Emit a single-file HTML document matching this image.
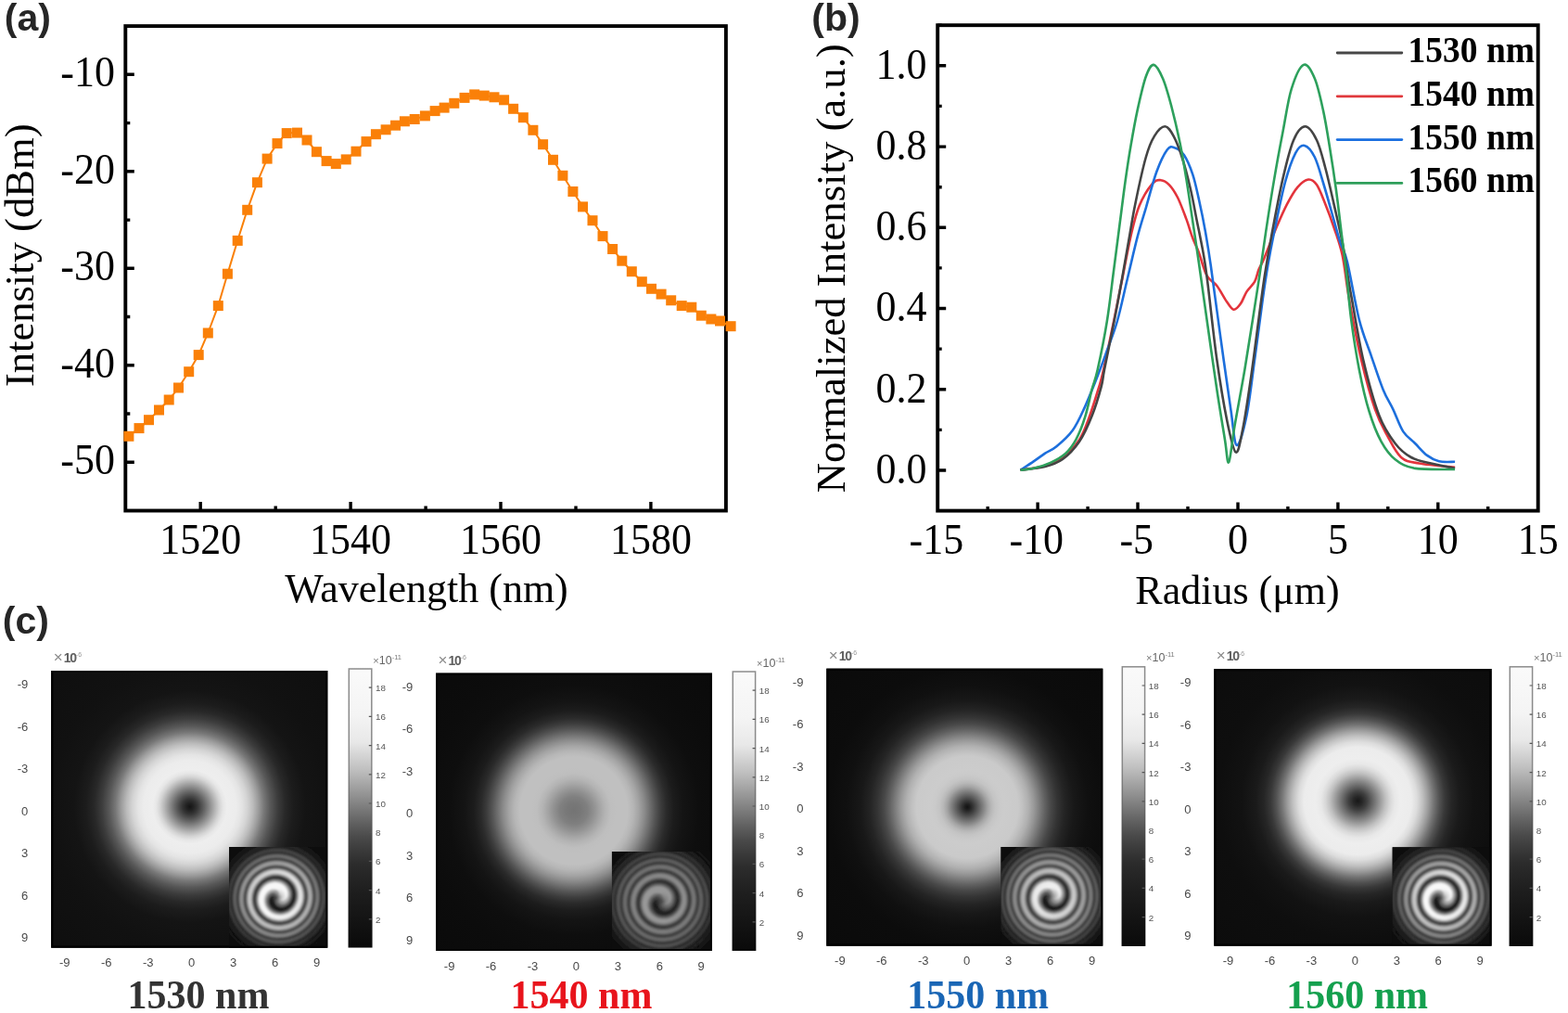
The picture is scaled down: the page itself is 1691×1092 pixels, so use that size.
<!DOCTYPE html>
<html><head><meta charset="utf-8"><style>
html,body{margin:0;padding:0;background:#fff;overflow:hidden;}
svg{display:block;}
</style></head><body>
<svg width="1691" height="1092" viewBox="0 0 1691 1092">
<rect width="1691" height="1092" fill="#fff"/>
<g id="pa">
<rect x="135.3" y="28.1" width="647.6" height="522.4" fill="none" stroke="#000" stroke-width="3.9"/>
<path d="M216.2,550.5v-9.5M297.2,550.5v-5M378.1,550.5v-9.5M459.1,550.5v-5M540.0,550.5v-9.5M621.0,550.5v-5M701.9,550.5v-9.5M135.3,498.3h9.5M135.3,446.0h5M135.3,393.8h9.5M135.3,341.5h5M135.3,289.3h9.5M135.3,237.1h5M135.3,184.8h9.5M135.3,132.6h5M135.3,80.3h9.5" stroke="#000" stroke-width="3.4" fill="none"/>
<path d="M138.9,470.3 L150,461.6 L160.5,452.7 L171.5,442 L182.2,431 L192.5,418 L203.7,400.7 L214.2,382.6 L224.3,359 L235.3,329.6 L245.4,295.2 L256.2,259.4 L266.7,226.3 L277.4,196.7 L288.1,171.1 L299,154.6 L309.2,143.6 L320.5,143.1 L331,151 L341.4,163.7 L352.1,173.6 L362.3,176.6 L373.2,171.9 L384,163.2 L395,152.6 L405.4,144.7 L416.1,139.8 L426.5,135.2 L436.4,130.8 L447.2,128.5 L458.4,124.9 L469.1,119.6 L479.1,116.1 L489.8,111.3 L501,105.4 L511.7,101.9 L522.3,103.1 L533,104.8 L543.6,107.8 L553.6,117.3 L564.3,126.7 L574.9,140.3 L585.6,155.7 L596.5,172.3 L606.9,189.3 L617.9,206.5 L628.5,222.9 L639,237.7 L650,254.6 L660.6,268.5 L670.8,281.2 L681.3,292.7 L692.3,303.7 L702.5,311.3 L713.1,317.1 L723.7,323.8 L735.2,329.6 L745.8,331.2 L756.3,340.2 L766.9,344 L776.5,346 L788.1,351.7" stroke="#F98007" stroke-width="2" fill="none"/>
<g fill="#FA8008">
<rect x="133.4" y="464.8" width="11" height="11"/>
<rect x="144.5" y="456.1" width="11" height="11"/>
<rect x="155.0" y="447.2" width="11" height="11"/>
<rect x="166.0" y="436.5" width="11" height="11"/>
<rect x="176.7" y="425.5" width="11" height="11"/>
<rect x="187.0" y="412.5" width="11" height="11"/>
<rect x="198.2" y="395.2" width="11" height="11"/>
<rect x="208.7" y="377.1" width="11" height="11"/>
<rect x="218.8" y="353.5" width="11" height="11"/>
<rect x="229.8" y="324.1" width="11" height="11"/>
<rect x="239.9" y="289.7" width="11" height="11"/>
<rect x="250.7" y="253.9" width="11" height="11"/>
<rect x="261.2" y="220.8" width="11" height="11"/>
<rect x="271.9" y="191.2" width="11" height="11"/>
<rect x="282.6" y="165.6" width="11" height="11"/>
<rect x="293.5" y="149.1" width="11" height="11"/>
<rect x="303.7" y="138.1" width="11" height="11"/>
<rect x="315.0" y="137.6" width="11" height="11"/>
<rect x="325.5" y="145.5" width="11" height="11"/>
<rect x="335.9" y="158.2" width="11" height="11"/>
<rect x="346.6" y="168.1" width="11" height="11"/>
<rect x="356.8" y="171.1" width="11" height="11"/>
<rect x="367.7" y="166.4" width="11" height="11"/>
<rect x="378.5" y="157.7" width="11" height="11"/>
<rect x="389.5" y="147.1" width="11" height="11"/>
<rect x="399.9" y="139.2" width="11" height="11"/>
<rect x="410.6" y="134.3" width="11" height="11"/>
<rect x="421.0" y="129.7" width="11" height="11"/>
<rect x="430.9" y="125.3" width="11" height="11"/>
<rect x="441.7" y="123.0" width="11" height="11"/>
<rect x="452.9" y="119.4" width="11" height="11"/>
<rect x="463.6" y="114.1" width="11" height="11"/>
<rect x="473.6" y="110.6" width="11" height="11"/>
<rect x="484.3" y="105.8" width="11" height="11"/>
<rect x="495.5" y="99.9" width="11" height="11"/>
<rect x="506.2" y="96.4" width="11" height="11"/>
<rect x="516.8" y="97.6" width="11" height="11"/>
<rect x="527.5" y="99.3" width="11" height="11"/>
<rect x="538.1" y="102.3" width="11" height="11"/>
<rect x="548.1" y="111.8" width="11" height="11"/>
<rect x="558.8" y="121.2" width="11" height="11"/>
<rect x="569.4" y="134.8" width="11" height="11"/>
<rect x="580.1" y="150.2" width="11" height="11"/>
<rect x="591.0" y="166.8" width="11" height="11"/>
<rect x="601.4" y="183.8" width="11" height="11"/>
<rect x="612.4" y="201.0" width="11" height="11"/>
<rect x="623.0" y="217.4" width="11" height="11"/>
<rect x="633.5" y="232.2" width="11" height="11"/>
<rect x="644.5" y="249.1" width="11" height="11"/>
<rect x="655.1" y="263.0" width="11" height="11"/>
<rect x="665.3" y="275.7" width="11" height="11"/>
<rect x="675.8" y="287.2" width="11" height="11"/>
<rect x="686.8" y="298.2" width="11" height="11"/>
<rect x="697.0" y="305.8" width="11" height="11"/>
<rect x="707.6" y="311.6" width="11" height="11"/>
<rect x="718.2" y="318.3" width="11" height="11"/>
<rect x="729.7" y="324.1" width="11" height="11"/>
<rect x="740.3" y="325.7" width="11" height="11"/>
<rect x="750.8" y="334.7" width="11" height="11"/>
<rect x="761.4" y="338.5" width="11" height="11"/>
<rect x="771.0" y="340.5" width="11" height="11"/>
<rect x="782.6" y="346.2" width="11" height="11"/>
</g>
<g font-family="'Liberation Serif','Times New Roman',serif" font-size="44" fill="#000">
<text transform="translate(124,511.4) scale(1,1.075)" text-anchor="end">-50</text>
<text transform="translate(124,406.9) scale(1,1.075)" text-anchor="end">-40</text>
<text transform="translate(124,302.4) scale(1,1.075)" text-anchor="end">-30</text>
<text transform="translate(124,197.9) scale(1,1.075)" text-anchor="end">-20</text>
<text transform="translate(124,93.4) scale(1,1.075)" text-anchor="end">-10</text>
<text transform="translate(216.2,596.5) scale(1,1.075)" text-anchor="middle">1520</text>
<text transform="translate(378.1,596.5) scale(1,1.075)" text-anchor="middle">1540</text>
<text transform="translate(540.0,596.5) scale(1,1.075)" text-anchor="middle">1560</text>
<text transform="translate(701.9,596.5) scale(1,1.075)" text-anchor="middle">1580</text>
<text x="460" y="649" text-anchor="middle">Wavelength (nm)</text>
<text transform="translate(36.4,275.3) rotate(-90)" text-anchor="middle" font-size="44.6">Intensity (dBm)</text>
</g>
<text x="4.8" y="33.4" font-family="'Liberation Sans',Arial,sans-serif" font-weight="bold" font-size="41" fill="#262626">(a)</text>
</g>
<g id="pb">
<rect x="1011.2" y="27.2" width="647.5" height="523.4" fill="none" stroke="#000" stroke-width="3.9"/>
<path d="M1065.2,550.6v-4.5M1119.1,550.6v-9M1173.1,550.6v-4.5M1227.0,550.6v-9M1281.0,550.6v-4.5M1335.0,550.6v-9M1388.9,550.6v-4.5M1442.9,550.6v-9M1496.8,550.6v-4.5M1550.8,550.6v-9M1604.7,550.6v-4.5M1011.2,507.0h9M1011.2,463.4h4.5M1011.2,419.8h9M1011.2,376.1h4.5M1011.2,332.5h9M1011.2,288.9h4.5M1011.2,245.3h9M1011.2,201.7h4.5M1011.2,158.1h9M1011.2,114.4h4.5M1011.2,70.8h9M1011.2,27.2h4.5" stroke="#000" stroke-width="3.4" fill="none"/>
<path d="M1100.5,506.7C1104.9,506.0 1119.6,504.5 1127.1,502.3C1134.6,500.1 1139.4,498.4 1145.6,493.7C1151.8,489.0 1159.1,481.5 1164.1,473.9C1169.0,466.3 1171.8,457.5 1175.3,448.0C1178.8,438.5 1182.7,425.3 1185.2,417.1C1187.7,408.9 1187.4,410.4 1190.1,398.6C1192.8,386.8 1197.7,362.8 1201.1,346.5C1204.5,330.2 1207.2,316.0 1210.3,300.7C1213.3,285.4 1216.4,268.0 1219.4,254.9C1222.5,241.8 1224.7,231.5 1228.6,222.0C1232.5,212.5 1238.8,202.7 1242.7,198.1C1246.6,193.5 1248.8,194.0 1251.8,194.2C1254.8,194.4 1258.0,196.2 1261.0,199.3C1264.0,202.4 1267.0,206.9 1270.1,213.0C1273.1,219.1 1276.6,228.7 1279.3,235.9C1282.0,243.2 1283.9,250.4 1286.2,256.5C1288.5,262.6 1290.5,265.7 1293.0,272.5C1295.5,279.3 1298.3,291.3 1301.5,297.2C1304.7,303.1 1308.7,303.3 1312.3,308.0C1315.9,312.7 1320.0,320.9 1323.0,325.2C1326.0,329.5 1328.0,333.4 1330.5,333.8C1333.0,334.2 1335.7,330.5 1338.0,327.3C1340.3,324.1 1342.0,318.3 1344.5,314.4C1347.0,310.5 1350.9,307.6 1353.1,303.7C1355.2,299.8 1355.8,294.9 1357.4,290.8C1359.0,286.8 1359.7,287.0 1362.9,279.4C1366.1,271.8 1372.4,255.0 1376.6,245.1C1380.8,235.2 1384.3,227.2 1388.1,219.9C1391.9,212.7 1395.7,206.0 1399.5,201.6C1403.3,197.2 1407.6,193.9 1411.0,193.5C1414.4,193.1 1417.0,194.9 1420.1,199.3C1423.1,203.7 1426.2,212.3 1429.3,219.9C1432.4,227.5 1435.5,235.9 1438.5,245.1C1441.5,254.2 1444.8,261.8 1447.6,274.8C1450.4,287.8 1451.7,304.2 1455.1,323.0C1458.5,341.8 1463.3,367.9 1468.0,387.6C1472.7,407.3 1478.3,427.8 1483.0,441.4C1487.7,455.0 1491.3,460.8 1496.0,469.4C1500.7,478.0 1505.3,488.0 1511.0,493.0C1516.7,498.0 1520.7,497.7 1530.4,499.5C1540.1,501.3 1562.6,503.1 1569.1,503.8" stroke="#E3343C" stroke-width="2.6" fill="none" stroke-linejoin="round"/>
<path d="M1100.5,506.7C1102.9,505.1 1110.3,500.4 1114.7,497.4C1119.1,494.4 1123.0,491.4 1127.1,488.7C1131.2,486.0 1134.5,485.4 1139.4,481.3C1144.3,477.2 1151.8,470.8 1156.7,464.0C1161.7,457.2 1164.6,450.5 1169.1,440.6C1173.6,430.7 1179.8,415.1 1183.9,404.7C1188.0,394.3 1190.3,387.7 1193.8,378.0C1197.3,368.3 1201.1,359.4 1204.8,346.5C1208.5,333.6 1212.1,316.0 1215.8,300.7C1219.5,285.4 1223.4,267.7 1226.8,254.9C1230.2,242.1 1232.5,235.4 1235.9,223.8C1239.3,212.2 1243.4,195.9 1247.2,185.5C1251.0,175.1 1255.5,165.9 1258.7,161.5C1262.0,157.1 1263.7,158.2 1266.7,159.2C1269.8,160.1 1273.8,162.4 1277.0,167.2C1280.2,172.0 1283.5,179.8 1286.2,187.8C1288.9,195.8 1290.7,205.0 1293.0,215.3C1295.3,225.6 1297.8,237.7 1299.9,249.6C1302.0,261.5 1303.0,267.1 1305.8,286.5C1308.6,305.9 1313.0,340.2 1316.6,366.0C1320.2,391.8 1324.4,422.3 1327.3,441.3C1330.2,460.3 1330.9,478.9 1333.8,480.0C1336.7,481.1 1341.3,463.1 1344.5,447.7C1347.7,432.3 1350.2,408.3 1353.1,387.5C1356.0,366.7 1359.3,340.1 1361.7,323.0C1364.1,305.9 1365.4,297.2 1367.5,285.0C1369.6,272.8 1371.2,264.3 1374.3,249.6C1377.3,234.9 1382.0,211.1 1385.8,197.0C1389.6,182.9 1393.7,171.6 1397.2,164.9C1400.7,158.2 1403.5,156.1 1406.9,156.9C1410.4,157.7 1414.6,162.8 1417.9,169.5C1421.2,176.2 1424.0,187.1 1427.0,197.0C1430.0,206.9 1433.2,218.3 1436.2,229.0C1439.2,239.7 1442.5,252.3 1445.3,261.1C1448.1,269.9 1449.5,268.1 1452.9,282.0C1456.3,295.9 1461.5,327.7 1465.8,344.6C1470.1,361.5 1474.4,370.8 1478.7,383.3C1483.0,395.9 1487.6,410.2 1491.6,419.9C1495.5,429.6 1498.8,433.9 1502.4,441.4C1506.0,448.9 1509.2,459.0 1513.2,465.1C1517.2,471.2 1521.8,473.7 1526.1,478.0C1530.4,482.3 1534.7,487.7 1539.0,490.9C1543.3,494.1 1546.9,496.1 1551.9,497.3C1556.9,498.5 1566.2,497.7 1569.1,497.8" stroke="#1D6FDC" stroke-width="2.6" fill="none" stroke-linejoin="round"/>
<path d="M1100.5,506.7C1104.9,506.1 1119.4,504.9 1127.0,503.0C1134.6,501.1 1139.8,499.5 1146.0,495.0C1152.2,490.5 1158.7,483.8 1164.0,476.0C1169.3,468.2 1173.8,457.8 1177.7,448.0C1181.6,438.2 1185.4,425.3 1187.6,417.1C1189.8,408.9 1188.7,410.4 1191.0,398.6C1193.3,386.8 1198.3,362.8 1201.5,346.5C1204.7,330.2 1207.3,315.4 1210.0,300.7C1212.7,285.9 1215.1,271.5 1217.5,258.0C1219.9,244.5 1221.2,234.7 1224.3,219.9C1227.3,205.2 1232.3,181.7 1235.8,169.5C1239.2,157.3 1241.6,152.1 1245.0,146.6C1248.4,141.1 1253.0,136.3 1256.4,136.3C1259.8,136.3 1262.5,141.1 1265.6,146.6C1268.6,152.1 1271.7,160.0 1274.7,169.5C1277.8,179.0 1281.2,192.4 1283.9,203.8C1286.6,215.2 1288.5,226.8 1290.8,238.2C1293.1,249.6 1295.7,261.6 1297.6,272.5C1299.5,283.4 1299.8,284.3 1302.2,303.5C1304.7,322.7 1308.8,362.8 1312.3,387.5C1315.8,412.2 1319.6,435.3 1323.0,452.0C1326.4,468.7 1329.8,485.7 1332.7,487.5C1335.6,489.3 1337.5,475.9 1340.2,462.8C1342.9,449.7 1345.9,428.7 1348.8,409.0C1351.7,389.3 1354.9,363.2 1357.4,344.5C1359.9,325.8 1361.5,312.8 1363.9,297.0C1366.4,281.2 1368.8,267.0 1372.1,249.6C1375.4,232.2 1379.7,208.8 1383.5,192.4C1387.3,176.0 1391.0,160.5 1395.0,151.2C1399.0,141.8 1403.4,136.3 1407.6,136.3C1411.8,136.3 1416.5,143.8 1420.1,151.2C1423.7,158.6 1426.2,169.6 1429.3,181.0C1432.4,192.4 1435.5,206.6 1438.5,219.9C1441.5,233.2 1444.9,247.2 1447.6,261.1C1450.3,275.0 1452.8,293.2 1454.5,303.5C1456.2,313.8 1455.4,309.0 1458.0,323.0C1460.6,337.0 1465.2,366.8 1470.1,387.6C1475.0,408.4 1481.5,432.7 1487.3,447.8C1493.0,462.9 1498.8,470.5 1504.6,478.0C1510.3,485.5 1515.3,489.4 1521.8,493.0C1528.2,496.6 1535.4,497.5 1543.3,499.5C1551.2,501.5 1564.8,504.0 1569.1,504.9" stroke="#444444" stroke-width="2.6" fill="none" stroke-linejoin="round"/>
<path d="M1100.5,506.7C1102.9,506.4 1109.2,506.1 1114.7,504.8C1120.2,503.5 1127.5,501.3 1133.3,498.6C1139.1,495.9 1144.8,492.8 1149.3,488.7C1153.8,484.6 1156.9,480.5 1160.4,473.9C1163.9,467.3 1167.5,458.2 1170.3,449.2C1173.1,440.2 1175.3,428.4 1177.5,420.0C1179.7,411.6 1181.0,410.9 1183.7,398.6C1186.4,386.4 1190.9,364.4 1193.8,346.5C1196.7,328.6 1198.8,308.9 1201.1,291.5C1203.4,274.1 1205.4,257.9 1207.5,242.0C1209.6,226.1 1211.5,210.2 1213.5,196.0C1215.5,181.8 1217.3,169.8 1219.5,157.0C1221.7,144.2 1223.9,131.5 1226.6,119.1C1229.3,106.7 1232.8,90.7 1235.8,82.5C1238.8,74.3 1241.2,69.5 1244.3,69.9C1247.3,70.3 1250.9,77.4 1254.1,84.8C1257.3,92.2 1260.2,103.0 1263.3,114.5C1266.3,126.0 1269.7,140.5 1272.4,153.5C1275.1,166.5 1277.0,178.3 1279.3,192.4C1281.6,206.5 1283.9,222.9 1286.2,238.2C1288.5,253.5 1290.5,266.3 1293.0,284.0C1295.5,301.7 1298.3,321.9 1301.5,344.5C1304.7,367.1 1309.1,398.3 1312.3,419.8C1315.5,441.3 1318.8,460.4 1320.9,473.5C1323.1,486.6 1323.4,500.8 1325.2,498.3C1327.0,495.8 1328.7,475.2 1331.6,458.5C1334.5,441.8 1339.2,417.3 1342.4,398.3C1345.6,379.3 1348.3,361.6 1351.0,344.5C1353.7,327.4 1356.1,311.8 1358.5,296.0C1360.9,280.2 1362.6,266.9 1365.2,249.6C1367.8,232.3 1371.2,210.3 1374.3,192.4C1377.3,174.5 1380.4,158.0 1383.5,142.0C1386.6,126.0 1389.0,108.2 1392.7,96.2C1396.4,84.2 1401.7,71.8 1405.9,69.9C1410.1,68.0 1414.4,76.6 1417.9,84.8C1421.4,93.0 1424.3,106.9 1427.0,119.1C1429.7,131.3 1431.6,143.9 1433.9,158.0C1436.2,172.1 1438.7,188.5 1440.8,203.8C1442.9,219.1 1444.7,235.2 1446.5,249.6C1448.3,264.0 1449.7,274.2 1451.5,290.0C1453.3,305.8 1454.8,326.5 1457.2,344.6C1459.6,362.7 1462.6,381.9 1465.8,398.4C1469.0,414.9 1472.6,430.6 1476.6,443.5C1480.5,456.4 1484.8,467.2 1489.5,475.8C1494.2,484.4 1498.5,490.4 1504.6,495.2C1510.7,500.0 1515.3,503.1 1526.1,504.9C1536.8,506.7 1561.9,505.8 1569.1,506.0" stroke="#2DA05C" stroke-width="2.6" fill="none" stroke-linejoin="round"/>
<path d="M1442.2,57.0H1511.8" stroke="#474747" stroke-width="2.8" stroke-linecap="round"/>
<text transform="translate(1518.6,66.9) scale(1,1.04)" font-family="'Liberation Serif','Times New Roman',serif" font-weight="bold" font-size="37.5">1530 nm</text>
<path d="M1442.2,103.8H1511.8" stroke="#E0383C" stroke-width="2.8" stroke-linecap="round"/>
<text transform="translate(1518.6,113.7) scale(1,1.04)" font-family="'Liberation Serif','Times New Roman',serif" font-weight="bold" font-size="37.5">1540 nm</text>
<path d="M1442.2,150.6H1511.8" stroke="#1A6FE0" stroke-width="2.8" stroke-linecap="round"/>
<text transform="translate(1518.6,160.5) scale(1,1.04)" font-family="'Liberation Serif','Times New Roman',serif" font-weight="bold" font-size="37.5">1550 nm</text>
<path d="M1442.2,197.4H1511.8" stroke="#2E9E5A" stroke-width="2.8" stroke-linecap="round"/>
<text transform="translate(1518.6,207.3) scale(1,1.04)" font-family="'Liberation Serif','Times New Roman',serif" font-weight="bold" font-size="37.5">1560 nm</text>
<g font-family="'Liberation Serif','Times New Roman',serif" font-size="44" fill="#000">
<text transform="translate(999.5,520.8) scale(1,1.075)" text-anchor="end">0.0</text>
<text transform="translate(999.5,433.6) scale(1,1.075)" text-anchor="end">0.2</text>
<text transform="translate(999.5,346.3) scale(1,1.075)" text-anchor="end">0.4</text>
<text transform="translate(999.5,259.1) scale(1,1.075)" text-anchor="end">0.6</text>
<text transform="translate(999.5,171.9) scale(1,1.075)" text-anchor="end">0.8</text>
<text transform="translate(999.5,84.6) scale(1,1.075)" text-anchor="end">1.0</text>
<text transform="translate(1009.9,597) scale(1,1.075)" text-anchor="middle">-15</text>
<text transform="translate(1117.8,597) scale(1,1.075)" text-anchor="middle">-10</text>
<text transform="translate(1225.7,597) scale(1,1.075)" text-anchor="middle">-5</text>
<text transform="translate(1335.0,597) scale(1,1.075)" text-anchor="middle">0</text>
<text transform="translate(1442.9,597) scale(1,1.075)" text-anchor="middle">5</text>
<text transform="translate(1550.8,597) scale(1,1.075)" text-anchor="middle">10</text>
<text transform="translate(1658.7,597) scale(1,1.075)" text-anchor="middle">15</text>
<text x="1334.5" y="650.8" text-anchor="middle">Radius (μm)</text>
<text transform="translate(911.2,289.3) rotate(-90)" text-anchor="middle" font-size="44.7">Normalized Intensity (a.u.)</text>
</g>
<text x="875.3" y="33.2" font-family="'Liberation Sans',Arial,sans-serif" font-weight="bold" font-size="41" fill="#262626">(b)</text>
</g>
<defs><linearGradient id="cbg" x1="0" y1="0" x2="0" y2="1"><stop offset="0" stop-color="#fafafa"/><stop offset="0.166" stop-color="#f4f4f4"/><stop offset="0.263" stop-color="#e8e8e8"/><stop offset="0.302" stop-color="#d8d8d8"/><stop offset="0.361" stop-color="#c0c0c0"/><stop offset="0.41" stop-color="#a8a8a8"/><stop offset="0.459" stop-color="#909090"/><stop offset="0.507" stop-color="#787878"/><stop offset="0.556" stop-color="#606060"/><stop offset="0.605" stop-color="#4a4a4a"/><stop offset="0.654" stop-color="#3a3a3a"/><stop offset="0.702" stop-color="#2c2c2c"/><stop offset="0.8" stop-color="#1e1e1e"/><stop offset="0.898" stop-color="#141414"/><stop offset="1" stop-color="#0a0a0a"/></linearGradient><linearGradient id="cbs" x1="0" y1="0" x2="0" y2="1"><stop offset="0" stop-color="#8c8c8c"/><stop offset="0.35" stop-color="#888"/><stop offset="0.5" stop-color="#6a6a6a"/><stop offset="0.62" stop-color="#444"/><stop offset="0.75" stop-color="#262626"/><stop offset="1" stop-color="#080808"/></linearGradient><filter id="sb" x="-5%" y="-5%" width="110%" height="110%"><feGaussianBlur stdDeviation="0.9"/></filter><radialGradient id="dn0" gradientUnits="userSpaceOnUse" cx="204.7" cy="869.6" r="220.0"><stop offset="0.0000" stop-color="#141414"/><stop offset="0.0182" stop-color="#222222"/><stop offset="0.0364" stop-color="#343434"/><stop offset="0.0545" stop-color="#4c4c4c"/><stop offset="0.0727" stop-color="#666666"/><stop offset="0.0909" stop-color="#828282"/><stop offset="0.1091" stop-color="#9e9e9e"/><stop offset="0.1273" stop-color="#bababa"/><stop offset="0.1455" stop-color="#d4d4d4"/><stop offset="0.1636" stop-color="#e6e6e6"/><stop offset="0.1818" stop-color="#eeeeee"/><stop offset="0.2273" stop-color="#ececec"/><stop offset="0.2545" stop-color="#e4e4e4"/><stop offset="0.2818" stop-color="#d4d4d4"/><stop offset="0.3091" stop-color="#bcbcbc"/><stop offset="0.3364" stop-color="#9c9c9c"/><stop offset="0.3636" stop-color="#787878"/><stop offset="0.3955" stop-color="#585858"/><stop offset="0.4318" stop-color="#3c3c3c"/><stop offset="0.4682" stop-color="#282828"/><stop offset="0.5091" stop-color="#1c1c1c"/><stop offset="0.5682" stop-color="#141414"/><stop offset="0.6818" stop-color="#111111"/><stop offset="1.0000" stop-color="#0e0e0e"/></radialGradient><clipPath id="ic0"><rect x="247.1" y="912.9" width="105.9" height="108.6"/></clipPath><radialGradient id="iD0" gradientUnits="userSpaceOnUse" cx="299.5" cy="967.5" r="66.0"><stop offset="0.0000" stop-color="#585858"/><stop offset="0.0455" stop-color="#404040"/><stop offset="0.1061" stop-color="#1c1c1c"/><stop offset="0.2121" stop-color="#1a1a1a"/><stop offset="0.3333" stop-color="#2e2e2e"/><stop offset="0.4545" stop-color="#404040"/><stop offset="0.5758" stop-color="#424242"/><stop offset="0.6970" stop-color="#323232"/><stop offset="0.7879" stop-color="#222222"/><stop offset="0.8788" stop-color="#141414"/><stop offset="1.0000" stop-color="#0a0a0a"/></radialGradient><radialGradient id="iL0_0" gradientUnits="userSpaceOnUse" cx="299.5" cy="967.5" r="80.0"><stop offset="0.0000" stop-color="#606060"/><stop offset="0.0375" stop-color="#636363"/><stop offset="0.0625" stop-color="#646464"/><stop offset="0.0875" stop-color="#5d5d5d"/><stop offset="0.1250" stop-color="#656565"/><stop offset="0.1750" stop-color="#646464"/><stop offset="0.2500" stop-color="#6e6e6e"/><stop offset="0.2750" stop-color="#6f6f6f"/><stop offset="0.3250" stop-color="#6f6f6f"/><stop offset="0.3750" stop-color="#6e6e6e"/><stop offset="0.4000" stop-color="#6b6b6b"/><stop offset="0.4750" stop-color="#606060"/><stop offset="0.5500" stop-color="#4b4b4b"/><stop offset="0.5750" stop-color="#444444"/><stop offset="0.6250" stop-color="#343434"/><stop offset="0.6500" stop-color="#2c2c2c"/><stop offset="0.6875" stop-color="#222222"/><stop offset="0.7250" stop-color="#191919"/><stop offset="0.7500" stop-color="#151515"/><stop offset="0.8250" stop-color="#0c0c0c"/><stop offset="1.0000" stop-color="#0a0a0a"/></radialGradient><radialGradient id="iL0_1" gradientUnits="userSpaceOnUse" cx="299.5" cy="967.5" r="80.0"><stop offset="0.0000" stop-color="#686868"/><stop offset="0.0375" stop-color="#868686"/><stop offset="0.0625" stop-color="#9a9a9a"/><stop offset="0.0875" stop-color="#9f9f9f"/><stop offset="0.1250" stop-color="#aeaeae"/><stop offset="0.1750" stop-color="#aeaeae"/><stop offset="0.2500" stop-color="#b3b3b3"/><stop offset="0.2750" stop-color="#afafaf"/><stop offset="0.3250" stop-color="#a8a8a8"/><stop offset="0.3750" stop-color="#9c9c9c"/><stop offset="0.4000" stop-color="#969696"/><stop offset="0.4750" stop-color="#7e7e7e"/><stop offset="0.5500" stop-color="#5f5f5f"/><stop offset="0.5750" stop-color="#555555"/><stop offset="0.6250" stop-color="#404040"/><stop offset="0.6500" stop-color="#373737"/><stop offset="0.6875" stop-color="#292929"/><stop offset="0.7250" stop-color="#1f1f1f"/><stop offset="0.7500" stop-color="#181818"/><stop offset="0.8250" stop-color="#0e0e0e"/><stop offset="1.0000" stop-color="#0a0a0a"/></radialGradient><radialGradient id="iL0_2" gradientUnits="userSpaceOnUse" cx="299.5" cy="967.5" r="80.0"><stop offset="0.0000" stop-color="#707070"/><stop offset="0.0375" stop-color="#aaaaaa"/><stop offset="0.0625" stop-color="#d0d0d0"/><stop offset="0.0875" stop-color="#e0e0e0"/><stop offset="0.1250" stop-color="#f8f8f8"/><stop offset="0.1750" stop-color="#f8f8f8"/><stop offset="0.2500" stop-color="#f8f8f8"/><stop offset="0.2750" stop-color="#f0f0f0"/><stop offset="0.3250" stop-color="#e0e0e0"/><stop offset="0.3750" stop-color="#cbcbcb"/><stop offset="0.4000" stop-color="#c0c0c0"/><stop offset="0.4750" stop-color="#9c9c9c"/><stop offset="0.5500" stop-color="#747474"/><stop offset="0.5750" stop-color="#676767"/><stop offset="0.6250" stop-color="#4c4c4c"/><stop offset="0.6500" stop-color="#414141"/><stop offset="0.6875" stop-color="#303030"/><stop offset="0.7250" stop-color="#242424"/><stop offset="0.7500" stop-color="#1c1c1c"/><stop offset="0.8250" stop-color="#101010"/><stop offset="1.0000" stop-color="#0a0a0a"/></radialGradient><radialGradient id="dn1" gradientUnits="userSpaceOnUse" cx="618.8" cy="873.8" r="220.0"><stop offset="0.0000" stop-color="#747474"/><stop offset="0.0364" stop-color="#787878"/><stop offset="0.0682" stop-color="#808080"/><stop offset="0.1000" stop-color="#929292"/><stop offset="0.1273" stop-color="#a4a4a4"/><stop offset="0.1545" stop-color="#b4b4b4"/><stop offset="0.1818" stop-color="#bebebe"/><stop offset="0.2091" stop-color="#c0c0c0"/><stop offset="0.2636" stop-color="#c0c0c0"/><stop offset="0.2909" stop-color="#b6b6b6"/><stop offset="0.3182" stop-color="#a4a4a4"/><stop offset="0.3455" stop-color="#8c8c8c"/><stop offset="0.3727" stop-color="#707070"/><stop offset="0.4000" stop-color="#545454"/><stop offset="0.4273" stop-color="#3c3c3c"/><stop offset="0.4545" stop-color="#2a2a2a"/><stop offset="0.4909" stop-color="#1c1c1c"/><stop offset="0.5364" stop-color="#141414"/><stop offset="0.6136" stop-color="#0e0e0e"/><stop offset="0.7273" stop-color="#0c0c0c"/><stop offset="1.0000" stop-color="#0a0a0a"/></radialGradient><clipPath id="ic1"><rect x="659.9" y="917.9" width="107.5" height="106.6"/></clipPath><radialGradient id="iD1" gradientUnits="userSpaceOnUse" cx="713.2" cy="971.7" r="66.0"><stop offset="0.0000" stop-color="#484848"/><stop offset="0.0455" stop-color="#383838"/><stop offset="0.1061" stop-color="#1e1e1e"/><stop offset="0.2121" stop-color="#222222"/><stop offset="0.3333" stop-color="#303030"/><stop offset="0.4545" stop-color="#383838"/><stop offset="0.5758" stop-color="#3a3a3a"/><stop offset="0.6970" stop-color="#323232"/><stop offset="0.7879" stop-color="#242424"/><stop offset="0.8788" stop-color="#161616"/><stop offset="1.0000" stop-color="#0c0c0c"/></radialGradient><radialGradient id="iL1_0" gradientUnits="userSpaceOnUse" cx="713.2" cy="971.7" r="80.0"><stop offset="0.0000" stop-color="#454545"/><stop offset="0.0375" stop-color="#474747"/><stop offset="0.0625" stop-color="#474747"/><stop offset="0.0875" stop-color="#424242"/><stop offset="0.1250" stop-color="#484848"/><stop offset="0.1750" stop-color="#494949"/><stop offset="0.2500" stop-color="#505050"/><stop offset="0.2750" stop-color="#515151"/><stop offset="0.3250" stop-color="#515151"/><stop offset="0.3750" stop-color="#515151"/><stop offset="0.4000" stop-color="#505050"/><stop offset="0.4750" stop-color="#4d4d4d"/><stop offset="0.5500" stop-color="#434343"/><stop offset="0.5750" stop-color="#404040"/><stop offset="0.6250" stop-color="#353535"/><stop offset="0.6500" stop-color="#2f2f2f"/><stop offset="0.6875" stop-color="#262626"/><stop offset="0.7250" stop-color="#1d1d1d"/><stop offset="0.7500" stop-color="#191919"/><stop offset="0.8250" stop-color="#0f0f0f"/><stop offset="1.0000" stop-color="#0b0b0b"/></radialGradient><radialGradient id="iL1_1" gradientUnits="userSpaceOnUse" cx="713.2" cy="971.7" r="80.0"><stop offset="0.0000" stop-color="#434343"/><stop offset="0.0375" stop-color="#575757"/><stop offset="0.0625" stop-color="#646464"/><stop offset="0.0875" stop-color="#666666"/><stop offset="0.1250" stop-color="#707070"/><stop offset="0.1750" stop-color="#717171"/><stop offset="0.2500" stop-color="#747474"/><stop offset="0.2750" stop-color="#737373"/><stop offset="0.3250" stop-color="#6f6f6f"/><stop offset="0.3750" stop-color="#6b6b6b"/><stop offset="0.4000" stop-color="#686868"/><stop offset="0.4750" stop-color="#5f5f5f"/><stop offset="0.5500" stop-color="#535353"/><stop offset="0.5750" stop-color="#4e4e4e"/><stop offset="0.6250" stop-color="#424242"/><stop offset="0.6500" stop-color="#3a3a3a"/><stop offset="0.6875" stop-color="#2f2f2f"/><stop offset="0.7250" stop-color="#252525"/><stop offset="0.7500" stop-color="#1e1e1e"/><stop offset="0.8250" stop-color="#111111"/><stop offset="1.0000" stop-color="#0b0b0b"/></radialGradient><radialGradient id="iL1_2" gradientUnits="userSpaceOnUse" cx="713.2" cy="971.7" r="80.0"><stop offset="0.0000" stop-color="#404040"/><stop offset="0.0375" stop-color="#666666"/><stop offset="0.0625" stop-color="#808080"/><stop offset="0.0875" stop-color="#8a8a8a"/><stop offset="0.1250" stop-color="#989898"/><stop offset="0.1750" stop-color="#989898"/><stop offset="0.2500" stop-color="#989898"/><stop offset="0.2750" stop-color="#949494"/><stop offset="0.3250" stop-color="#8c8c8c"/><stop offset="0.3750" stop-color="#848484"/><stop offset="0.4000" stop-color="#808080"/><stop offset="0.4750" stop-color="#727272"/><stop offset="0.5500" stop-color="#626262"/><stop offset="0.5750" stop-color="#5b5b5b"/><stop offset="0.6250" stop-color="#4e4e4e"/><stop offset="0.6500" stop-color="#454545"/><stop offset="0.6875" stop-color="#383838"/><stop offset="0.7250" stop-color="#2c2c2c"/><stop offset="0.7500" stop-color="#242424"/><stop offset="0.8250" stop-color="#141414"/><stop offset="1.0000" stop-color="#0a0a0a"/></radialGradient><radialGradient id="dn2" gradientUnits="userSpaceOnUse" cx="1043.2" cy="870.0" r="220.0"><stop offset="0.0000" stop-color="#121212"/><stop offset="0.0136" stop-color="#202020"/><stop offset="0.0273" stop-color="#343434"/><stop offset="0.0455" stop-color="#505050"/><stop offset="0.0636" stop-color="#6c6c6c"/><stop offset="0.0818" stop-color="#888888"/><stop offset="0.1000" stop-color="#a4a4a4"/><stop offset="0.1182" stop-color="#b8b8b8"/><stop offset="0.1364" stop-color="#c4c4c4"/><stop offset="0.1591" stop-color="#cacaca"/><stop offset="0.1818" stop-color="#cccccc"/><stop offset="0.2500" stop-color="#cacaca"/><stop offset="0.2727" stop-color="#c0c0c0"/><stop offset="0.3000" stop-color="#b0b0b0"/><stop offset="0.3273" stop-color="#989898"/><stop offset="0.3545" stop-color="#7c7c7c"/><stop offset="0.3818" stop-color="#606060"/><stop offset="0.4091" stop-color="#484848"/><stop offset="0.4409" stop-color="#343434"/><stop offset="0.4773" stop-color="#242424"/><stop offset="0.5227" stop-color="#181818"/><stop offset="0.5909" stop-color="#101010"/><stop offset="0.6818" stop-color="#0c0c0c"/><stop offset="1.0000" stop-color="#0a0a0a"/></radialGradient><clipPath id="ic2"><rect x="1079.4" y="912.9" width="109.4" height="106.3"/></clipPath><radialGradient id="iD2" gradientUnits="userSpaceOnUse" cx="1133.5" cy="966.5" r="68.0"><stop offset="0.0000" stop-color="#585858"/><stop offset="0.0441" stop-color="#404040"/><stop offset="0.1029" stop-color="#1e1e1e"/><stop offset="0.2059" stop-color="#1e1e1e"/><stop offset="0.3235" stop-color="#343434"/><stop offset="0.4412" stop-color="#444444"/><stop offset="0.5588" stop-color="#464646"/><stop offset="0.6765" stop-color="#383838"/><stop offset="0.7941" stop-color="#242424"/><stop offset="0.8824" stop-color="#161616"/><stop offset="1.0000" stop-color="#0a0a0a"/></radialGradient><radialGradient id="iL2_0" gradientUnits="userSpaceOnUse" cx="1133.5" cy="966.5" r="80.0"><stop offset="0.0000" stop-color="#606060"/><stop offset="0.0375" stop-color="#5e5e5e"/><stop offset="0.0625" stop-color="#5d5d5d"/><stop offset="0.0875" stop-color="#595959"/><stop offset="0.1250" stop-color="#646464"/><stop offset="0.1750" stop-color="#636363"/><stop offset="0.2250" stop-color="#696969"/><stop offset="0.2750" stop-color="#6a6a6a"/><stop offset="0.3000" stop-color="#696969"/><stop offset="0.3750" stop-color="#696969"/><stop offset="0.4500" stop-color="#626262"/><stop offset="0.4750" stop-color="#606060"/><stop offset="0.5250" stop-color="#565656"/><stop offset="0.5750" stop-color="#4b4b4b"/><stop offset="0.6000" stop-color="#444444"/><stop offset="0.6750" stop-color="#303030"/><stop offset="0.7500" stop-color="#1d1d1d"/><stop offset="0.8250" stop-color="#101010"/><stop offset="0.8500" stop-color="#0d0d0d"/><stop offset="1.0000" stop-color="#0a0a0a"/></radialGradient><radialGradient id="iL2_1" gradientUnits="userSpaceOnUse" cx="1133.5" cy="966.5" r="80.0"><stop offset="0.0000" stop-color="#686868"/><stop offset="0.0375" stop-color="#7d7d7d"/><stop offset="0.0625" stop-color="#8a8a8a"/><stop offset="0.0875" stop-color="#949494"/><stop offset="0.1250" stop-color="#aaaaaa"/><stop offset="0.1750" stop-color="#a7a7a7"/><stop offset="0.2250" stop-color="#a8a8a8"/><stop offset="0.2750" stop-color="#a0a0a0"/><stop offset="0.3000" stop-color="#9b9b9b"/><stop offset="0.3750" stop-color="#8f8f8f"/><stop offset="0.4500" stop-color="#7f7f7f"/><stop offset="0.4750" stop-color="#7a7a7a"/><stop offset="0.5250" stop-color="#6d6d6d"/><stop offset="0.5750" stop-color="#5d5d5d"/><stop offset="0.6000" stop-color="#555555"/><stop offset="0.6750" stop-color="#3c3c3c"/><stop offset="0.7500" stop-color="#252525"/><stop offset="0.8250" stop-color="#131313"/><stop offset="0.8500" stop-color="#111111"/><stop offset="1.0000" stop-color="#0a0a0a"/></radialGradient><radialGradient id="iL2_2" gradientUnits="userSpaceOnUse" cx="1133.5" cy="966.5" r="80.0"><stop offset="0.0000" stop-color="#707070"/><stop offset="0.0375" stop-color="#9b9b9b"/><stop offset="0.0625" stop-color="#b8b8b8"/><stop offset="0.0875" stop-color="#cecece"/><stop offset="0.1250" stop-color="#f0f0f0"/><stop offset="0.1750" stop-color="#ececec"/><stop offset="0.2250" stop-color="#e8e8e8"/><stop offset="0.2750" stop-color="#d5d5d5"/><stop offset="0.3000" stop-color="#cccccc"/><stop offset="0.3750" stop-color="#b4b4b4"/><stop offset="0.4500" stop-color="#9c9c9c"/><stop offset="0.4750" stop-color="#949494"/><stop offset="0.5250" stop-color="#848484"/><stop offset="0.5750" stop-color="#707070"/><stop offset="0.6000" stop-color="#666666"/><stop offset="0.6750" stop-color="#484848"/><stop offset="0.7500" stop-color="#2c2c2c"/><stop offset="0.8250" stop-color="#161616"/><stop offset="0.8500" stop-color="#141414"/><stop offset="1.0000" stop-color="#0a0a0a"/></radialGradient><radialGradient id="dn3" gradientUnits="userSpaceOnUse" cx="1464.3" cy="863.4" r="220.0"><stop offset="0.0000" stop-color="#181818"/><stop offset="0.0227" stop-color="#282828"/><stop offset="0.0455" stop-color="#404040"/><stop offset="0.0682" stop-color="#606060"/><stop offset="0.0909" stop-color="#808080"/><stop offset="0.1136" stop-color="#a0a0a0"/><stop offset="0.1364" stop-color="#c0c0c0"/><stop offset="0.1591" stop-color="#d8d8d8"/><stop offset="0.1818" stop-color="#e8e8e8"/><stop offset="0.2091" stop-color="#eeeeee"/><stop offset="0.2636" stop-color="#ececec"/><stop offset="0.2909" stop-color="#dcdcdc"/><stop offset="0.3182" stop-color="#c0c0c0"/><stop offset="0.3455" stop-color="#9c9c9c"/><stop offset="0.3727" stop-color="#747474"/><stop offset="0.4000" stop-color="#525252"/><stop offset="0.4273" stop-color="#383838"/><stop offset="0.4591" stop-color="#262626"/><stop offset="0.5000" stop-color="#1a1a1a"/><stop offset="0.5682" stop-color="#121212"/><stop offset="0.6818" stop-color="#0e0e0e"/><stop offset="1.0000" stop-color="#0c0c0c"/></radialGradient><clipPath id="ic3"><rect x="1501.6" y="913.2" width="106.5" height="106.0"/></clipPath><radialGradient id="iD3" gradientUnits="userSpaceOnUse" cx="1555.4" cy="968.0" r="66.0"><stop offset="0.0000" stop-color="#585858"/><stop offset="0.0455" stop-color="#404040"/><stop offset="0.1061" stop-color="#1c1c1c"/><stop offset="0.2121" stop-color="#1a1a1a"/><stop offset="0.3333" stop-color="#2e2e2e"/><stop offset="0.4545" stop-color="#404040"/><stop offset="0.5758" stop-color="#424242"/><stop offset="0.6970" stop-color="#323232"/><stop offset="0.7879" stop-color="#222222"/><stop offset="0.8788" stop-color="#141414"/><stop offset="1.0000" stop-color="#0a0a0a"/></radialGradient><radialGradient id="iL3_0" gradientUnits="userSpaceOnUse" cx="1555.4" cy="968.0" r="80.0"><stop offset="0.0000" stop-color="#606060"/><stop offset="0.0375" stop-color="#636363"/><stop offset="0.0625" stop-color="#646464"/><stop offset="0.0875" stop-color="#5d5d5d"/><stop offset="0.1250" stop-color="#656565"/><stop offset="0.1750" stop-color="#646464"/><stop offset="0.2500" stop-color="#6e6e6e"/><stop offset="0.2750" stop-color="#6f6f6f"/><stop offset="0.3250" stop-color="#6f6f6f"/><stop offset="0.3750" stop-color="#6e6e6e"/><stop offset="0.4000" stop-color="#6b6b6b"/><stop offset="0.4750" stop-color="#606060"/><stop offset="0.5500" stop-color="#4b4b4b"/><stop offset="0.5750" stop-color="#444444"/><stop offset="0.6250" stop-color="#343434"/><stop offset="0.6500" stop-color="#2c2c2c"/><stop offset="0.6875" stop-color="#222222"/><stop offset="0.7250" stop-color="#191919"/><stop offset="0.7500" stop-color="#151515"/><stop offset="0.8250" stop-color="#0c0c0c"/><stop offset="1.0000" stop-color="#0a0a0a"/></radialGradient><radialGradient id="iL3_1" gradientUnits="userSpaceOnUse" cx="1555.4" cy="968.0" r="80.0"><stop offset="0.0000" stop-color="#686868"/><stop offset="0.0375" stop-color="#868686"/><stop offset="0.0625" stop-color="#9a9a9a"/><stop offset="0.0875" stop-color="#9f9f9f"/><stop offset="0.1250" stop-color="#aeaeae"/><stop offset="0.1750" stop-color="#aeaeae"/><stop offset="0.2500" stop-color="#b3b3b3"/><stop offset="0.2750" stop-color="#afafaf"/><stop offset="0.3250" stop-color="#a8a8a8"/><stop offset="0.3750" stop-color="#9c9c9c"/><stop offset="0.4000" stop-color="#969696"/><stop offset="0.4750" stop-color="#7e7e7e"/><stop offset="0.5500" stop-color="#5f5f5f"/><stop offset="0.5750" stop-color="#555555"/><stop offset="0.6250" stop-color="#404040"/><stop offset="0.6500" stop-color="#373737"/><stop offset="0.6875" stop-color="#292929"/><stop offset="0.7250" stop-color="#1f1f1f"/><stop offset="0.7500" stop-color="#181818"/><stop offset="0.8250" stop-color="#0e0e0e"/><stop offset="1.0000" stop-color="#0a0a0a"/></radialGradient><radialGradient id="iL3_2" gradientUnits="userSpaceOnUse" cx="1555.4" cy="968.0" r="80.0"><stop offset="0.0000" stop-color="#707070"/><stop offset="0.0375" stop-color="#aaaaaa"/><stop offset="0.0625" stop-color="#d0d0d0"/><stop offset="0.0875" stop-color="#e0e0e0"/><stop offset="0.1250" stop-color="#f8f8f8"/><stop offset="0.1750" stop-color="#f8f8f8"/><stop offset="0.2500" stop-color="#f8f8f8"/><stop offset="0.2750" stop-color="#f0f0f0"/><stop offset="0.3250" stop-color="#e0e0e0"/><stop offset="0.3750" stop-color="#cbcbcb"/><stop offset="0.4000" stop-color="#c0c0c0"/><stop offset="0.4750" stop-color="#9c9c9c"/><stop offset="0.5500" stop-color="#747474"/><stop offset="0.5750" stop-color="#676767"/><stop offset="0.6250" stop-color="#4c4c4c"/><stop offset="0.6500" stop-color="#414141"/><stop offset="0.6875" stop-color="#303030"/><stop offset="0.7250" stop-color="#242424"/><stop offset="0.7500" stop-color="#1c1c1c"/><stop offset="0.8250" stop-color="#101010"/><stop offset="1.0000" stop-color="#0a0a0a"/></radialGradient></defs>
<g id="pc">
<rect x="56.2" y="724.0" width="296.1" height="296.7" fill="url(#dn0)" stroke="#000" stroke-width="2"/>
<g clip-path="url(#ic0)">
<rect x="247.1" y="912.9" width="105.9" height="108.6" fill="#0a0a0a"/>
<g filter="url(#sb)">
<circle cx="299.5" cy="967.5" r="80" fill="url(#iD0)"/>
<path d="M299.5,967.5 297.4,969.7 296.9,970.8 296.7,971.8 296.7,972.8 296.9,973.7 297.3,974.5 297.8,975.2 298.4,975.9 299.2,976.4 300.0,976.9 300.9,977.3 301.9,977.6 302.9,977.7 304.0,977.7 305.1,977.6 306.2,977.4 307.3,977.1 308.3,976.6 309.4,976.0 310.4,975.2 311.3,974.4 312.2,973.4 313.0,972.4 313.6,971.2 314.2,970.0 314.7,968.7 315.0,967.3 315.2,965.9 315.3,964.4 315.2,963.0 315.0,961.5 314.6,960.0 314.1,958.5 313.4,957.1 312.6,955.7 311.7,954.4 310.6,953.2 309.4,952.0 308.1,951.0 306.7,950.0 305.1,949.2 303.5,948.6 301.8,948.1 300.1,947.7 298.3,947.5 296.5,947.5 294.6,947.6 292.8,947.9 291.0,948.4 289.2,949.1 287.5,949.9 285.8,950.9 284.2,952.1 282.7,953.4 281.4,954.8 280.1,956.4 279.0,958.1 278.1,959.9 277.3,961.8 276.7,963.8 276.2,965.9 276.0,968.0 275.9,970.1 276.1,972.2 276.4,974.4 277.0,976.5 277.7,978.6 278.6,980.6 279.8,982.5 281.0,984.3 282.5,986.1 284.1,987.6 285.9,989.1 287.8,990.4 289.9,991.5 292.0,992.4 294.3,993.2 296.6,993.7 298.9,994.0 301.3,994.1 303.7,994.0 306.2,993.7 308.5,993.2 310.9,992.4 313.1,991.4 315.3,990.2 317.4,988.8 319.4,987.2 321.2,985.5 322.8,983.5 324.3,981.5 325.6,979.2 326.7,976.9 327.6,974.4 328.3,971.9 328.7,969.3 328.9,966.7 328.8,964.0 328.6,961.4 328.0,958.7 327.3,956.2 326.3,953.6 325.0,951.2 323.6,948.9 321.9,946.7 320.1,944.7 318.0,942.8 315.8,941.1 313.4,939.6 310.9,938.3 308.3,937.3 305.6,936.5 302.8,935.9 299.9,935.6 297.0,935.6 294.2,935.8 291.3,936.3 288.5,937.0 285.7,938.0 283.0,939.2 280.5,940.7 278.1,942.4 275.8,944.4 273.7,946.5 271.8,948.8 270.2,951.3 268.7,954.0 267.5,956.8 266.5,959.7 265.8,962.6 265.4,965.7 265.2,968.7 265.3,971.8 265.8,974.9 266.4,978.0 267.4,980.9 268.6,983.8 270.1,986.6 271.8,989.3 273.8,991.7 276.0,994.0 278.4,996.1 281.0,998.0 283.8,999.7 286.7,1001.1 289.7,1002.2 292.9,1003.1 296.1,1003.7 299.3,1003.9 302.6,1003.9 305.9,1003.6 309.2,1003.0 312.4,1002.1 315.5,1000.9 318.5,999.5 321.3,997.7 324.0,995.7 326.6,993.5 328.9,991.0 331.0,988.4 332.8,985.5 334.4,982.5 335.7,979.3 336.8,976.0 337.5,972.7 337.9,969.2 338.0,965.8 337.8,962.3 337.3,958.9 336.5,955.5 335.4,952.1 334.0,948.9 332.2,945.8 330.2,942.9 328.0,940.2 325.5,937.6 322.8,935.3 319.8,933.3 316.7,931.5 313.5,930.0 310.1,928.8 306.6,927.9 303.0,927.3 299.3,927.0 295.7,927.1 292.1,927.5 288.5,928.2 284.9,929.3 281.5,930.6 278.2,932.3 275.1,934.3 272.1,936.5 269.4,939.0 266.8,941.8 264.6,944.8 262.6,947.9 260.9,951.3 259.5,954.8 258.4,958.4 257.6,962.2 257.2,965.9 257.1,969.8 257.4,973.6 258.0,977.4 259.0,981.1 260.3,984.7 261.9,988.2 263.8,991.6 266.0,994.7 268.5,997.7 271.3,1000.5 274.3,1002.9 277.6,1005.1 281.0,1007.1 284.6,1008.7 288.3,1009.9 292.2,1010.9 296.1,1011.4 300.0,1011.7 304.0,1011.5 308.0,1011.1 311.9,1010.2 315.7,1009.0 319.4,1007.5 323.0,1005.6 326.4,1003.4 329.6,1000.9 332.5,998.2 335.2,995.1 337.7,991.9 339.8,988.4 341.6,984.7 343.1,980.9 344.2,976.9 344.9,972.9 345.3,968.8 345.4,964.7 345.0,960.5 344.3,956.5 343.2,952.4 341.8,948.5 340.0,944.8 337.9,941.2 335.4,937.8 332.7,934.6 329.6,931.7 326.3,929.0 322.8,926.7 319.1,924.7 315.2,923.0 311.2,921.7 307.0,920.7 302.8,920.1 298.5,919.9 294.2,920.1 290.0,920.7 285.8,921.7 281.7,923.0 277.7,924.7 273.9,926.7 270.3,929.1 266.9,931.8 263.8,934.9 260.9,938.1 258.3,941.7 256.1,945.5 254.2,949.4 252.7,953.5 251.5,957.8 250.7,962.1 250.4,966.5 250.4,970.9 250.8,975.4 251.6,979.7 252.8,984.0 254.4,988.2 256.4,992.2 258.7,996.0 261.4,999.6 264.3,1003.0 267.6,1006.1 271.2,1008.9 274.9,1011.3 279.0,1013.4 283.1,1015.2 287.5,1016.5 291.9,1017.5 296.4,1018.1 301.0,1018.2 305.5,1018.0 310.1,1017.3 314.5,1016.2 318.9,1014.8 323.1,1012.9 327.1,1010.7 331.0,1008.1 334.5,1005.2 337.8,1001.9 340.9,998.4 343.5,994.6 345.9,990.6 347.8,986.3 349.4,981.9 350.6,977.4 351.4,972.8 351.7,968.1 351.6,963.4 351.1,958.7 350.2,954.1 348.9,949.6 347.2,945.2 345.0,940.9 342.5,936.9 339.7,933.1 336.5,929.6 333.0,926.3 329.2,923.4 325.1,920.8 320.9,918.7 316.4,916.9 311.8,915.5 307.1,914.5 302.3,913.9 297.5,913.8 292.7,914.1 287.9,914.9 283.2,916.1 278.6,917.7 274.1,919.7 269.9,922.1 265.9,924.9 262.1,928.0 258.7,931.5 255.5,935.2 252.7,939.3 250.3,943.5 248.3,948.0 246.7,952.7 245.5,957.5 244.7,962.4 244.4,967.3 244.5,972.3 245.1,977.2 246.1,982.1 247.5,986.9 249.4,991.5 251.7,995.9 254.4,1000.2 257.5,1004.1 260.9,1007.8 264.6,1011.2 268.6,1014.2 272.9,1016.9 277.4,1019.1 282.1,1021.0 287.0,1022.4 292.0,1023.4 297.0,1023.9 302.1,1024.0 307.2,1023.6 312.2,1022.8 317.2,1021.5 322.0,1019.8 326.6,1017.6 331.0,1015.0 335.2,1012.0 339.1,1008.7 342.7,1005.0 346.0,1001.0 348.9,996.8 351.4,992.2 353.5,987.5 355.1,982.6 356.3,977.5 357.1,972.4 357.4,967.2 357.2,962.0 356.5,956.8 355.4,951.7 353.9,946.7 351.8,941.9 349.4,937.2 346.5,932.8 343.3,928.7 339.7,924.9 335.7,921.4 331.5,918.2 326.9,915.5 322.2,913.2 317.2,911.3 312.1,909.8 306.9,908.9 301.6,908.4 296.3,908.3 291.0,908.8 285.7,909.7 280.5,911.1 275.5,913.0 270.7,915.3 266.1,918.0 261.7,921.2 257.6,924.7 253.9,928.6 250.5,932.8 247.6,937.3 245.0,942.1 242.9,947.1 241.2,952.2 240.0,957.5 239.2,962.9 239.0,968.3 239.2,973.8 240.0,979.2 241.2,984.5 242.9,989.7 245.0,994.7 247.6,999.5 250.7,1004.1 254.1,1008.4 257.9,1012.4 262.1,1016.0 266.6,1019.2 271.3,1022.0 276.3,1024.4 281.5,1026.3 286.8,1027.8 292.3,1028.8 297.8,1029.2 303.4,1029.2 308.9,1028.7 314.4,1027.7 319.8,1026.1 325.0,1024.1 330.0,1021.7 334.8,1018.8 339.3,1015.5 343.5,1011.7 347.4,1007.6 350.8,1003.2 353.9,998.5 356.5,993.5 358.7,988.3 360.4,982.9 361.6,977.4 362.3,971.8 362.5,966.1 362.2,960.4 361.4,954.8 360.1,949.3 358.3,943.9 356.0,938.7 353.2,933.7 350.0,928.9 346.4,924.5 342.4,920.4 338.0,916.7 333.3,913.4 328.4,910.5 323.1,908.1 317.7,906.1 312.2,904.7 306.5,903.7 300.7,903.3 294.9,903.4 289.2,904.0 283.5,905.1 277.9,906.7 272.5,908.8 267.3,911.4 262.4,914.5 257.7,918.0 253.4,921.9 249.4,926.2 245.8,930.8 242.7,935.8 240.0,941.0 237.8,946.4 236.1,952.0 234.9,957.8 234.2,963.6 234.1,969.5 234.4,975.4 235.3,981.2 236.8,986.9 238.7,992.5 241.1,997.9 244.1,1003.1 247.4,1008.0 251.2,1012.5 255.4,1016.7 260.0,1020.5 264.9,1023.9 270.1,1026.9 275.5,1029.3 281.1,1031.3 286.9,1032.8 292.8,1033.7 298.8,1034.1 304.8,1034.0 310.8,1033.3 316.7,1032.1 322.4,1030.3 328.0,1028.1 333.4,1025.3 338.5,1022.1 343.3,1018.4 347.7,1014.3 351.8,1009.9 355.4,1005.0 358.6,999.9 361.4,994.5 363.6,988.8 365.3,983.0 366.5,977.0 367.2,971.0 367.3,964.9 366.8,958.8 365.8,952.8 364.3,946.8 362.2,941.1 359.7,935.5 356.6,930.2 353.1,925.2 349.1,920.5 344.7,916.2 339.9,912.3 334.8,908.8 329.5,905.8 323.8,903.3 318.0,901.3 311.9,899.8 305.8,898.9 299.6,898.6 293.4,898.8 287.3,899.5 281.2,900.9 275.3,902.7 269.5,905.1 264.0,908.0 258.7,911.4 253.8,915.2 249.3,919.5 246.7,922.2 249.4,924.5 251.8,921.9 256.1,917.9 260.8,914.2 265.8,911.0 271.0,908.3 276.5,906.0 282.1,904.3 287.9,903.0 293.7,902.3 299.6,902.2 305.5,902.5 311.3,903.4 317.0,904.7 322.5,906.6 327.9,909.0 333.0,911.9 337.8,915.2 342.3,918.9 346.5,923.0 350.2,927.4 353.6,932.2 356.5,937.2 358.9,942.5 360.8,947.9 362.3,953.5 363.2,959.2 363.6,965.0 363.5,970.8 362.9,976.5 361.8,982.2 360.1,987.7 358.0,993.0 355.4,998.1 352.4,1003.0 348.9,1007.6 345.1,1011.8 340.9,1015.7 336.3,1019.1 331.5,1022.2 326.4,1024.8 321.1,1026.9 315.7,1028.5 310.1,1029.7 304.5,1030.3 298.8,1030.4 293.2,1030.0 287.6,1029.1 282.1,1027.8 276.8,1025.9 271.7,1023.5 266.8,1020.8 262.2,1017.6 257.9,1013.9 254.0,1010.0 250.4,1005.7 247.2,1001.1 244.5,996.2 242.2,991.1 240.4,985.8 239.0,980.4 238.2,974.9 237.8,969.4 238.0,963.8 238.6,958.3 239.8,952.9 241.4,947.6 243.5,942.5 246.0,937.6 249.0,933.0 252.3,928.6 256.1,924.6 260.2,920.9 264.5,917.6 269.2,914.7 274.1,912.3 279.2,910.3 284.4,908.8 289.8,907.7 295.2,907.2 300.6,907.1 306.0,907.5 311.4,908.4 316.6,909.8 321.7,911.7 326.6,914.0 331.3,916.7 335.7,919.8 339.8,923.3 343.5,927.1 346.9,931.3 349.9,935.8 352.5,940.4 354.6,945.3 356.3,950.4 357.6,955.6 358.3,960.9 358.6,966.2 358.4,971.5 357.7,976.8 356.6,982.0 355.0,987.0 352.9,991.9 350.5,996.5 347.6,1001.0 344.3,1005.1 340.7,1008.9 336.8,1012.4 332.5,1015.5 328.1,1018.2 323.4,1020.5 318.5,1022.4 313.4,1023.8 308.3,1024.7 303.1,1025.2 297.9,1025.2 292.8,1024.8 287.7,1023.9 282.7,1022.5 277.8,1020.7 273.2,1018.5 268.7,1015.8 264.6,1012.8 260.7,1009.4 257.1,1005.7 253.9,1001.7 251.1,997.4 248.7,992.9 246.7,988.2 245.1,983.4 244.0,978.4 243.3,973.3 243.1,968.3 243.3,963.2 244.0,958.2 245.2,953.3 246.7,948.5 248.7,943.8 251.1,939.4 253.9,935.2 257.1,931.3 260.5,927.7 264.3,924.4 268.4,921.5 272.7,918.9 277.2,916.8 281.9,915.1 286.7,913.8 291.6,912.9 296.5,912.5 301.5,912.6 306.4,913.0 311.2,913.9 316.0,915.3 320.6,917.1 325.0,919.2 329.2,921.8 333.1,924.7 336.8,928.0 340.1,931.5 343.1,935.4 345.7,939.5 348.0,943.8 349.9,948.2 351.3,952.9 352.3,957.6 352.9,962.4 353.1,967.2 352.8,972.0 352.1,976.8 351.0,981.5 349.4,986.0 347.5,990.4 345.2,994.6 342.5,998.5 339.5,1002.2 336.1,1005.6 332.5,1008.6 328.6,1011.4 324.5,1013.7 320.2,1015.7 315.8,1017.3 311.2,1018.5 306.6,1019.3 301.9,1019.6 297.2,1019.5 292.6,1019.0 288.0,1018.1 283.5,1016.8 279.2,1015.1 275.0,1013.0 271.1,1010.5 267.4,1007.7 264.0,1004.6 260.8,1001.2 258.0,997.5 255.6,993.6 253.5,989.6 251.8,985.3 250.4,980.9 249.5,976.4 249.0,971.9 248.9,967.3 249.2,962.8 249.9,958.3 251.0,953.9 252.5,949.7 254.4,945.5 256.6,941.6 259.2,937.9 262.1,934.5 265.3,931.3 268.7,928.5 272.4,925.9 276.3,923.7 280.4,921.9 284.6,920.5 288.9,919.4 293.2,918.7 297.7,918.5 302.1,918.6 306.4,919.1 310.7,920.0 314.9,921.3 319.0,923.0 322.9,925.0 326.5,927.3 330.0,930.0 333.2,932.9 336.1,936.2 338.7,939.6 340.9,943.3 342.9,947.2 344.4,951.2 345.6,955.3 346.4,959.5 346.9,963.8 346.9,968.0 346.6,972.3 345.9,976.5 344.8,980.6 343.3,984.6 341.5,988.4 339.4,992.0 337.0,995.5 334.2,998.7 331.2,1001.6 328.0,1004.2 324.5,1006.6 320.8,1008.6 317.0,1010.2 313.1,1011.5 309.0,1012.5 305.0,1013.1 300.8,1013.3 296.7,1013.1 292.7,1012.6 288.7,1011.7 284.8,1010.4 281.0,1008.8 277.4,1006.9 274.0,1004.7 270.8,1002.2 267.9,999.4 265.2,996.4 262.9,993.1 260.8,989.7 259.0,986.1 257.6,982.3 256.6,978.5 255.9,974.5 255.5,970.6 255.5,966.6 255.9,962.7 256.6,958.8 257.6,955.0 259.0,951.3 260.7,947.8 262.7,944.5 265.0,941.3 267.6,938.4 270.4,935.7 273.5,933.3 276.7,931.2 280.1,929.4 283.6,927.9 287.3,926.7 291.0,925.9 294.8,925.4 298.6,925.3 302.4,925.5 306.2,926.0 309.8,926.9 313.4,928.1 316.9,929.6 320.1,931.4 323.2,933.5 326.1,935.8 328.8,938.4 331.2,941.2 333.4,944.3 335.2,947.4 336.8,950.8 338.0,954.2 338.9,957.8 339.6,961.4 339.8,965.0 339.8,968.6 339.4,972.2 338.7,975.8 337.7,979.3 336.4,982.6 334.8,985.8 332.9,988.8 330.8,991.7 328.4,994.3 325.8,996.7 323.0,998.9 320.0,1000.8 316.9,1002.4 313.6,1003.7 310.3,1004.7 306.9,1005.4 303.4,1005.8 300.0,1005.9 296.5,1005.6 293.1,1005.1 289.8,1004.3 286.6,1003.1 283.5,1001.7 280.5,1000.0 277.8,998.1 275.2,995.9 272.8,993.6 270.7,991.0 268.8,988.2 267.1,985.3 265.8,982.3 264.7,979.2 263.9,976.0 263.4,972.7 263.2,969.4 263.3,966.2 263.7,962.9 264.4,959.8 265.3,956.7 266.5,953.7 268.0,950.8 269.8,948.2 271.7,945.6 273.9,943.3 276.3,941.2 278.8,939.3 281.5,937.7 284.3,936.3 287.2,935.2 290.2,934.3 293.2,933.8 296.3,933.5 299.4,933.4 302.4,933.7 305.4,934.2 308.4,935.0 311.2,936.1 313.9,937.4 316.5,938.9 318.9,940.6 321.2,942.6 323.2,944.7 325.1,947.1 326.7,949.5 328.1,952.1 329.2,954.8 330.1,957.5 330.7,960.4 331.1,963.2 331.2,966.1 331.1,968.9 330.7,971.7 330.1,974.5 329.2,977.2 328.0,979.7 326.7,982.2 325.1,984.5 323.4,986.6 321.5,988.6 319.4,990.4 317.2,992.0 314.8,993.3 312.4,994.5 309.9,995.4 307.3,996.1 304.6,996.5 302.0,996.7 299.4,996.6 296.8,996.4 294.2,995.8 291.7,995.1 289.3,994.1 287.1,993.0 284.9,991.6 282.9,990.1 281.0,988.4 279.3,986.5 277.8,984.5 276.5,982.4 275.4,980.2 274.5,978.0 273.8,975.6 273.4,973.2 273.1,970.8 273.1,968.5 273.3,966.1 273.7,963.8 274.3,961.5 275.1,959.3 276.1,957.2 277.3,955.3 278.6,953.4 280.1,951.7 281.7,950.1 283.5,948.8 285.3,947.5 287.3,946.5 289.3,945.7 291.4,945.0 293.5,944.5 295.6,944.3 297.7,944.2 299.8,944.3 301.9,944.6 303.9,945.1 305.8,945.8 307.7,946.7 309.4,947.6 311.0,948.8 312.6,950.1 313.9,951.5 315.2,953.0 316.2,954.6 317.2,956.2 317.9,958.0 318.5,959.7 318.9,961.5 319.1,963.4 319.2,965.2 319.1,967.0 318.9,968.7 318.5,970.4 317.9,972.0 317.2,973.6 316.3,975.1 315.4,976.4 314.3,977.7 313.1,978.8 311.9,979.8 310.6,980.7 309.2,981.4 307.8,982.0 306.3,982.4 304.9,982.7 303.4,982.9 302.0,982.9 300.6,982.8 299.2,982.5 297.9,982.1 296.6,981.6 295.5,981.0 294.4,980.3 293.4,979.5 292.5,978.6 291.8,977.6 291.1,976.6 290.6,975.6 290.2,974.6 290.0,973.5 289.8,972.4 289.8,971.4 289.9,970.4 290.1,969.4 290.5,968.5 290.9,967.7 291.5,966.9 292.1,966.3 292.9,965.8 293.7,965.4 294.6,965.3 295.6,965.3 296.8,965.6 298.4,966.5Z" fill="url(#iL0_0)"/>
<path d="M299.5,967.5 299.3,970.5 299.6,971.7 300.1,972.6 300.7,973.3 301.5,973.9 302.3,974.3 303.1,974.5 304.1,974.6 305.0,974.6 305.9,974.4 306.9,974.1 307.8,973.7 308.7,973.1 309.5,972.5 310.3,971.7 311.0,970.8 311.6,969.8 312.1,968.8 312.5,967.6 312.8,966.5 313.0,965.2 313.0,963.9 313.0,962.6 312.7,961.3 312.4,960.0 311.9,958.7 311.3,957.4 310.5,956.2 309.6,955.0 308.6,953.9 307.5,952.9 306.3,952.0 304.9,951.2 303.5,950.6 302.0,950.0 300.4,949.6 298.8,949.4 297.2,949.2 295.5,949.3 293.8,949.5 292.1,949.9 290.4,950.4 288.8,951.1 287.2,952.0 285.7,953.0 284.3,954.1 283.0,955.4 281.8,956.8 280.7,958.4 279.8,960.0 279.0,961.8 278.3,963.6 277.9,965.5 277.6,967.4 277.4,969.4 277.5,971.4 277.8,973.4 278.2,975.4 278.8,977.4 279.6,979.3 280.6,981.2 281.8,982.9 283.1,984.6 284.6,986.2 286.2,987.6 288.0,988.9 289.9,990.0 291.9,990.9 294.0,991.7 296.2,992.3 298.4,992.6 300.7,992.8 303.0,992.8 305.3,992.5 307.5,992.1 309.8,991.4 312.0,990.5 314.1,989.5 316.1,988.2 318.0,986.7 319.8,985.1 321.4,983.3 322.9,981.4 324.2,979.3 325.3,977.1 326.2,974.7 326.9,972.3 327.4,969.9 327.7,967.3 327.7,964.8 327.5,962.2 327.1,959.7 326.4,957.2 325.5,954.8 324.4,952.4 323.0,950.1 321.5,948.0 319.8,946.0 317.8,944.1 315.7,942.5 313.5,941.0 311.1,939.7 308.6,938.6 306.0,937.8 303.3,937.2 300.6,936.8 297.8,936.7 295.0,936.8 292.3,937.2 289.5,937.8 286.8,938.7 284.2,939.8 281.7,941.2 279.3,942.8 277.1,944.6 275.0,946.6 273.1,948.8 271.5,951.2 270.0,953.7 268.7,956.4 267.7,959.2 267.0,962.0 266.5,965.0 266.3,968.0 266.3,971.0 266.6,974.0 267.2,976.9 268.1,979.8 269.2,982.7 270.6,985.4 272.2,988.0 274.0,990.5 276.1,992.8 278.4,994.9 280.9,996.8 283.5,998.4 286.3,999.9 289.2,1001.0 292.3,1001.9 295.4,1002.6 298.5,1002.9 301.7,1003.0 304.9,1002.8 308.1,1002.3 311.3,1001.5 314.3,1000.4 317.3,999.0 320.1,997.4 322.8,995.5 325.3,993.4 327.6,991.1 329.7,988.5 331.6,985.8 333.2,982.9 334.6,979.8 335.6,976.6 336.4,973.4 336.9,970.0 337.1,966.7 337.0,963.3 336.6,959.9 335.9,956.6 334.9,953.3 333.5,950.1 331.9,947.1 330.1,944.2 327.9,941.4 325.5,938.9 322.9,936.6 320.1,934.5 317.1,932.7 314.0,931.1 310.7,929.9 307.3,928.9 303.8,928.2 300.2,927.9 296.7,927.9 293.1,928.2 289.6,928.8 286.1,929.8 282.7,931.0 279.4,932.6 276.3,934.4 273.4,936.6 270.6,939.0 268.1,941.6 265.8,944.5 263.8,947.5 262.0,950.8 260.6,954.2 259.4,957.7 258.6,961.3 258.1,965.0 257.9,968.8 258.1,972.5 258.6,976.2 259.5,979.9 260.7,983.5 262.2,987.0 264.0,990.3 266.1,993.5 268.5,996.4 271.1,999.2 274.0,1001.7 277.2,1003.9 280.5,1005.9 284.0,1007.5 287.6,1008.9 291.3,1009.9 295.2,1010.5 299.1,1010.9 303.0,1010.8 306.9,1010.4 310.7,1009.7 314.5,1008.6 318.2,1007.2 321.7,1005.4 325.1,1003.4 328.3,1001.0 331.3,998.4 334.0,995.4 336.4,992.3 338.6,988.9 340.5,985.3 342.0,981.6 343.2,977.8 344.0,973.8 344.5,969.8 344.6,965.7 344.4,961.7 343.8,957.6 342.8,953.7 341.5,949.8 339.8,946.0 337.8,942.5 335.5,939.1 332.8,935.9 329.9,932.9 326.8,930.3 323.3,927.9 319.7,925.8 315.9,924.1 312.0,922.7 307.9,921.6 303.8,921.0 299.6,920.7 295.4,920.8 291.2,921.2 287.0,922.1 282.9,923.3 279.0,924.9 275.2,926.8 271.6,929.1 268.2,931.7 265.0,934.6 262.1,937.7 259.5,941.2 257.3,944.8 255.3,948.7 253.7,952.7 252.5,956.9 251.6,961.1 251.1,965.4 251.1,969.8 251.4,974.2 252.1,978.5 253.2,982.7 254.6,986.9 256.5,990.9 258.7,994.7 261.2,998.3 264.1,1001.7 267.2,1004.8 270.7,1007.6 274.3,1010.1 278.2,1012.3 282.3,1014.1 286.5,1015.6 290.9,1016.6 295.3,1017.3 299.8,1017.5 304.3,1017.4 308.8,1016.8 313.2,1015.9 317.6,1014.5 321.8,1012.8 325.8,1010.7 329.6,1008.2 333.2,1005.4 336.6,1002.3 339.6,998.9 342.3,995.2 344.7,991.3 346.8,987.2 348.4,982.9 349.7,978.4 350.5,973.9 351.0,969.3 351.0,964.6 350.7,960.0 349.9,955.4 348.6,950.9 347.0,946.5 345.0,942.3 342.6,938.2 339.9,934.4 336.8,930.9 333.4,927.6 329.8,924.6 325.8,922.0 321.7,919.8 317.3,917.9 312.8,916.4 308.2,915.3 303.5,914.7 298.7,914.4 293.9,914.6 289.2,915.3 284.5,916.3 279.9,917.8 275.5,919.7 271.3,922.0 267.2,924.6 263.5,927.6 260.0,931.0 256.8,934.6 253.9,938.6 251.4,942.7 249.3,947.1 247.6,951.7 246.3,956.4 245.5,961.2 245.0,966.1 245.1,971.0 245.5,975.9 246.4,980.7 247.7,985.5 249.5,990.1 251.6,994.5 254.2,998.8 257.1,1002.8 260.4,1006.5 264.0,1009.9 267.9,1013.0 272.1,1015.7 276.5,1018.1 281.1,1020.0 285.9,1021.5 290.8,1022.6 295.8,1023.2 300.8,1023.4 305.8,1023.1 310.8,1022.4 315.7,1021.3 320.5,1019.7 325.2,1017.6 329.6,1015.2 333.8,1012.3 337.8,1009.1 341.4,1005.6 344.7,1001.7 347.7,997.5 350.3,993.1 352.4,988.5 354.2,983.7 355.5,978.7 356.4,973.6 356.8,968.5 356.7,963.3 356.2,958.2 355.2,953.1 353.7,948.2 351.8,943.3 349.5,938.7 346.8,934.3 343.7,930.1 340.2,926.2 336.4,922.7 332.2,919.5 327.8,916.7 323.2,914.3 318.3,912.3 313.3,910.7 308.1,909.6 302.9,909.0 297.6,908.9 292.4,909.2 287.1,910.0 282.0,911.3 277.0,913.0 272.1,915.2 267.5,917.8 263.1,920.8 259.0,924.2 255.2,928.0 251.8,932.1 248.8,936.5 246.1,941.1 243.9,946.0 242.1,951.1 240.8,956.3 239.9,961.6 239.6,967.0 239.7,972.4 240.3,977.7 241.4,983.0 243.0,988.2 245.0,993.2 247.4,998.1 250.3,1002.7 253.6,1007.0 257.3,1011.0 261.4,1014.7 265.7,1018.0 270.4,1020.9 275.2,1023.3 280.3,1025.4 285.6,1026.9 291.0,1028.0 296.5,1028.6 302.0,1028.7 307.5,1028.3 312.9,1027.4 318.3,1026.0 323.5,1024.2 328.5,1021.9 333.3,1019.1 337.9,1015.9 342.1,1012.3 346.0,1008.3 349.6,1004.0 352.7,999.4 355.4,994.5 357.7,989.4 359.5,984.1 360.8,978.7 361.6,973.1 362.0,967.5 361.8,961.9 361.1,956.3 359.9,950.8 358.2,945.4 356.1,940.2 353.5,935.2 350.4,930.4 346.9,926.0 343.0,921.8 338.8,918.0 334.2,914.6 329.4,911.7 324.3,909.1 318.9,907.1 313.4,905.5 307.8,904.4 302.1,903.9 296.4,903.8 290.7,904.3 285.0,905.3 279.5,906.8 274.1,908.8 268.8,911.2 263.9,914.1 259.2,917.5 254.8,921.3 250.8,925.4 247.1,929.9 243.9,934.8 241.1,939.9 238.8,945.2 237.0,950.7 235.7,956.4 234.9,962.2 234.6,968.0 234.8,973.9 235.6,979.7 236.9,985.4 238.7,990.9 241.0,996.4 243.7,1001.5 247.0,1006.4 250.6,1011.1 254.7,1015.3 259.1,1019.2 263.9,1022.7 269.0,1025.7 274.3,1028.3 279.9,1030.4 285.6,1032.0 291.4,1033.0 297.3,1033.5 303.3,1033.5 309.2,1033.0 315.1,1031.9 320.8,1030.3 326.4,1028.2 331.8,1025.6 336.9,1022.5 341.8,1019.0 346.3,1015.0 350.4,1010.7 354.1,1006.0 357.4,1000.9 360.3,995.6 362.6,990.1 364.4,984.3 365.8,978.4 366.5,972.4 366.8,966.4 366.5,960.4 365.6,954.3 364.2,948.4 362.3,942.7 359.9,937.1 357.0,931.8 353.6,926.7 349.7,922.0 345.5,917.6 340.9,913.6 335.9,910.0 330.6,906.9 325.1,904.3 319.3,902.2 313.4,900.7 307.3,899.6 301.2,899.1 295.0,899.2 288.9,899.8 288.3,899.9 288.7,902.4 289.3,902.3 295.2,901.7 301.1,901.7 307.0,902.1 312.8,903.1 318.6,904.7 324.1,906.7 329.4,909.2 334.5,912.2 339.3,915.6 343.8,919.5 347.8,923.7 351.5,928.2 354.8,933.1 357.6,938.3 359.9,943.6 361.8,949.2 363.1,954.9 363.9,960.6 364.2,966.4 364.0,972.3 363.2,978.0 361.9,983.7 360.2,989.2 357.9,994.5 355.2,999.6 352.0,1004.5 348.4,1009.0 344.4,1013.2 340.1,1017.0 335.4,1020.4 330.5,1023.3 325.3,1025.8 320.0,1027.8 314.5,1029.4 308.8,1030.4 303.1,1030.9 297.4,1030.9 291.7,1030.4 286.1,1029.4 280.6,1027.9 275.3,1025.9 270.2,1023.4 265.3,1020.5 260.8,1017.1 256.5,1013.4 252.6,1009.3 249.1,1004.9 246.0,1000.1 243.4,995.2 241.2,990.0 239.4,984.6 238.2,979.2 237.5,973.6 237.3,968.0 237.5,962.4 238.3,956.9 239.6,951.4 241.3,946.1 243.6,941.0 246.2,936.1 249.3,931.5 252.8,927.2 256.7,923.2 260.9,919.6 265.4,916.4 270.1,913.6 275.1,911.2 280.3,909.4 285.6,907.9 291.1,907.0 296.5,906.6 302.0,906.6 307.5,907.2 312.8,908.2 318.1,909.7 323.2,911.7 328.1,914.1 332.7,916.9 337.1,920.2 341.1,923.8 344.8,927.8 348.2,932.1 351.1,936.6 353.6,941.4 355.6,946.4 357.2,951.5 358.4,956.8 359.0,962.2 359.2,967.5 358.9,972.9 358.1,978.2 356.8,983.4 355.1,988.4 352.9,993.3 350.3,998.0 347.3,1002.4 343.9,1006.5 340.2,1010.3 336.1,1013.7 331.8,1016.7 327.2,1019.4 322.4,1021.6 317.4,1023.3 312.3,1024.6 307.1,1025.5 301.9,1025.9 296.6,1025.8 291.4,1025.2 286.3,1024.1 281.2,1022.7 276.4,1020.7 271.7,1018.4 267.3,1015.6 263.2,1012.4 259.3,1008.9 255.8,1005.1 252.7,1001.0 249.9,996.6 247.6,992.0 245.7,987.2 244.2,982.3 243.2,977.2 242.6,972.1 242.5,967.0 242.8,961.9 243.7,956.8 244.9,951.9 246.6,947.1 248.7,942.4 251.3,938.0 254.2,933.8 257.4,929.9 261.0,926.4 264.9,923.1 269.1,920.3 273.5,917.8 278.1,915.8 282.9,914.1 287.8,912.9 292.7,912.2 297.7,911.9 302.7,912.0 307.7,912.6 312.6,913.6 317.3,915.1 321.9,917.0 326.3,919.3 330.5,922.0 334.4,925.0 338.1,928.4 341.4,932.0 344.3,936.0 346.9,940.2 349.1,944.6 350.9,949.2 352.2,953.9 353.2,958.7 353.6,963.6 353.7,968.4 353.3,973.3 352.5,978.1 351.2,982.8 349.6,987.3 347.5,991.7 345.1,995.9 342.3,999.8 339.1,1003.5 335.7,1006.9 332.0,1009.9 328.0,1012.6 323.8,1014.9 319.4,1016.8 314.8,1018.3 310.2,1019.4 305.5,1020.0 300.7,1020.3 296.0,1020.1 291.3,1019.5 286.7,1018.4 282.2,1017.0 277.8,1015.2 273.7,1013.0 269.7,1010.4 266.1,1007.5 262.7,1004.2 259.6,1000.7 256.8,997.0 254.4,993.0 252.4,988.8 250.8,984.4 249.5,980.0 248.7,975.4 248.3,970.8 248.3,966.2 248.7,961.6 249.5,957.1 250.7,952.6 252.3,948.4 254.3,944.2 256.7,940.3 259.4,936.6 262.4,933.2 265.7,930.1 269.2,927.3 273.0,924.8 277.0,922.6 281.1,920.9 285.4,919.5 289.8,918.5 294.3,917.9 298.7,917.8 303.2,918.0 307.6,918.6 312.0,919.6 316.2,921.0 320.3,922.8 324.2,924.9 327.8,927.4 331.3,930.2 334.4,933.2 337.3,936.6 339.9,940.1 342.1,943.9 343.9,947.9 345.4,952.0 346.5,956.2 347.3,960.5 347.6,964.8 347.6,969.1 347.1,973.4 346.3,977.7 345.1,981.8 343.6,985.8 341.7,989.7 339.4,993.3 336.9,996.8 334.0,999.9 330.9,1002.8 327.5,1005.4 324.0,1007.7 320.2,1009.7 316.3,1011.3 312.3,1012.5 308.2,1013.4 304.0,1013.9 299.8,1014.0 295.6,1013.8 291.5,1013.1 287.5,1012.1 283.5,1010.8 279.8,1009.1 276.1,1007.1 272.7,1004.7 269.6,1002.1 266.7,999.2 264.0,996.0 261.7,992.7 259.7,989.1 258.0,985.4 256.6,981.6 255.6,977.7 255.0,973.7 254.7,969.6 254.8,965.6 255.2,961.6 256.0,957.7 257.2,953.8 258.7,950.1 260.5,946.6 262.6,943.2 265.0,940.1 267.7,937.1 270.6,934.5 273.8,932.1 277.1,930.0 280.6,928.3 284.3,926.8 288.0,925.7 291.8,925.0 295.7,924.5 299.6,924.5 303.4,924.8 307.2,925.4 311.0,926.4 314.6,927.6 318.1,929.3 321.4,931.2 324.5,933.4 327.4,935.8 330.0,938.5 332.4,941.5 334.5,944.6 336.4,947.9 337.9,951.3 339.1,954.9 340.0,958.5 340.5,962.2 340.7,965.9 340.6,969.6 340.1,973.3 339.3,976.9 338.2,980.4 336.8,983.8 335.1,987.0 333.1,990.0 330.9,992.9 328.4,995.5 325.7,997.9 322.7,1000.1 319.7,1001.9 316.4,1003.5 313.1,1004.8 309.7,1005.7 306.2,1006.4 302.6,1006.7 299.1,1006.7 295.6,1006.4 292.1,1005.8 288.7,1004.9 285.5,1003.7 282.3,1002.1 279.3,1000.4 276.5,998.3 273.9,996.0 271.6,993.6 269.4,990.9 267.6,988.0 265.9,985.0 264.6,981.9 263.6,978.6 262.8,975.3 262.4,972.0 262.3,968.6 262.4,965.3 262.9,962.0 263.7,958.8 264.7,955.6 266.0,952.6 267.6,949.7 269.4,947.0 271.5,944.4 273.8,942.1 276.2,940.0 278.9,938.1 281.7,936.5 284.6,935.1 287.6,934.0 290.7,933.2 293.8,932.7 297.0,932.4 300.1,932.5 303.3,932.8 306.4,933.4 309.4,934.3 312.3,935.4 315.0,936.8 317.7,938.4 320.1,940.3 322.4,942.4 324.5,944.6 326.3,947.0 327.9,949.6 329.3,952.3 330.4,955.1 331.3,957.9 331.9,960.9 332.2,963.8 332.3,966.8 332.1,969.7 331.6,972.6 330.9,975.4 329.9,978.2 328.7,980.8 327.3,983.3 325.6,985.7 323.8,987.9 321.8,989.9 319.6,991.7 317.2,993.3 314.8,994.6 312.2,995.8 309.6,996.6 306.9,997.3 304.2,997.7 301.4,997.8 298.7,997.7 296.0,997.4 293.3,996.8 290.8,996.0 288.3,995.0 286.0,993.7 283.7,992.3 281.7,990.6 279.8,988.8 278.0,986.9 276.5,984.8 275.2,982.5 274.1,980.2 273.2,977.8 272.5,975.4 272.1,972.9 271.8,970.4 271.9,967.9 272.1,965.4 272.6,963.0 273.2,960.6 274.1,958.3 275.2,956.2 276.4,954.1 277.9,952.2 279.5,950.4 281.2,948.8 283.1,947.4 285.0,946.1 287.1,945.1 289.2,944.2 291.4,943.5 293.7,943.1 295.9,942.8 298.1,942.8 300.4,942.9 302.5,943.3 304.7,943.9 306.7,944.6 308.7,945.5 310.5,946.6 312.3,947.8 313.9,949.2 315.3,950.7 316.6,952.3 317.8,954.0 318.7,955.8 319.5,957.7 320.1,959.6 320.6,961.5 320.8,963.5 320.9,965.5 320.8,967.4 320.5,969.3 320.0,971.1 319.4,972.9 318.6,974.6 317.7,976.2 316.7,977.7 315.5,979.0 314.2,980.3 312.9,981.4 311.4,982.4 309.9,983.2 308.3,983.8 306.7,984.3 305.1,984.7 303.5,984.9 301.9,984.9 300.3,984.8 298.8,984.6 297.3,984.2 295.8,983.6 294.5,983.0 293.2,982.2 292.0,981.3 291.0,980.4 290.0,979.3 289.2,978.2 288.5,977.1 288.0,975.9 287.5,974.6 287.2,973.4 287.1,972.1 287.0,970.9 287.1,969.7 287.3,968.6 287.7,967.5 288.1,966.4 288.6,965.5 289.2,964.6 289.9,963.9 290.7,963.2 291.5,962.7 292.4,962.3 293.3,962.0 294.2,961.9 295.1,961.9 295.9,962.1 296.8,962.4 297.6,962.9 298.3,963.7 298.9,965.0Z" fill="url(#iL0_1)"/>
<path d="M299.5,967.5 301.2,969.9 302.2,970.7 303.2,971.1 304.1,971.3 305.0,971.3 305.9,971.1 306.7,970.7 307.5,970.2 308.2,969.6 308.8,968.9 309.4,968.1 309.8,967.2 310.2,966.2 310.4,965.1 310.5,964.1 310.5,962.9 310.4,961.8 310.1,960.6 309.8,959.5 309.2,958.4 308.6,957.3 307.8,956.3 307.0,955.3 306.0,954.4 304.9,953.6 303.7,952.9 302.4,952.3 301.0,951.8 299.6,951.4 298.2,951.2 296.7,951.1 295.1,951.2 293.6,951.4 292.1,951.8 290.5,952.3 289.1,952.9 287.6,953.8 286.3,954.7 285.0,955.8 283.8,957.0 282.7,958.4 281.7,959.8 280.9,961.4 280.2,963.0 279.7,964.7 279.3,966.5 279.1,968.3 279.0,970.2 279.1,972.1 279.4,974.0 279.9,975.8 280.5,977.7 281.3,979.4 282.3,981.1 283.5,982.8 284.8,984.3 286.2,985.7 287.8,987.0 289.5,988.2 291.4,989.1 293.3,990.0 295.3,990.6 297.4,991.1 299.5,991.4 301.7,991.5 303.9,991.4 306.0,991.0 308.2,990.5 310.3,989.8 312.3,988.9 314.3,987.8 316.2,986.5 318.0,985.1 319.6,983.5 321.1,981.7 322.5,979.8 323.6,977.7 324.6,975.6 325.4,973.3 326.0,971.0 326.3,968.6 326.5,966.2 326.4,963.7 326.1,961.3 325.6,958.9 324.9,956.5 323.9,954.2 322.8,951.9 321.4,949.8 319.8,947.8 318.1,945.9 316.2,944.2 314.1,942.7 311.9,941.3 309.5,940.2 307.1,939.2 304.5,938.5 301.9,938.0 299.2,937.8 296.6,937.8 293.9,938.0 291.2,938.5 288.6,939.2 286.0,940.2 283.5,941.4 281.2,942.8 278.9,944.5 276.8,946.3 274.9,948.3 273.2,950.6 271.6,952.9 270.3,955.4 269.2,958.1 268.3,960.8 267.7,963.6 267.4,966.5 267.3,969.4 267.4,972.3 267.9,975.2 268.5,978.0 269.5,980.8 270.7,983.5 272.1,986.1 273.8,988.6 275.7,990.9 277.8,993.1 280.2,995.0 282.6,996.8 285.3,998.3 288.1,999.6 291.0,1000.6 293.9,1001.3 297.0,1001.8 300.1,1002.1 303.2,1002.0 306.3,1001.6 309.4,1001.0 312.4,1000.1 315.4,998.9 318.2,997.5 320.9,995.8 323.4,993.8 325.8,991.7 327.9,989.3 329.9,986.7 331.6,983.9 333.1,981.0 334.3,978.0 335.2,974.9 335.8,971.6 336.2,968.4 336.2,965.1 336.0,961.7 335.4,958.5 334.6,955.2 333.4,952.1 332.0,949.0 330.3,946.1 328.4,943.4 326.2,940.8 323.7,938.4 321.1,936.2 318.3,934.3 315.2,932.7 312.1,931.3 308.8,930.2 305.4,929.4 302.0,928.9 298.5,928.7 295.0,928.8 291.5,929.3 288.1,930.0 284.7,931.1 281.5,932.5 278.3,934.2 275.4,936.1 272.6,938.3 270.0,940.8 267.6,943.5 265.5,946.4 263.6,949.5 262.0,952.7 260.7,956.1 259.8,959.6 259.1,963.2 258.8,966.9 258.8,970.6 259.1,974.2 259.8,977.8 260.8,981.4 262.1,984.9 263.7,988.2 265.6,991.4 267.8,994.4 270.3,997.3 273.0,999.8 276.0,1002.2 279.1,1004.2 282.5,1006.0 286.0,1007.5 289.6,1008.6 293.3,1009.5 297.1,1010.0 301.0,1010.1 304.8,1009.9 308.6,1009.4 312.4,1008.5 316.0,1007.3 319.6,1005.7 323.0,1003.8 326.2,1001.6 329.3,999.2 332.1,996.4 334.6,993.5 336.9,990.3 338.9,986.8 340.5,983.3 341.9,979.5 342.9,975.7 343.6,971.8 343.9,967.8 343.8,963.8 343.4,959.8 342.6,955.9 341.5,952.0 340.0,948.3 338.2,944.6 336.1,941.2 333.7,937.9 330.9,934.9 327.9,932.2 324.7,929.7 321.2,927.5 317.6,925.6 313.8,924.0 309.8,922.8 305.8,922.0 301.7,921.5 297.5,921.4 293.4,921.7 289.3,922.3 285.2,923.3 281.3,924.7 277.5,926.4 273.8,928.5 270.3,930.9 267.1,933.6 264.1,936.6 261.4,939.8 259.0,943.3 256.9,947.0 255.1,950.9 253.7,954.9 252.7,959.1 252.0,963.3 251.7,967.6 251.8,971.9 252.3,976.2 253.2,980.4 254.5,984.5 256.1,988.5 258.1,992.4 260.4,996.1 263.1,999.5 266.1,1002.8 269.3,1005.7 272.8,1008.3 276.5,1010.6 280.5,1012.6 284.6,1014.2 288.8,1015.5 293.2,1016.3 297.6,1016.8 302.0,1016.8 306.4,1016.5 310.8,1015.8 315.2,1014.6 319.4,1013.1 323.4,1011.2 327.3,1009.0 331.0,1006.4 334.4,1003.5 337.6,1000.2 340.4,996.7 343.0,993.0 345.2,989.0 347.0,984.8 348.5,980.5 349.5,976.1 350.2,971.6 350.4,967.0 350.3,962.4 349.7,957.8 348.7,953.4 347.3,949.0 345.5,944.7 343.4,940.6 340.8,936.7 338.0,933.1 334.8,929.7 331.3,926.6 327.5,923.8 323.5,921.4 319.3,919.4 314.9,917.7 310.4,916.4 305.8,915.6 301.1,915.1 296.4,915.1 291.7,915.5 287.0,916.4 282.5,917.6 278.0,919.3 273.7,921.3 269.6,923.8 265.8,926.5 262.1,929.7 258.8,933.1 255.8,936.9 253.2,940.9 250.9,945.1 249.0,949.6 247.5,954.1 246.5,958.9 245.8,963.7 245.6,968.5 245.8,973.3 246.5,978.2 247.6,982.9 249.1,987.5 251.0,992.0 253.4,996.3 256.1,1000.4 259.2,1004.2 262.6,1007.8 266.3,1011.0 270.3,1013.9 274.5,1016.4 279.0,1018.5 283.6,1020.2 288.4,1021.5 293.3,1022.4 298.3,1022.8 303.2,1022.7 308.2,1022.3 313.1,1021.3 317.9,1020.0 322.6,1018.2 327.1,1016.0 331.4,1013.3 335.4,1010.4 339.2,1007.0 342.6,1003.3 345.8,999.4 348.5,995.1 350.9,990.6 352.8,985.9 354.3,981.1 355.4,976.1 356.0,971.1 356.2,966.0 355.9,960.9 355.2,955.8 354.0,950.8 352.3,946.0 350.2,941.3 347.7,936.8 344.8,932.5 341.6,928.5 338.0,924.9 334.0,921.5 329.8,918.5 325.3,915.9 320.6,913.8 315.7,912.0 310.7,910.7 305.5,909.9 300.3,909.5 295.1,909.6 289.9,910.1 284.7,911.1 279.7,912.6 274.8,914.5 270.1,916.9 265.7,919.7 261.4,922.9 257.5,926.4 254.0,930.3 250.7,934.5 247.9,939.0 245.5,943.7 243.5,948.6 241.9,953.7 240.9,959.0 240.3,964.3 240.1,969.6 240.5,974.9 241.3,980.2 242.6,985.4 244.4,990.5 246.6,995.4 249.3,1000.1 252.4,1004.5 255.8,1008.6 259.6,1012.4 263.8,1015.9 268.3,1019.0 273.0,1021.6 277.9,1023.9 283.1,1025.7 288.3,1027.0 293.7,1027.8 299.2,1028.2 304.6,1028.0 310.1,1027.4 315.4,1026.3 320.7,1024.7 325.7,1022.6 330.6,1020.1 335.3,1017.1 339.6,1013.8 343.7,1010.0 347.4,1005.9 350.7,1001.5 353.6,996.8 356.1,991.9 358.1,986.7 359.7,981.4 360.8,975.9 361.3,970.4 361.4,964.8 361.0,959.2 360.1,953.7 358.7,948.3 356.8,943.0 354.4,938.0 351.6,933.1 348.3,928.5 344.7,924.2 340.7,920.3 336.3,916.7 331.6,913.6 326.7,910.8 321.5,908.6 316.1,906.8 310.6,905.4 305.0,904.6 299.3,904.3 293.6,904.5 288.0,905.2 282.4,906.5 277.0,908.2 271.7,910.4 266.6,913.0 261.8,916.2 257.3,919.7 253.2,923.6 249.3,927.9 245.9,932.6 242.9,937.5 240.4,942.7 238.4,948.1 236.8,953.6 235.7,959.3 235.2,965.1 235.1,970.9 235.6,976.6 236.7,982.4 238.2,988.0 240.2,993.4 242.7,998.7 245.7,1003.7 249.1,1008.4 252.9,1012.8 257.2,1016.9 261.7,1020.6 266.6,1023.8 271.8,1026.6 277.2,1028.9 282.8,1030.7 288.5,1032.0 294.3,1032.8 300.2,1033.1 306.1,1032.8 312.0,1032.0 317.8,1030.7 323.4,1028.9 328.9,1026.6 334.1,1023.7 339.0,1020.4 343.7,1016.7 348.0,1012.6 351.9,1008.1 355.4,1003.3 358.4,998.1 361.0,992.7 363.1,987.1 364.7,981.4 365.7,975.4 366.2,969.5 366.2,963.5 365.6,957.5 364.5,951.6 362.9,945.8 360.7,940.1 358.1,934.7 355.0,929.5 351.4,924.6 347.4,920.1 342.9,916.0 338.2,912.2 333.1,908.9 332.5,908.6 331.7,909.9 332.3,910.2 337.3,913.5 341.9,917.1 346.2,921.2 350.2,925.6 353.7,930.4 356.7,935.5 359.3,940.8 361.4,946.3 363.0,951.9 364.1,957.7 364.6,963.6 364.6,969.4 364.1,975.3 363.1,981.0 361.6,986.7 359.5,992.1 357.0,997.4 354.0,1002.4 350.6,1007.1 346.8,1011.5 342.6,1015.6 338.1,1019.2 333.2,1022.4 328.1,1025.1 322.8,1027.4 317.3,1029.2 311.7,1030.5 306.0,1031.2 300.2,1031.5 294.5,1031.2 288.8,1030.5 283.2,1029.2 277.7,1027.4 272.5,1025.1 267.4,1022.4 262.7,1019.2 258.2,1015.7 254.1,1011.7 250.4,1007.4 247.0,1002.8 244.1,997.9 241.7,992.8 239.7,987.5 238.2,982.0 237.3,976.4 236.8,970.8 236.8,965.1 237.3,959.5 238.4,954.0 239.9,948.6 241.9,943.3 244.4,938.3 247.3,933.5 250.6,929.0 254.3,924.8 258.4,920.9 262.8,917.5 267.5,914.5 272.4,911.9 277.6,909.7 282.9,908.0 288.3,906.9 293.8,906.2 299.3,906.0 304.8,906.3 310.3,907.1 315.7,908.4 320.9,910.1 325.9,912.4 330.8,915.0 335.3,918.1 339.5,921.6 343.5,925.4 347.0,929.6 350.2,934.0 352.9,938.8 355.2,943.7 357.0,948.8 358.4,954.1 359.3,959.5 359.7,964.9 359.6,970.3 359.1,975.7 358.0,981.0 356.5,986.2 354.5,991.2 352.1,996.0 349.3,1000.6 346.0,1004.9 342.4,1008.8 338.5,1012.5 334.3,1015.7 329.7,1018.6 325.0,1021.0 320.1,1023.0 315.0,1024.6 309.8,1025.7 304.5,1026.3 299.2,1026.4 293.9,1026.1 288.7,1025.3 283.5,1024.0 278.5,1022.3 273.7,1020.1 269.2,1017.5 264.8,1014.5 260.8,1011.1 257.1,1007.4 253.7,1003.4 250.8,999.1 248.2,994.6 246.0,989.8 244.3,984.9 243.0,979.8 242.2,974.7 241.9,969.5 242.0,964.4 242.6,959.2 243.7,954.2 245.2,949.2 247.1,944.4 249.5,939.9 252.2,935.5 255.3,931.4 258.8,927.7 262.6,924.2 266.7,921.2 271.0,918.5 275.6,916.2 280.3,914.3 285.2,912.9 290.2,911.9 295.2,911.4 300.3,911.3 305.3,911.7 310.3,912.5 315.2,913.8 319.9,915.5 324.5,917.6 328.8,920.1 332.9,923.0 336.7,926.2 340.2,929.8 343.4,933.7 346.2,937.8 348.6,942.1 350.6,946.7 352.2,951.4 353.3,956.2 354.1,961.1 354.3,966.0 354.2,971.0 353.6,975.8 352.5,980.6 351.0,985.3 349.1,989.9 346.9,994.2 344.2,998.3 341.2,1002.1 337.9,1005.7 334.2,1008.9 330.3,1011.8 326.2,1014.3 321.8,1016.4 317.3,1018.2 312.6,1019.5 307.9,1020.4 303.1,1020.8 298.3,1020.9 293.5,1020.5 288.8,1019.6 284.2,1018.4 279.7,1016.7 275.4,1014.7 271.3,1012.2 267.5,1009.5 263.9,1006.3 260.6,1002.9 257.6,999.2 255.0,995.3 252.8,991.1 250.9,986.8 249.5,982.3 248.4,977.8 247.8,973.1 247.6,968.5 247.8,963.8 248.4,959.2 249.4,954.6 250.9,950.2 252.7,946.0 254.9,941.9 257.5,938.0 260.4,934.4 263.5,931.1 267.0,928.1 270.7,925.4 274.7,923.1 278.8,921.1 283.1,919.5 287.5,918.3 292.0,917.5 296.5,917.1 301.0,917.2 305.6,917.6 310.0,918.4 314.3,919.6 318.5,921.3 322.6,923.2 326.4,925.6 330.0,928.2 333.4,931.2 336.4,934.4 339.2,937.9 341.6,941.7 343.7,945.6 345.4,949.7 346.7,953.9 347.6,958.2 348.2,962.6 348.3,967.0 348.1,971.4 347.5,975.7 346.4,980.0 345.0,984.1 343.3,988.1 341.2,991.9 338.7,995.5 336.0,998.9 333.0,1001.9 329.7,1004.7 326.1,1007.2 322.4,1009.4 318.5,1011.2 314.5,1012.6 310.4,1013.7 306.1,1014.4 301.9,1014.7 297.7,1014.6 293.4,1014.2 289.3,1013.4 285.2,1012.2 281.3,1010.6 277.6,1008.7 274.0,1006.5 270.7,1004.0 267.6,1001.2 264.7,998.1 262.2,994.8 260.0,991.3 258.1,987.6 256.5,983.8 255.3,979.8 254.5,975.8 254.1,971.7 254.0,967.6 254.2,963.5 254.9,959.5 255.9,955.5 257.2,951.7 258.9,948.0 260.9,944.5 263.2,941.1 265.8,938.0 268.7,935.2 271.7,932.6 275.0,930.4 278.5,928.4 282.2,926.8 285.9,925.5 289.8,924.5 293.7,923.9 297.6,923.7 301.6,923.8 305.5,924.3 309.3,925.1 313.1,926.2 316.7,927.7 320.1,929.5 323.4,931.6 326.5,934.0 329.3,936.6 331.9,939.5 334.2,942.6 336.2,945.8 337.9,949.3 339.3,952.8 340.3,956.5 341.1,960.2 341.4,964.0 341.5,967.8 341.2,971.5 340.5,975.3 339.6,978.9 338.3,982.4 336.7,985.8 334.8,989.0 332.6,992.0 330.2,994.8 327.6,997.4 324.7,999.7 321.7,1001.8 318.4,1003.5 315.1,1005.0 311.6,1006.1 308.1,1006.9 304.5,1007.4 300.9,1007.6 297.3,1007.5 293.7,1007.0 290.2,1006.2 286.8,1005.1 283.5,1003.7 280.4,1002.0 277.4,1000.1 274.6,997.9 272.1,995.4 269.8,992.8 267.7,989.9 265.9,986.9 264.4,983.8 263.2,980.5 262.3,977.2 261.7,973.8 261.4,970.4 261.4,966.9 261.7,963.5 262.4,960.2 263.3,956.9 264.5,953.7 266.0,950.7 267.7,947.8 269.7,945.1 272.0,942.6 274.4,940.3 277.0,938.3 279.8,936.5 282.7,934.9 285.8,933.7 288.9,932.7 292.1,932.0 295.3,931.6 298.6,931.5 301.8,931.7 305.0,932.1 308.1,932.9 311.2,933.9 314.1,935.2 316.9,936.8 319.5,938.6 321.9,940.6 324.2,942.8 326.2,945.2 328.0,947.8 329.5,950.5 330.8,953.3 331.8,956.2 332.6,959.2 333.1,962.2 333.3,965.3 333.2,968.3 332.9,971.3 332.3,974.3 331.4,977.1 330.3,979.9 328.9,982.6 327.3,985.1 325.5,987.4 323.5,989.6 321.4,991.6 319.0,993.3 316.6,994.9 314.0,996.2 311.3,997.2 308.5,998.0 305.7,998.6 302.9,998.9 300.0,998.9 297.2,998.7 294.5,998.2 291.8,997.5 289.1,996.5 286.6,995.4 284.2,994.0 282.0,992.4 279.9,990.6 278.1,988.6 276.4,986.5 274.9,984.3 273.6,981.9 272.5,979.5 271.7,977.0 271.1,974.4 270.8,971.8 270.6,969.2 270.8,966.6 271.1,964.0 271.7,961.5 272.5,959.1 273.5,956.8 274.7,954.5 276.1,952.5 277.7,950.5 279.4,948.7 281.3,947.1 283.3,945.7 285.4,944.5 287.6,943.5 289.9,942.6 292.2,942.0 294.6,941.6 296.9,941.5 299.3,941.5 301.6,941.8 303.9,942.2 306.1,942.9 308.2,943.8 310.2,944.8 312.1,946.0 313.9,947.4 315.5,948.9 317.0,950.5 318.3,952.3 319.5,954.1 320.4,956.1 321.2,958.1 321.8,960.1 322.2,962.2 322.3,964.3 322.3,966.4 322.2,968.4 321.8,970.4 321.2,972.4 320.5,974.2 319.7,976.0 318.6,977.7 317.5,979.3 316.2,980.7 314.8,982.0 313.2,983.2 311.7,984.2 310.0,985.0 308.3,985.7 306.5,986.2 304.8,986.5 303.0,986.7 301.2,986.7 299.5,986.6 297.8,986.2 296.2,985.8 294.6,985.2 293.1,984.4 291.7,983.6 290.5,982.6 289.3,981.5 288.2,980.3 287.3,979.1 286.5,977.8 285.9,976.4 285.4,975.0 285.0,973.6 284.8,972.2 284.7,970.8 284.8,969.4 285.0,968.1 285.3,966.8 285.7,965.6 286.3,964.4 286.9,963.3 287.6,962.4 288.5,961.5 289.3,960.7 290.3,960.1 291.3,959.5 292.3,959.1 293.3,958.8 294.3,958.7 295.3,958.7 296.3,958.8 297.2,959.0 298.1,959.3 298.9,959.8 299.6,960.4 300.1,961.0 300.6,961.8 300.9,962.8 300.9,963.8 300.6,965.2Z" fill="url(#iL0_2)"/>
</g></g>
<rect x="56.2" y="724.0" width="296.1" height="296.7" fill="none" stroke="#000" stroke-width="2"/>
<rect x="376.3" y="721.0" width="24.5" height="299.8" fill="url(#cbg)" stroke="url(#cbs)" stroke-width="1.5"/>
<path d="M400.8,741.2h-3M400.8,772.4h-3M400.8,803.6h-3M400.8,834.8h-3M400.8,866.0h-3M400.8,897.2h-3M400.8,928.4h-3M400.8,959.6h-3M400.8,990.8h-3" stroke="#555" stroke-width="1.2"/>
<g font-family="'Liberation Sans',Arial,sans-serif" font-size="9.8" fill="#555"><text x="405.0" y="745.1">18</text><text x="405.0" y="776.3">16</text><text x="405.0" y="807.5">14</text><text x="405.0" y="838.7">12</text><text x="405.0" y="869.9">10</text><text x="405.0" y="901.1">8</text><text x="405.0" y="932.3">6</text><text x="405.0" y="963.5">4</text><text x="405.0" y="994.7">2</text></g>
<text x="402.3" y="715.5" font-family="'Liberation Sans',Arial,sans-serif" font-size="11" fill="#777">×<tspan font-size="12.5" fill="#666">10</tspan><tspan font-size="7.5" dy="-5" fill="#777">-11</tspan></text>
<g font-family="'Liberation Sans',Arial,sans-serif" font-size="13" fill="#4a4a4a"><text x="30.3" y="742.1" text-anchor="end">-9</text><text x="30.3" y="787.6" text-anchor="end">-6</text><text x="30.3" y="833.1" text-anchor="end">-3</text><text x="30.3" y="878.6" text-anchor="end">0</text><text x="30.3" y="924.1" text-anchor="end">3</text><text x="30.3" y="969.6" text-anchor="end">6</text><text x="30.3" y="1015.1" text-anchor="end">9</text><text x="69.8" y="1042.4" text-anchor="middle">-9</text><text x="114.8" y="1042.4" text-anchor="middle">-6</text><text x="159.7" y="1042.4" text-anchor="middle">-3</text><text x="206.7" y="1042.4" text-anchor="middle">0</text><text x="251.6" y="1042.4" text-anchor="middle">3</text><text x="296.5" y="1042.4" text-anchor="middle">6</text><text x="341.5" y="1042.4" text-anchor="middle">9</text></g>
<text x="57.7" y="713.9" font-family="'Liberation Sans',Arial,sans-serif" font-size="17" fill="#8a8a8a">×<tspan fill="#606060" font-size="14" font-weight="bold" letter-spacing="-1.2" dx="1">10</tspan><tspan font-size="7" dy="-5.5" fill="#999">-6</tspan></text>
<text transform="translate(214.0,1086.6) scale(1,1.055)" text-anchor="middle" font-family="'Liberation Serif','Times New Roman',serif" font-weight="bold" font-size="42" fill="#333333">1530 nm</text>
<rect x="471.1" y="726.6" width="295.8" height="297.4" fill="url(#dn1)" stroke="#000" stroke-width="2"/>
<g clip-path="url(#ic1)">
<rect x="659.9" y="917.9" width="107.5" height="106.6" fill="#0a0a0a"/>
<g filter="url(#sb)">
<circle cx="713.2" cy="971.7" r="80" fill="url(#iD1)"/>
<path d="M713.2,971.7 711.1,973.9 710.6,975.0 710.4,976.0 710.4,977.0 710.6,977.9 711.0,978.7 711.5,979.4 712.1,980.1 712.9,980.6 713.7,981.1 714.6,981.5 715.6,981.8 716.6,981.9 717.7,981.9 718.8,981.8 719.9,981.6 721.0,981.3 722.0,980.8 723.1,980.2 724.1,979.4 725.0,978.6 725.9,977.6 726.7,976.6 727.3,975.4 727.9,974.2 728.4,972.9 728.7,971.5 728.9,970.1 729.0,968.6 728.9,967.2 728.7,965.7 728.3,964.2 727.8,962.7 727.1,961.3 726.3,959.9 725.4,958.6 724.3,957.4 723.1,956.2 721.8,955.2 720.4,954.2 718.8,953.4 717.2,952.8 715.5,952.3 713.8,951.9 712.0,951.7 710.2,951.7 708.3,951.8 706.5,952.1 704.7,952.6 702.9,953.3 701.2,954.1 699.5,955.1 697.9,956.3 696.4,957.6 695.1,959.0 693.8,960.6 692.7,962.3 691.8,964.1 691.0,966.0 690.4,968.0 689.9,970.1 689.7,972.2 689.6,974.3 689.8,976.4 690.1,978.6 690.7,980.7 691.4,982.8 692.3,984.8 693.5,986.7 694.7,988.5 696.2,990.3 697.8,991.8 699.6,993.3 701.5,994.6 703.6,995.7 705.7,996.6 708.0,997.4 710.3,997.9 712.6,998.2 715.0,998.3 717.4,998.2 719.9,997.9 722.2,997.4 724.6,996.6 726.8,995.6 729.0,994.4 731.1,993.0 733.1,991.4 734.9,989.7 736.5,987.7 738.0,985.7 739.3,983.4 740.4,981.1 741.3,978.6 742.0,976.1 742.4,973.5 742.6,970.9 742.5,968.2 742.3,965.6 741.7,962.9 741.0,960.4 740.0,957.8 738.7,955.4 737.3,953.1 735.6,950.9 733.8,948.9 731.7,947.0 729.5,945.3 727.1,943.8 724.6,942.5 722.0,941.5 719.3,940.7 716.5,940.1 713.6,939.8 710.7,939.8 707.9,940.0 705.0,940.5 702.2,941.2 699.4,942.2 696.7,943.4 694.2,944.9 691.8,946.6 689.5,948.6 687.4,950.7 685.5,953.0 683.9,955.5 682.4,958.2 681.2,961.0 680.2,963.9 679.5,966.8 679.1,969.9 678.9,972.9 679.0,976.0 679.5,979.1 680.1,982.2 681.1,985.1 682.3,988.0 683.8,990.8 685.5,993.5 687.5,995.9 689.7,998.2 692.1,1000.3 694.7,1002.2 697.5,1003.9 700.4,1005.3 703.4,1006.4 706.6,1007.3 709.8,1007.9 713.0,1008.1 716.3,1008.1 719.6,1007.8 722.9,1007.2 726.1,1006.3 729.2,1005.1 732.2,1003.7 735.0,1001.9 737.7,999.9 740.3,997.7 742.6,995.2 744.7,992.6 746.5,989.7 748.1,986.7 749.4,983.5 750.5,980.2 751.2,976.9 751.6,973.4 751.7,970.0 751.5,966.5 751.0,963.1 750.2,959.7 749.1,956.3 747.7,953.1 745.9,950.0 743.9,947.1 741.7,944.4 739.2,941.8 736.5,939.5 733.5,937.5 730.4,935.7 727.2,934.2 723.8,933.0 720.3,932.1 716.7,931.5 713.0,931.2 709.4,931.3 705.8,931.7 702.2,932.4 698.6,933.5 695.2,934.8 691.9,936.5 688.8,938.5 685.8,940.7 683.1,943.2 680.5,946.0 678.3,949.0 676.3,952.1 674.6,955.5 673.2,959.0 672.1,962.6 671.3,966.4 670.9,970.1 670.8,974.0 671.1,977.8 671.7,981.6 672.7,985.3 674.0,988.9 675.6,992.4 677.5,995.8 679.7,998.9 682.2,1001.9 685.0,1004.7 688.0,1007.1 691.3,1009.3 694.7,1011.3 698.3,1012.9 702.0,1014.1 705.9,1015.1 709.8,1015.6 713.7,1015.9 717.7,1015.7 721.7,1015.3 725.6,1014.4 729.4,1013.2 733.1,1011.7 736.7,1009.8 740.1,1007.6 743.3,1005.1 746.2,1002.4 748.9,999.3 751.4,996.1 753.5,992.6 755.3,988.9 756.8,985.1 757.9,981.1 758.6,977.1 759.0,973.0 759.1,968.9 758.7,964.7 758.0,960.7 756.9,956.6 755.5,952.7 753.7,949.0 751.6,945.4 749.1,942.0 746.4,938.8 743.3,935.9 740.0,933.2 736.5,930.9 732.8,928.9 728.9,927.2 724.9,925.9 720.7,924.9 716.5,924.3 712.2,924.1 707.9,924.3 703.7,924.9 699.5,925.9 695.4,927.2 691.4,928.9 687.6,930.9 684.0,933.3 680.6,936.0 677.5,939.1 674.6,942.3 672.0,945.9 669.8,949.7 667.9,953.6 666.4,957.7 665.2,962.0 664.4,966.3 664.1,970.7 664.1,975.1 664.5,979.6 665.3,983.9 666.5,988.2 668.1,992.4 670.1,996.4 672.4,1000.2 675.1,1003.8 678.0,1007.2 681.3,1010.3 684.9,1013.1 688.6,1015.5 692.7,1017.6 696.8,1019.4 701.2,1020.7 705.6,1021.7 710.1,1022.3 714.7,1022.4 719.2,1022.2 723.8,1021.5 728.2,1020.4 732.6,1019.0 736.8,1017.1 740.8,1014.9 744.7,1012.3 748.2,1009.4 751.5,1006.1 754.6,1002.6 757.2,998.8 759.6,994.8 761.5,990.5 763.1,986.1 764.3,981.6 765.1,977.0 765.4,972.3 765.3,967.6 764.8,962.9 763.9,958.3 762.6,953.8 760.9,949.4 758.7,945.1 756.2,941.1 753.4,937.3 750.2,933.8 746.7,930.5 742.9,927.6 738.8,925.0 734.6,922.9 730.1,921.1 725.5,919.7 720.8,918.7 716.0,918.1 711.2,918.0 706.4,918.3 701.6,919.1 696.9,920.3 692.3,921.9 687.8,923.9 683.6,926.3 679.6,929.1 675.8,932.2 672.4,935.7 669.2,939.4 666.4,943.5 664.0,947.7 662.0,952.2 660.4,956.9 659.2,961.7 658.4,966.6 658.1,971.5 658.2,976.5 658.8,981.4 659.8,986.3 661.2,991.1 663.1,995.7 665.4,1000.1 668.1,1004.4 671.2,1008.3 674.6,1012.0 678.3,1015.4 682.3,1018.4 686.6,1021.1 691.1,1023.3 695.8,1025.2 700.7,1026.6 705.7,1027.6 710.7,1028.1 715.8,1028.2 720.9,1027.8 725.9,1027.0 730.9,1025.7 735.7,1024.0 740.3,1021.8 744.7,1019.2 748.9,1016.2 752.8,1012.9 756.4,1009.2 759.7,1005.2 762.6,1001.0 765.1,996.4 767.2,991.7 768.8,986.8 770.0,981.7 770.8,976.6 771.1,971.4 770.9,966.2 770.2,961.0 769.1,955.9 767.6,950.9 765.5,946.1 763.1,941.4 760.2,937.0 757.0,932.9 753.4,929.1 749.4,925.6 745.2,922.4 740.6,919.7 735.9,917.4 730.9,915.5 725.8,914.0 720.6,913.1 715.3,912.6 710.0,912.5 704.7,913.0 699.4,913.9 694.2,915.3 689.2,917.2 684.4,919.5 679.8,922.2 675.4,925.4 671.3,928.9 667.6,932.8 664.2,937.0 661.3,941.5 658.7,946.3 656.6,951.3 654.9,956.4 653.7,961.7 652.9,967.1 652.7,972.5 652.9,978.0 653.7,983.4 654.9,988.7 656.6,993.9 658.7,998.9 661.3,1003.7 664.4,1008.3 667.8,1012.6 671.6,1016.6 675.8,1020.2 680.3,1023.4 685.0,1026.2 690.0,1028.6 695.2,1030.5 700.5,1032.0 706.0,1033.0 711.5,1033.4 717.1,1033.4 722.6,1032.9 728.1,1031.9 733.5,1030.3 738.7,1028.3 743.7,1025.9 748.5,1023.0 753.0,1019.7 757.2,1015.9 761.1,1011.8 764.5,1007.4 767.6,1002.7 770.2,997.7 772.4,992.5 774.1,987.1 775.3,981.6 776.0,976.0 776.2,970.3 775.9,964.6 775.1,959.0 773.8,953.5 772.0,948.1 769.7,942.9 766.9,937.9 763.7,933.1 760.1,928.7 756.1,924.6 751.7,920.9 747.0,917.6 742.1,914.7 736.8,912.3 731.4,910.3 725.9,908.9 720.2,907.9 714.4,907.5 708.6,907.6 702.9,908.2 697.2,909.3 691.6,910.9 686.2,913.0 681.0,915.6 676.1,918.7 671.4,922.2 667.1,926.1 663.1,930.4 659.5,935.0 656.4,940.0 653.7,945.2 651.5,950.6 649.8,956.2 648.6,962.0 647.9,967.8 647.8,973.7 648.1,979.6 649.0,985.4 650.5,991.1 652.4,996.7 654.8,1002.1 657.8,1007.3 661.1,1012.2 664.9,1016.7 669.1,1020.9 673.7,1024.7 678.6,1028.1 683.8,1031.1 689.2,1033.5 694.8,1035.5 700.6,1037.0 706.5,1037.9 712.5,1038.3 718.5,1038.2 724.5,1037.5 730.4,1036.3 736.1,1034.5 741.7,1032.3 747.1,1029.5 752.2,1026.3 757.0,1022.6 761.4,1018.5 765.5,1014.1 769.1,1009.2 772.3,1004.1 775.1,998.7 777.3,993.0 779.0,987.2 780.2,981.2 780.9,975.2 781.0,969.1 780.5,963.0 779.5,957.0 778.0,951.0 775.9,945.3 773.4,939.7 770.3,934.4 766.8,929.4 762.8,924.7 758.4,920.4 753.6,916.5 748.5,913.0 743.2,910.0 737.5,907.5 731.7,905.5 725.6,904.0 719.5,903.1 713.3,902.8 707.1,903.0 701.0,903.7 694.9,905.1 689.0,906.9 683.2,909.3 677.7,912.2 672.4,915.6 667.5,919.4 663.0,923.7 660.4,926.4 663.1,928.7 665.5,926.1 669.8,922.1 674.5,918.4 679.5,915.2 684.7,912.5 690.2,910.2 695.8,908.5 701.6,907.2 707.4,906.5 713.3,906.4 719.2,906.7 725.0,907.6 730.7,908.9 736.2,910.8 741.6,913.2 746.7,916.1 751.5,919.4 756.0,923.1 760.2,927.2 763.9,931.6 767.3,936.4 770.2,941.4 772.6,946.7 774.5,952.1 776.0,957.7 776.9,963.4 777.3,969.2 777.2,975.0 776.6,980.7 775.5,986.4 773.8,991.9 771.7,997.2 769.1,1002.3 766.1,1007.2 762.6,1011.8 758.8,1016.0 754.6,1019.9 750.0,1023.3 745.2,1026.4 740.1,1029.0 734.8,1031.1 729.4,1032.7 723.8,1033.9 718.2,1034.5 712.5,1034.6 706.9,1034.2 701.3,1033.3 695.8,1032.0 690.5,1030.1 685.4,1027.7 680.5,1025.0 675.9,1021.8 671.6,1018.1 667.7,1014.2 664.1,1009.9 660.9,1005.3 658.2,1000.4 655.9,995.3 654.1,990.0 652.7,984.6 651.9,979.1 651.5,973.6 651.7,968.0 652.3,962.5 653.5,957.1 655.1,951.8 657.2,946.7 659.7,941.8 662.7,937.2 666.0,932.8 669.8,928.8 673.9,925.1 678.2,921.8 682.9,918.9 687.8,916.5 692.9,914.5 698.1,913.0 703.5,911.9 708.9,911.4 714.3,911.3 719.7,911.7 725.1,912.6 730.3,914.0 735.4,915.9 740.3,918.2 745.0,920.9 749.4,924.0 753.5,927.5 757.2,931.3 760.6,935.5 763.6,940.0 766.2,944.6 768.3,949.5 770.0,954.6 771.3,959.8 772.0,965.1 772.3,970.4 772.1,975.7 771.4,981.0 770.3,986.2 768.7,991.2 766.6,996.1 764.2,1000.7 761.3,1005.2 758.0,1009.3 754.4,1013.1 750.5,1016.6 746.2,1019.7 741.8,1022.4 737.1,1024.7 732.2,1026.6 727.1,1028.0 722.0,1028.9 716.8,1029.4 711.6,1029.4 706.5,1029.0 701.4,1028.1 696.4,1026.7 691.5,1024.9 686.9,1022.7 682.4,1020.0 678.3,1017.0 674.4,1013.6 670.8,1009.9 667.6,1005.9 664.8,1001.6 662.4,997.1 660.4,992.4 658.8,987.6 657.7,982.6 657.0,977.5 656.8,972.5 657.0,967.4 657.7,962.4 658.9,957.5 660.4,952.7 662.4,948.0 664.8,943.6 667.6,939.4 670.8,935.5 674.2,931.9 678.0,928.6 682.1,925.7 686.4,923.1 690.9,921.0 695.6,919.3 700.4,918.0 705.3,917.1 710.2,916.7 715.2,916.8 720.1,917.2 724.9,918.1 729.7,919.5 734.3,921.3 738.7,923.4 742.9,926.0 746.8,928.9 750.5,932.2 753.8,935.7 756.8,939.6 759.4,943.7 761.7,948.0 763.6,952.4 765.0,957.1 766.0,961.8 766.6,966.6 766.8,971.4 766.5,976.2 765.8,981.0 764.7,985.7 763.1,990.2 761.2,994.6 758.9,998.8 756.2,1002.7 753.2,1006.4 749.8,1009.8 746.2,1012.8 742.3,1015.6 738.2,1017.9 733.9,1019.9 729.5,1021.5 724.9,1022.7 720.3,1023.5 715.6,1023.8 710.9,1023.7 706.3,1023.2 701.7,1022.3 697.2,1021.0 692.9,1019.3 688.7,1017.2 684.8,1014.7 681.1,1011.9 677.7,1008.8 674.5,1005.4 671.7,1001.7 669.3,997.8 667.2,993.8 665.5,989.5 664.1,985.1 663.2,980.6 662.7,976.1 662.6,971.5 662.9,967.0 663.6,962.5 664.7,958.1 666.2,953.9 668.1,949.7 670.3,945.8 672.9,942.1 675.8,938.7 679.0,935.5 682.4,932.7 686.1,930.1 690.0,927.9 694.1,926.1 698.3,924.7 702.6,923.6 706.9,922.9 711.4,922.7 715.8,922.8 720.1,923.3 724.4,924.2 728.6,925.5 732.7,927.2 736.6,929.2 740.2,931.5 743.7,934.2 746.9,937.1 749.8,940.4 752.4,943.8 754.6,947.5 756.6,951.4 758.1,955.4 759.3,959.5 760.1,963.7 760.6,968.0 760.6,972.2 760.3,976.5 759.6,980.7 758.5,984.8 757.0,988.8 755.2,992.6 753.1,996.2 750.7,999.7 747.9,1002.9 744.9,1005.8 741.7,1008.4 738.2,1010.8 734.5,1012.8 730.7,1014.4 726.8,1015.7 722.7,1016.7 718.7,1017.3 714.5,1017.5 710.4,1017.3 706.4,1016.8 702.4,1015.9 698.5,1014.6 694.7,1013.0 691.1,1011.1 687.7,1008.9 684.5,1006.4 681.6,1003.6 678.9,1000.6 676.6,997.3 674.5,993.9 672.7,990.3 671.3,986.5 670.3,982.7 669.6,978.7 669.2,974.8 669.2,970.8 669.6,966.9 670.3,963.0 671.3,959.2 672.7,955.5 674.4,952.0 676.4,948.7 678.7,945.5 681.3,942.6 684.1,939.9 687.2,937.5 690.4,935.4 693.8,933.6 697.3,932.1 701.0,930.9 704.7,930.1 708.5,929.6 712.3,929.5 716.1,929.7 719.9,930.2 723.5,931.1 727.1,932.3 730.6,933.8 733.8,935.6 736.9,937.7 739.8,940.0 742.5,942.6 744.9,945.4 747.1,948.5 748.9,951.6 750.5,955.0 751.7,958.4 752.6,962.0 753.3,965.6 753.5,969.2 753.5,972.8 753.1,976.4 752.4,980.0 751.4,983.5 750.1,986.8 748.5,990.0 746.6,993.0 744.5,995.9 742.1,998.5 739.5,1000.9 736.7,1003.1 733.7,1005.0 730.6,1006.6 727.3,1007.9 724.0,1008.9 720.6,1009.6 717.1,1010.0 713.7,1010.1 710.2,1009.8 706.8,1009.3 703.5,1008.5 700.3,1007.3 697.2,1005.9 694.2,1004.2 691.5,1002.3 688.9,1000.1 686.5,997.8 684.4,995.2 682.5,992.4 680.8,989.5 679.5,986.5 678.4,983.4 677.6,980.2 677.1,976.9 676.9,973.6 677.0,970.4 677.4,967.1 678.1,964.0 679.0,960.9 680.2,957.9 681.7,955.0 683.5,952.4 685.4,949.8 687.6,947.5 690.0,945.4 692.5,943.5 695.2,941.9 698.0,940.5 700.9,939.4 703.9,938.5 706.9,938.0 710.0,937.7 713.1,937.6 716.1,937.9 719.1,938.4 722.1,939.2 724.9,940.3 727.6,941.6 730.2,943.1 732.6,944.8 734.9,946.8 736.9,948.9 738.8,951.3 740.4,953.7 741.8,956.3 742.9,959.0 743.8,961.7 744.4,964.6 744.8,967.4 744.9,970.3 744.8,973.1 744.4,975.9 743.8,978.7 742.9,981.4 741.7,983.9 740.4,986.4 738.8,988.7 737.1,990.8 735.2,992.8 733.1,994.6 730.9,996.2 728.5,997.5 726.1,998.7 723.6,999.6 721.0,1000.3 718.3,1000.7 715.7,1000.9 713.1,1000.8 710.5,1000.6 707.9,1000.0 705.4,999.3 703.0,998.3 700.8,997.2 698.6,995.8 696.6,994.3 694.7,992.6 693.0,990.7 691.5,988.7 690.2,986.6 689.1,984.4 688.2,982.2 687.5,979.8 687.1,977.4 686.8,975.0 686.8,972.7 687.0,970.3 687.4,968.0 688.0,965.7 688.8,963.5 689.8,961.4 691.0,959.5 692.3,957.6 693.8,955.9 695.4,954.3 697.2,953.0 699.0,951.7 701.0,950.7 703.0,949.9 705.1,949.2 707.2,948.7 709.3,948.5 711.4,948.4 713.5,948.5 715.6,948.8 717.6,949.3 719.5,950.0 721.4,950.9 723.1,951.8 724.7,953.0 726.3,954.3 727.6,955.7 728.9,957.2 729.9,958.8 730.9,960.4 731.6,962.2 732.2,963.9 732.6,965.7 732.8,967.6 732.9,969.4 732.8,971.2 732.6,972.9 732.2,974.6 731.6,976.2 730.9,977.8 730.0,979.3 729.1,980.6 728.0,981.9 726.8,983.0 725.6,984.0 724.3,984.9 722.9,985.6 721.5,986.2 720.0,986.6 718.6,986.9 717.1,987.1 715.7,987.1 714.3,987.0 712.9,986.7 711.6,986.3 710.3,985.8 709.2,985.2 708.1,984.5 707.1,983.7 706.2,982.8 705.5,981.8 704.8,980.8 704.3,979.8 703.9,978.8 703.7,977.7 703.5,976.6 703.5,975.6 703.6,974.6 703.8,973.6 704.2,972.7 704.6,971.9 705.2,971.1 705.8,970.5 706.6,970.0 707.4,969.6 708.3,969.5 709.3,969.5 710.5,969.8 712.1,970.7Z" fill="url(#iL1_0)"/>
<path d="M713.2,971.7 713.0,974.7 713.3,975.9 713.8,976.8 714.4,977.5 715.2,978.1 716.0,978.5 716.8,978.7 717.8,978.8 718.7,978.8 719.6,978.6 720.6,978.3 721.5,977.9 722.4,977.3 723.2,976.7 724.0,975.9 724.7,975.0 725.3,974.0 725.8,973.0 726.2,971.8 726.5,970.7 726.7,969.4 726.7,968.1 726.7,966.8 726.4,965.5 726.1,964.2 725.6,962.9 725.0,961.6 724.2,960.4 723.3,959.2 722.3,958.1 721.2,957.1 720.0,956.2 718.6,955.4 717.2,954.8 715.7,954.2 714.1,953.8 712.5,953.6 710.9,953.4 709.2,953.5 707.5,953.7 705.8,954.1 704.1,954.6 702.5,955.3 700.9,956.2 699.4,957.2 698.0,958.3 696.7,959.6 695.5,961.0 694.4,962.6 693.5,964.2 692.7,966.0 692.0,967.8 691.6,969.7 691.3,971.6 691.1,973.6 691.2,975.6 691.5,977.6 691.9,979.6 692.5,981.6 693.3,983.5 694.3,985.4 695.5,987.1 696.8,988.8 698.3,990.4 699.9,991.8 701.7,993.1 703.6,994.2 705.6,995.1 707.7,995.9 709.9,996.5 712.1,996.8 714.4,997.0 716.7,997.0 719.0,996.7 721.2,996.3 723.5,995.6 725.7,994.7 727.8,993.7 729.8,992.4 731.7,990.9 733.5,989.3 735.1,987.5 736.6,985.6 737.9,983.5 739.0,981.3 739.9,978.9 740.6,976.5 741.1,974.1 741.4,971.5 741.4,969.0 741.2,966.4 740.8,963.9 740.1,961.4 739.2,959.0 738.1,956.6 736.7,954.3 735.2,952.2 733.5,950.2 731.5,948.3 729.4,946.7 727.2,945.2 724.8,943.9 722.3,942.8 719.7,942.0 717.0,941.4 714.3,941.0 711.5,940.9 708.7,941.0 706.0,941.4 703.2,942.0 700.5,942.9 697.9,944.0 695.4,945.4 693.0,947.0 690.8,948.8 688.7,950.8 686.8,953.0 685.2,955.4 683.7,957.9 682.4,960.6 681.4,963.4 680.7,966.2 680.2,969.2 680.0,972.2 680.0,975.2 680.3,978.2 680.9,981.1 681.8,984.0 682.9,986.9 684.3,989.6 685.9,992.2 687.7,994.7 689.8,997.0 692.1,999.1 694.6,1001.0 697.2,1002.6 700.0,1004.1 702.9,1005.2 706.0,1006.1 709.1,1006.8 712.2,1007.1 715.4,1007.2 718.6,1007.0 721.8,1006.5 725.0,1005.7 728.0,1004.6 731.0,1003.2 733.8,1001.6 736.5,999.7 739.0,997.6 741.3,995.3 743.4,992.7 745.3,990.0 746.9,987.1 748.3,984.0 749.3,980.8 750.1,977.6 750.6,974.2 750.8,970.9 750.7,967.5 750.3,964.1 749.6,960.8 748.6,957.5 747.2,954.3 745.6,951.3 743.8,948.4 741.6,945.6 739.2,943.1 736.6,940.8 733.8,938.7 730.8,936.9 727.7,935.3 724.4,934.1 721.0,933.1 717.5,932.4 713.9,932.1 710.4,932.1 706.8,932.4 703.3,933.0 699.8,934.0 696.4,935.2 693.1,936.8 690.0,938.6 687.1,940.8 684.3,943.2 681.8,945.8 679.5,948.7 677.5,951.7 675.7,955.0 674.3,958.4 673.1,961.9 672.3,965.5 671.8,969.2 671.6,973.0 671.8,976.7 672.3,980.4 673.2,984.1 674.4,987.7 675.9,991.2 677.7,994.5 679.8,997.7 682.2,1000.6 684.8,1003.4 687.7,1005.9 690.9,1008.1 694.2,1010.1 697.7,1011.7 701.3,1013.1 705.0,1014.1 708.9,1014.7 712.8,1015.1 716.7,1015.0 720.6,1014.6 724.4,1013.9 728.2,1012.8 731.9,1011.4 735.4,1009.6 738.8,1007.6 742.0,1005.2 745.0,1002.6 747.7,999.6 750.1,996.5 752.3,993.1 754.2,989.5 755.7,985.8 756.9,982.0 757.7,978.0 758.2,974.0 758.3,969.9 758.1,965.9 757.5,961.8 756.5,957.9 755.2,954.0 753.5,950.2 751.5,946.7 749.2,943.3 746.5,940.1 743.6,937.1 740.5,934.5 737.0,932.1 733.4,930.0 729.6,928.3 725.7,926.9 721.6,925.8 717.5,925.2 713.3,924.9 709.1,925.0 704.9,925.4 700.7,926.3 696.6,927.5 692.7,929.1 688.9,931.0 685.3,933.3 681.9,935.9 678.7,938.8 675.8,941.9 673.2,945.4 671.0,949.0 669.0,952.9 667.4,956.9 666.2,961.1 665.3,965.3 664.8,969.6 664.8,974.0 665.1,978.4 665.8,982.7 666.9,986.9 668.3,991.1 670.2,995.1 672.4,998.9 674.9,1002.5 677.8,1005.9 680.9,1009.0 684.4,1011.8 688.0,1014.3 691.9,1016.5 696.0,1018.3 700.2,1019.8 704.6,1020.8 709.0,1021.5 713.5,1021.7 718.0,1021.6 722.5,1021.0 726.9,1020.1 731.3,1018.7 735.5,1017.0 739.5,1014.9 743.3,1012.4 746.9,1009.6 750.3,1006.5 753.3,1003.1 756.0,999.4 758.4,995.5 760.5,991.4 762.1,987.1 763.4,982.6 764.2,978.1 764.7,973.5 764.7,968.8 764.4,964.2 763.6,959.6 762.3,955.1 760.7,950.7 758.7,946.5 756.3,942.4 753.6,938.6 750.5,935.1 747.1,931.8 743.5,928.8 739.5,926.2 735.4,924.0 731.0,922.1 726.5,920.6 721.9,919.5 717.2,918.9 712.4,918.6 707.6,918.8 702.9,919.5 698.2,920.5 693.6,922.0 689.2,923.9 685.0,926.2 680.9,928.8 677.2,931.8 673.7,935.2 670.5,938.8 667.6,942.8 665.1,946.9 663.0,951.3 661.3,955.9 660.0,960.6 659.2,965.4 658.7,970.3 658.8,975.2 659.2,980.1 660.1,984.9 661.4,989.7 663.2,994.3 665.3,998.7 667.9,1003.0 670.8,1007.0 674.1,1010.7 677.7,1014.1 681.6,1017.2 685.8,1019.9 690.2,1022.3 694.8,1024.2 699.6,1025.7 704.5,1026.8 709.5,1027.4 714.5,1027.6 719.5,1027.3 724.5,1026.6 729.4,1025.5 734.2,1023.9 738.9,1021.8 743.3,1019.4 747.5,1016.5 751.5,1013.3 755.1,1009.8 758.4,1005.9 761.4,1001.7 764.0,997.3 766.1,992.7 767.9,987.9 769.2,982.9 770.1,977.8 770.5,972.7 770.4,967.5 769.9,962.4 768.9,957.3 767.4,952.4 765.5,947.5 763.2,942.9 760.5,938.5 757.4,934.3 753.9,930.4 750.1,926.9 745.9,923.7 741.5,920.9 736.9,918.5 732.0,916.5 727.0,914.9 721.8,913.8 716.6,913.2 711.3,913.1 706.1,913.4 700.8,914.2 695.7,915.5 690.7,917.2 685.8,919.4 681.2,922.0 676.8,925.0 672.7,928.4 668.9,932.2 665.5,936.3 662.5,940.7 659.8,945.3 657.6,950.2 655.8,955.3 654.5,960.5 653.6,965.8 653.3,971.2 653.4,976.6 654.0,981.9 655.1,987.2 656.7,992.4 658.7,997.4 661.1,1002.3 664.0,1006.9 667.3,1011.2 671.0,1015.2 675.1,1018.9 679.4,1022.2 684.1,1025.1 688.9,1027.5 694.0,1029.6 699.3,1031.1 704.7,1032.2 710.2,1032.8 715.7,1032.9 721.2,1032.5 726.6,1031.6 732.0,1030.2 737.2,1028.4 742.2,1026.1 747.0,1023.3 751.6,1020.1 755.8,1016.5 759.7,1012.5 763.3,1008.2 766.4,1003.6 769.1,998.7 771.4,993.6 773.2,988.3 774.5,982.9 775.3,977.3 775.7,971.7 775.5,966.1 774.8,960.5 773.6,955.0 771.9,949.6 769.8,944.4 767.2,939.4 764.1,934.6 760.6,930.2 756.7,926.0 752.5,922.2 747.9,918.8 743.1,915.9 738.0,913.3 732.6,911.3 727.1,909.7 721.5,908.6 715.8,908.1 710.1,908.0 704.4,908.5 698.7,909.5 693.2,911.0 687.8,913.0 682.5,915.4 677.6,918.3 672.9,921.7 668.5,925.5 664.5,929.6 660.8,934.1 657.6,939.0 654.8,944.1 652.5,949.4 650.7,954.9 649.4,960.6 648.6,966.4 648.3,972.2 648.5,978.1 649.3,983.9 650.6,989.6 652.4,995.1 654.7,1000.6 657.4,1005.7 660.7,1010.6 664.3,1015.3 668.4,1019.5 672.8,1023.4 677.6,1026.9 682.7,1029.9 688.0,1032.5 693.6,1034.6 699.3,1036.2 705.1,1037.2 711.0,1037.7 717.0,1037.7 722.9,1037.2 728.8,1036.1 734.5,1034.5 740.1,1032.4 745.5,1029.8 750.6,1026.7 755.5,1023.2 760.0,1019.2 764.1,1014.9 767.8,1010.2 771.1,1005.1 774.0,999.8 776.3,994.3 778.1,988.5 779.5,982.6 780.2,976.6 780.5,970.6 780.2,964.6 779.3,958.5 777.9,952.6 776.0,946.9 773.6,941.3 770.7,936.0 767.3,930.9 763.4,926.2 759.2,921.8 754.6,917.8 749.6,914.2 744.3,911.1 738.8,908.5 733.0,906.4 727.1,904.9 721.0,903.8 714.9,903.3 708.7,903.4 702.6,904.0 702.0,904.1 702.4,906.6 703.0,906.5 708.9,905.9 714.8,905.9 720.7,906.3 726.5,907.3 732.3,908.9 737.8,910.9 743.1,913.4 748.2,916.4 753.0,919.8 757.5,923.7 761.5,927.9 765.2,932.4 768.5,937.3 771.3,942.5 773.6,947.8 775.5,953.4 776.8,959.1 777.6,964.8 777.9,970.6 777.7,976.5 776.9,982.2 775.6,987.9 773.9,993.4 771.6,998.7 768.9,1003.8 765.7,1008.7 762.1,1013.2 758.1,1017.4 753.8,1021.2 749.1,1024.6 744.2,1027.5 739.0,1030.0 733.7,1032.0 728.2,1033.6 722.5,1034.6 716.8,1035.1 711.1,1035.1 705.4,1034.6 699.8,1033.6 694.3,1032.1 689.0,1030.1 683.9,1027.6 679.0,1024.7 674.5,1021.3 670.2,1017.6 666.3,1013.5 662.8,1009.1 659.7,1004.3 657.1,999.4 654.9,994.2 653.1,988.8 651.9,983.4 651.2,977.8 651.0,972.2 651.2,966.6 652.0,961.1 653.3,955.6 655.0,950.3 657.3,945.2 659.9,940.3 663.0,935.7 666.5,931.4 670.4,927.4 674.6,923.8 679.1,920.6 683.8,917.8 688.8,915.4 694.0,913.6 699.3,912.1 704.8,911.2 710.2,910.8 715.7,910.8 721.2,911.4 726.5,912.4 731.8,913.9 736.9,915.9 741.8,918.3 746.4,921.1 750.8,924.4 754.8,928.0 758.5,932.0 761.9,936.3 764.8,940.8 767.3,945.6 769.3,950.6 770.9,955.7 772.1,961.0 772.7,966.4 772.9,971.7 772.6,977.1 771.8,982.4 770.5,987.6 768.8,992.6 766.6,997.5 764.0,1002.2 761.0,1006.6 757.6,1010.7 753.9,1014.5 749.8,1017.9 745.5,1020.9 740.9,1023.6 736.1,1025.8 731.1,1027.5 726.0,1028.8 720.8,1029.7 715.6,1030.1 710.3,1030.0 705.1,1029.4 700.0,1028.3 694.9,1026.9 690.1,1024.9 685.4,1022.6 681.0,1019.8 676.9,1016.6 673.0,1013.1 669.5,1009.3 666.4,1005.2 663.6,1000.8 661.3,996.2 659.4,991.4 657.9,986.5 656.9,981.4 656.3,976.3 656.2,971.2 656.5,966.1 657.4,961.0 658.6,956.1 660.3,951.3 662.4,946.6 665.0,942.2 667.9,938.0 671.1,934.1 674.7,930.6 678.6,927.3 682.8,924.5 687.2,922.0 691.8,920.0 696.6,918.3 701.5,917.1 706.4,916.4 711.4,916.1 716.4,916.2 721.4,916.8 726.3,917.8 731.0,919.3 735.6,921.2 740.0,923.5 744.2,926.2 748.1,929.2 751.8,932.6 755.1,936.2 758.0,940.2 760.6,944.4 762.8,948.8 764.6,953.4 765.9,958.1 766.9,962.9 767.3,967.8 767.4,972.6 767.0,977.5 766.2,982.3 764.9,987.0 763.3,991.5 761.2,995.9 758.8,1000.1 756.0,1004.0 752.8,1007.7 749.4,1011.1 745.7,1014.1 741.7,1016.8 737.5,1019.1 733.1,1021.0 728.5,1022.5 723.9,1023.6 719.2,1024.2 714.4,1024.5 709.7,1024.3 705.0,1023.7 700.4,1022.6 695.9,1021.2 691.5,1019.4 687.4,1017.2 683.4,1014.6 679.8,1011.7 676.4,1008.4 673.3,1004.9 670.5,1001.2 668.1,997.2 666.1,993.0 664.5,988.6 663.2,984.2 662.4,979.6 662.0,975.0 662.0,970.4 662.4,965.8 663.2,961.3 664.4,956.8 666.0,952.6 668.0,948.4 670.4,944.5 673.1,940.8 676.1,937.4 679.4,934.3 682.9,931.5 686.7,929.0 690.7,926.8 694.8,925.1 699.1,923.7 703.5,922.7 708.0,922.1 712.4,922.0 716.9,922.2 721.3,922.8 725.7,923.8 729.9,925.2 734.0,927.0 737.9,929.1 741.5,931.6 745.0,934.4 748.1,937.4 751.0,940.8 753.6,944.3 755.8,948.1 757.6,952.1 759.1,956.2 760.2,960.4 761.0,964.7 761.3,969.0 761.3,973.3 760.8,977.6 760.0,981.9 758.8,986.0 757.3,990.0 755.4,993.9 753.1,997.5 750.6,1001.0 747.7,1004.1 744.6,1007.0 741.2,1009.6 737.7,1011.9 733.9,1013.9 730.0,1015.5 726.0,1016.7 721.9,1017.6 717.7,1018.1 713.5,1018.2 709.3,1018.0 705.2,1017.3 701.2,1016.3 697.2,1015.0 693.5,1013.3 689.8,1011.3 686.4,1008.9 683.3,1006.3 680.4,1003.4 677.7,1000.2 675.4,996.9 673.4,993.3 671.7,989.6 670.3,985.8 669.3,981.9 668.7,977.9 668.4,973.8 668.5,969.8 668.9,965.8 669.7,961.9 670.9,958.0 672.4,954.3 674.2,950.8 676.3,947.4 678.7,944.3 681.4,941.3 684.3,938.7 687.5,936.3 690.8,934.2 694.3,932.5 698.0,931.0 701.7,929.9 705.5,929.2 709.4,928.7 713.3,928.7 717.1,929.0 720.9,929.6 724.7,930.6 728.3,931.8 731.8,933.5 735.1,935.4 738.2,937.6 741.1,940.0 743.7,942.7 746.1,945.7 748.2,948.8 750.1,952.1 751.6,955.5 752.8,959.1 753.7,962.7 754.2,966.4 754.4,970.1 754.3,973.8 753.8,977.5 753.0,981.1 751.9,984.6 750.5,988.0 748.8,991.2 746.8,994.2 744.6,997.1 742.1,999.7 739.4,1002.1 736.4,1004.3 733.4,1006.1 730.1,1007.7 726.8,1009.0 723.4,1009.9 719.9,1010.6 716.3,1010.9 712.8,1010.9 709.3,1010.6 705.8,1010.0 702.4,1009.1 699.2,1007.9 696.0,1006.3 693.0,1004.6 690.2,1002.5 687.6,1000.2 685.3,997.8 683.1,995.1 681.3,992.2 679.6,989.2 678.3,986.1 677.3,982.8 676.5,979.5 676.1,976.2 676.0,972.8 676.1,969.5 676.6,966.2 677.4,963.0 678.4,959.8 679.7,956.8 681.3,953.9 683.1,951.2 685.2,948.6 687.5,946.3 689.9,944.2 692.6,942.3 695.4,940.7 698.3,939.3 701.3,938.2 704.4,937.4 707.5,936.9 710.7,936.6 713.8,936.7 717.0,937.0 720.1,937.6 723.1,938.5 726.0,939.6 728.7,941.0 731.4,942.6 733.8,944.5 736.1,946.6 738.2,948.8 740.0,951.2 741.6,953.8 743.0,956.5 744.1,959.3 745.0,962.1 745.6,965.1 745.9,968.0 746.0,971.0 745.8,973.9 745.3,976.8 744.6,979.6 743.6,982.4 742.4,985.0 741.0,987.5 739.3,989.9 737.5,992.1 735.5,994.1 733.3,995.9 730.9,997.5 728.5,998.8 725.9,1000.0 723.3,1000.8 720.6,1001.5 717.9,1001.9 715.1,1002.0 712.4,1001.9 709.7,1001.6 707.0,1001.0 704.5,1000.2 702.0,999.2 699.7,997.9 697.4,996.5 695.4,994.8 693.5,993.0 691.7,991.1 690.2,989.0 688.9,986.7 687.8,984.4 686.9,982.0 686.2,979.6 685.8,977.1 685.5,974.6 685.6,972.1 685.8,969.6 686.3,967.2 686.9,964.8 687.8,962.5 688.9,960.4 690.1,958.3 691.6,956.4 693.2,954.6 694.9,953.0 696.8,951.6 698.7,950.3 700.8,949.3 702.9,948.4 705.1,947.7 707.4,947.3 709.6,947.0 711.8,947.0 714.1,947.1 716.2,947.5 718.4,948.1 720.4,948.8 722.4,949.7 724.2,950.8 726.0,952.0 727.6,953.4 729.0,954.9 730.3,956.5 731.5,958.2 732.4,960.0 733.2,961.9 733.8,963.8 734.3,965.7 734.5,967.7 734.6,969.7 734.5,971.6 734.2,973.5 733.7,975.3 733.1,977.1 732.3,978.8 731.4,980.4 730.4,981.9 729.2,983.2 727.9,984.5 726.6,985.6 725.1,986.6 723.6,987.4 722.0,988.0 720.4,988.5 718.8,988.9 717.2,989.1 715.6,989.1 714.0,989.0 712.5,988.8 711.0,988.4 709.5,987.8 708.2,987.2 706.9,986.4 705.7,985.5 704.7,984.6 703.7,983.5 702.9,982.4 702.2,981.3 701.7,980.1 701.2,978.8 700.9,977.6 700.8,976.3 700.7,975.1 700.8,973.9 701.0,972.8 701.4,971.7 701.8,970.6 702.3,969.7 702.9,968.8 703.6,968.1 704.4,967.4 705.2,966.9 706.1,966.5 707.0,966.2 707.9,966.1 708.8,966.1 709.6,966.3 710.5,966.6 711.3,967.1 712.0,967.9 712.6,969.2Z" fill="url(#iL1_1)"/>
<path d="M713.2,971.7 714.9,974.1 715.9,974.9 716.9,975.3 717.8,975.5 718.7,975.5 719.6,975.3 720.4,974.9 721.2,974.4 721.9,973.8 722.5,973.1 723.1,972.3 723.5,971.4 723.9,970.4 724.1,969.3 724.2,968.3 724.2,967.1 724.1,966.0 723.8,964.8 723.5,963.7 722.9,962.6 722.3,961.5 721.5,960.5 720.7,959.5 719.7,958.6 718.6,957.8 717.4,957.1 716.1,956.5 714.7,956.0 713.3,955.6 711.9,955.4 710.4,955.3 708.8,955.4 707.3,955.6 705.8,956.0 704.2,956.5 702.8,957.1 701.3,958.0 700.0,958.9 698.7,960.0 697.5,961.2 696.4,962.6 695.4,964.0 694.6,965.6 693.9,967.2 693.4,968.9 693.0,970.7 692.8,972.5 692.7,974.4 692.8,976.3 693.1,978.2 693.6,980.0 694.2,981.9 695.0,983.6 696.0,985.3 697.2,987.0 698.5,988.5 699.9,989.9 701.5,991.2 703.2,992.4 705.1,993.3 707.0,994.2 709.0,994.8 711.1,995.3 713.2,995.6 715.4,995.7 717.6,995.6 719.7,995.2 721.9,994.7 724.0,994.0 726.0,993.1 728.0,992.0 729.9,990.7 731.7,989.3 733.3,987.7 734.8,985.9 736.2,984.0 737.3,981.9 738.3,979.8 739.1,977.5 739.7,975.2 740.0,972.8 740.2,970.4 740.1,967.9 739.8,965.5 739.3,963.1 738.6,960.7 737.6,958.4 736.5,956.1 735.1,954.0 733.5,952.0 731.8,950.1 729.9,948.4 727.8,946.9 725.6,945.5 723.2,944.4 720.8,943.4 718.2,942.7 715.6,942.2 712.9,942.0 710.3,942.0 707.6,942.2 704.9,942.7 702.3,943.4 699.7,944.4 697.2,945.6 694.9,947.0 692.6,948.7 690.5,950.5 688.6,952.5 686.9,954.8 685.3,957.1 684.0,959.6 682.9,962.3 682.0,965.0 681.4,967.8 681.1,970.7 681.0,973.6 681.1,976.5 681.6,979.4 682.2,982.2 683.2,985.0 684.4,987.7 685.8,990.3 687.5,992.8 689.4,995.1 691.5,997.3 693.9,999.2 696.3,1001.0 699.0,1002.5 701.8,1003.8 704.7,1004.8 707.6,1005.5 710.7,1006.0 713.8,1006.3 716.9,1006.2 720.0,1005.8 723.1,1005.2 726.1,1004.3 729.1,1003.1 731.9,1001.7 734.6,1000.0 737.1,998.0 739.5,995.9 741.6,993.5 743.6,990.9 745.3,988.1 746.8,985.2 748.0,982.2 748.9,979.1 749.5,975.8 749.9,972.6 749.9,969.3 749.7,965.9 749.1,962.7 748.3,959.4 747.1,956.3 745.7,953.2 744.0,950.3 742.1,947.6 739.9,945.0 737.4,942.6 734.8,940.4 732.0,938.5 728.9,936.9 725.8,935.5 722.5,934.4 719.1,933.6 715.7,933.1 712.2,932.9 708.7,933.0 705.2,933.5 701.8,934.2 698.4,935.3 695.2,936.7 692.0,938.4 689.1,940.3 686.3,942.5 683.7,945.0 681.3,947.7 679.2,950.6 677.3,953.7 675.7,956.9 674.4,960.3 673.5,963.8 672.8,967.4 672.5,971.1 672.5,974.8 672.8,978.4 673.5,982.0 674.5,985.6 675.8,989.1 677.4,992.4 679.3,995.6 681.5,998.6 684.0,1001.5 686.7,1004.0 689.7,1006.4 692.8,1008.4 696.2,1010.2 699.7,1011.7 703.3,1012.8 707.0,1013.7 710.8,1014.2 714.7,1014.3 718.5,1014.1 722.3,1013.6 726.1,1012.7 729.7,1011.5 733.3,1009.9 736.7,1008.0 739.9,1005.8 743.0,1003.4 745.8,1000.6 748.3,997.7 750.6,994.5 752.6,991.0 754.2,987.5 755.6,983.7 756.6,979.9 757.3,976.0 757.6,972.0 757.5,968.0 757.1,964.0 756.3,960.1 755.2,956.2 753.7,952.5 751.9,948.8 749.8,945.4 747.4,942.1 744.6,939.1 741.6,936.4 738.4,933.9 734.9,931.7 731.3,929.8 727.5,928.2 723.5,927.0 719.5,926.2 715.4,925.7 711.2,925.6 707.1,925.9 703.0,926.5 698.9,927.5 695.0,928.9 691.2,930.6 687.5,932.7 684.0,935.1 680.8,937.8 677.8,940.8 675.1,944.0 672.7,947.5 670.6,951.2 668.8,955.1 667.4,959.1 666.4,963.3 665.7,967.5 665.4,971.8 665.5,976.1 666.0,980.4 666.9,984.6 668.2,988.7 669.8,992.7 671.8,996.6 674.1,1000.3 676.8,1003.7 679.8,1007.0 683.0,1009.9 686.5,1012.5 690.2,1014.8 694.2,1016.8 698.3,1018.4 702.5,1019.7 706.9,1020.5 711.3,1021.0 715.7,1021.0 720.1,1020.7 724.5,1020.0 728.9,1018.8 733.1,1017.3 737.1,1015.4 741.0,1013.2 744.7,1010.6 748.1,1007.7 751.3,1004.4 754.1,1000.9 756.7,997.2 758.9,993.2 760.7,989.0 762.2,984.7 763.2,980.3 763.9,975.8 764.1,971.2 764.0,966.6 763.4,962.0 762.4,957.6 761.0,953.2 759.2,948.9 757.1,944.8 754.5,940.9 751.7,937.3 748.5,933.9 745.0,930.8 741.2,928.0 737.2,925.6 733.0,923.6 728.6,921.9 724.1,920.6 719.5,919.8 714.8,919.3 710.1,919.3 705.4,919.7 700.7,920.6 696.2,921.8 691.7,923.5 687.4,925.5 683.3,928.0 679.5,930.7 675.8,933.9 672.5,937.3 669.5,941.1 666.9,945.1 664.6,949.3 662.7,953.8 661.2,958.3 660.2,963.1 659.5,967.9 659.3,972.7 659.5,977.5 660.2,982.4 661.3,987.1 662.8,991.7 664.7,996.2 667.1,1000.5 669.8,1004.6 672.9,1008.4 676.3,1012.0 680.0,1015.2 684.0,1018.1 688.2,1020.6 692.7,1022.7 697.3,1024.4 702.1,1025.7 707.0,1026.6 712.0,1027.0 716.9,1026.9 721.9,1026.5 726.8,1025.5 731.6,1024.2 736.3,1022.4 740.8,1020.2 745.1,1017.5 749.1,1014.6 752.9,1011.2 756.3,1007.5 759.5,1003.6 762.2,999.3 764.6,994.8 766.5,990.1 768.0,985.3 769.1,980.3 769.7,975.3 769.9,970.2 769.6,965.1 768.9,960.0 767.7,955.0 766.0,950.2 763.9,945.5 761.4,941.0 758.5,936.7 755.3,932.7 751.7,929.1 747.7,925.7 743.5,922.7 739.0,920.1 734.3,918.0 729.4,916.2 724.4,914.9 719.2,914.1 714.0,913.7 708.8,913.8 703.6,914.3 698.4,915.3 693.4,916.8 688.5,918.7 683.8,921.1 679.4,923.9 675.1,927.1 671.2,930.6 667.7,934.5 664.4,938.7 661.6,943.2 659.2,947.9 657.2,952.8 655.6,957.9 654.6,963.2 654.0,968.5 653.8,973.8 654.2,979.1 655.0,984.4 656.3,989.6 658.1,994.7 660.3,999.6 663.0,1004.3 666.1,1008.7 669.5,1012.8 673.3,1016.6 677.5,1020.1 682.0,1023.2 686.7,1025.8 691.6,1028.1 696.8,1029.9 702.0,1031.2 707.4,1032.0 712.9,1032.4 718.3,1032.2 723.8,1031.6 729.1,1030.5 734.4,1028.9 739.4,1026.8 744.3,1024.3 749.0,1021.3 753.3,1018.0 757.4,1014.2 761.1,1010.1 764.4,1005.7 767.3,1001.0 769.8,996.1 771.8,990.9 773.4,985.6 774.5,980.1 775.0,974.6 775.1,969.0 774.7,963.4 773.8,957.9 772.4,952.5 770.5,947.2 768.1,942.2 765.3,937.3 762.0,932.7 758.4,928.4 754.4,924.5 750.0,920.9 745.3,917.8 740.4,915.0 735.2,912.8 729.8,911.0 724.3,909.6 718.7,908.8 713.0,908.5 707.3,908.7 701.7,909.4 696.1,910.7 690.7,912.4 685.4,914.6 680.3,917.2 675.5,920.4 671.0,923.9 666.9,927.8 663.0,932.1 659.6,936.8 656.6,941.7 654.1,946.9 652.1,952.3 650.5,957.8 649.4,963.5 648.9,969.3 648.8,975.1 649.3,980.8 650.4,986.6 651.9,992.2 653.9,997.6 656.4,1002.9 659.4,1007.9 662.8,1012.6 666.6,1017.0 670.9,1021.1 675.4,1024.8 680.3,1028.0 685.5,1030.8 690.9,1033.1 696.5,1034.9 702.2,1036.2 708.0,1037.0 713.9,1037.3 719.8,1037.0 725.7,1036.2 731.5,1034.9 737.1,1033.1 742.6,1030.8 747.8,1027.9 752.7,1024.6 757.4,1020.9 761.7,1016.8 765.6,1012.3 769.1,1007.5 772.1,1002.3 774.7,996.9 776.8,991.3 778.4,985.6 779.4,979.6 779.9,973.7 779.9,967.7 779.3,961.7 778.2,955.8 776.6,950.0 774.4,944.3 771.8,938.9 768.7,933.7 765.1,928.8 761.1,924.3 756.6,920.2 751.9,916.4 746.8,913.1 746.2,912.8 745.4,914.1 746.0,914.4 751.0,917.7 755.6,921.3 759.9,925.4 763.9,929.8 767.4,934.6 770.4,939.7 773.0,945.0 775.1,950.5 776.7,956.1 777.8,961.9 778.3,967.8 778.3,973.6 777.8,979.5 776.8,985.2 775.3,990.9 773.2,996.3 770.7,1001.6 767.7,1006.6 764.3,1011.3 760.5,1015.7 756.3,1019.8 751.8,1023.4 746.9,1026.6 741.8,1029.3 736.5,1031.6 731.0,1033.4 725.4,1034.7 719.7,1035.4 713.9,1035.7 708.2,1035.4 702.5,1034.7 696.9,1033.4 691.4,1031.6 686.2,1029.3 681.1,1026.6 676.4,1023.4 671.9,1019.9 667.8,1015.9 664.1,1011.6 660.7,1007.0 657.8,1002.1 655.4,997.0 653.4,991.7 651.9,986.2 651.0,980.6 650.5,975.0 650.5,969.3 651.0,963.7 652.1,958.2 653.6,952.8 655.6,947.5 658.1,942.5 661.0,937.7 664.3,933.2 668.0,929.0 672.1,925.1 676.5,921.7 681.2,918.7 686.1,916.1 691.3,913.9 696.6,912.2 702.0,911.1 707.5,910.4 713.0,910.2 718.5,910.5 724.0,911.3 729.4,912.6 734.6,914.3 739.6,916.6 744.5,919.2 749.0,922.3 753.2,925.8 757.2,929.6 760.7,933.8 763.9,938.2 766.6,943.0 768.9,947.9 770.7,953.0 772.1,958.3 773.0,963.7 773.4,969.1 773.3,974.5 772.8,979.9 771.7,985.2 770.2,990.4 768.2,995.4 765.8,1000.2 763.0,1004.8 759.7,1009.1 756.1,1013.0 752.2,1016.7 748.0,1019.9 743.4,1022.8 738.7,1025.2 733.8,1027.2 728.7,1028.8 723.5,1029.9 718.2,1030.5 712.9,1030.6 707.6,1030.3 702.4,1029.5 697.2,1028.2 692.2,1026.5 687.4,1024.3 682.9,1021.7 678.5,1018.7 674.5,1015.3 670.8,1011.6 667.4,1007.6 664.5,1003.3 661.9,998.8 659.7,994.0 658.0,989.1 656.7,984.0 655.9,978.9 655.6,973.7 655.7,968.6 656.3,963.4 657.4,958.4 658.9,953.4 660.8,948.6 663.2,944.1 665.9,939.7 669.0,935.6 672.5,931.9 676.3,928.4 680.4,925.4 684.7,922.7 689.3,920.4 694.0,918.5 698.9,917.1 703.9,916.1 708.9,915.6 714.0,915.5 719.0,915.9 724.0,916.7 728.9,918.0 733.6,919.7 738.2,921.8 742.5,924.3 746.6,927.2 750.4,930.4 753.9,934.0 757.1,937.9 759.9,942.0 762.3,946.3 764.3,950.9 765.9,955.6 767.0,960.4 767.8,965.3 768.0,970.2 767.9,975.2 767.3,980.0 766.2,984.8 764.7,989.5 762.8,994.1 760.6,998.4 757.9,1002.5 754.9,1006.3 751.6,1009.9 747.9,1013.1 744.0,1016.0 739.9,1018.5 735.5,1020.6 731.0,1022.4 726.3,1023.7 721.6,1024.6 716.8,1025.0 712.0,1025.1 707.2,1024.7 702.5,1023.8 697.9,1022.6 693.4,1020.9 689.1,1018.9 685.0,1016.4 681.2,1013.7 677.6,1010.5 674.3,1007.1 671.3,1003.4 668.7,999.5 666.5,995.3 664.6,991.0 663.2,986.5 662.1,982.0 661.5,977.3 661.3,972.7 661.5,968.0 662.1,963.4 663.1,958.8 664.6,954.4 666.4,950.2 668.6,946.1 671.2,942.2 674.1,938.6 677.2,935.3 680.7,932.3 684.4,929.6 688.4,927.3 692.5,925.3 696.8,923.7 701.2,922.5 705.7,921.7 710.2,921.3 714.7,921.4 719.3,921.8 723.7,922.6 728.0,923.8 732.2,925.5 736.3,927.4 740.1,929.8 743.7,932.4 747.1,935.4 750.1,938.6 752.9,942.1 755.3,945.9 757.4,949.8 759.1,953.9 760.4,958.1 761.3,962.4 761.9,966.8 762.0,971.2 761.8,975.6 761.2,979.9 760.1,984.2 758.7,988.3 757.0,992.3 754.9,996.1 752.4,999.7 749.7,1003.1 746.7,1006.1 743.4,1008.9 739.8,1011.4 736.1,1013.6 732.2,1015.4 728.2,1016.8 724.1,1017.9 719.8,1018.6 715.6,1018.9 711.4,1018.8 707.1,1018.4 703.0,1017.6 698.9,1016.4 695.0,1014.8 691.3,1012.9 687.7,1010.7 684.4,1008.2 681.3,1005.4 678.4,1002.3 675.9,999.0 673.7,995.5 671.8,991.8 670.2,988.0 669.0,984.0 668.2,980.0 667.8,975.9 667.7,971.8 667.9,967.7 668.6,963.7 669.6,959.7 670.9,955.9 672.6,952.2 674.6,948.7 676.9,945.3 679.5,942.2 682.4,939.4 685.4,936.8 688.7,934.6 692.2,932.6 695.9,931.0 699.6,929.7 703.5,928.7 707.4,928.1 711.3,927.9 715.3,928.0 719.2,928.5 723.0,929.3 726.8,930.4 730.4,931.9 733.8,933.7 737.1,935.8 740.2,938.2 743.0,940.8 745.6,943.7 747.9,946.8 749.9,950.0 751.6,953.5 753.0,957.0 754.0,960.7 754.8,964.4 755.1,968.2 755.2,972.0 754.9,975.7 754.2,979.5 753.3,983.1 752.0,986.6 750.4,990.0 748.5,993.2 746.3,996.2 743.9,999.0 741.3,1001.6 738.4,1003.9 735.4,1006.0 732.1,1007.7 728.8,1009.2 725.3,1010.3 721.8,1011.1 718.2,1011.6 714.6,1011.8 711.0,1011.7 707.4,1011.2 703.9,1010.4 700.5,1009.3 697.2,1007.9 694.1,1006.2 691.1,1004.3 688.3,1002.1 685.8,999.6 683.5,997.0 681.4,994.1 679.6,991.1 678.1,988.0 676.9,984.7 676.0,981.4 675.4,978.0 675.1,974.6 675.1,971.1 675.4,967.7 676.1,964.4 677.0,961.1 678.2,957.9 679.7,954.9 681.4,952.0 683.4,949.3 685.7,946.8 688.1,944.5 690.7,942.5 693.5,940.7 696.4,939.1 699.5,937.9 702.6,936.9 705.8,936.2 709.0,935.8 712.3,935.7 715.5,935.9 718.7,936.3 721.8,937.1 724.9,938.1 727.8,939.4 730.6,941.0 733.2,942.8 735.6,944.8 737.9,947.0 739.9,949.4 741.7,952.0 743.2,954.7 744.5,957.5 745.5,960.4 746.3,963.4 746.8,966.4 747.0,969.5 746.9,972.5 746.6,975.5 746.0,978.5 745.1,981.3 744.0,984.1 742.6,986.8 741.0,989.3 739.2,991.6 737.2,993.8 735.1,995.8 732.7,997.5 730.3,999.1 727.7,1000.4 725.0,1001.4 722.2,1002.2 719.4,1002.8 716.6,1003.1 713.7,1003.1 710.9,1002.9 708.2,1002.4 705.5,1001.7 702.8,1000.7 700.3,999.6 697.9,998.2 695.7,996.6 693.6,994.8 691.8,992.8 690.1,990.7 688.6,988.5 687.3,986.1 686.2,983.7 685.4,981.2 684.8,978.6 684.5,976.0 684.3,973.4 684.5,970.8 684.8,968.2 685.4,965.7 686.2,963.3 687.2,961.0 688.4,958.7 689.8,956.7 691.4,954.7 693.1,952.9 695.0,951.3 697.0,949.9 699.1,948.7 701.3,947.7 703.6,946.8 705.9,946.2 708.3,945.8 710.6,945.7 713.0,945.7 715.3,946.0 717.6,946.4 719.8,947.1 721.9,948.0 723.9,949.0 725.8,950.2 727.6,951.6 729.2,953.1 730.7,954.7 732.0,956.5 733.2,958.3 734.1,960.3 734.9,962.3 735.5,964.3 735.9,966.4 736.0,968.5 736.0,970.6 735.9,972.6 735.5,974.6 734.9,976.6 734.2,978.4 733.4,980.2 732.3,981.9 731.2,983.5 729.9,984.9 728.5,986.2 726.9,987.4 725.4,988.4 723.7,989.2 722.0,989.9 720.2,990.4 718.5,990.7 716.7,990.9 714.9,990.9 713.2,990.8 711.5,990.4 709.9,990.0 708.3,989.4 706.8,988.6 705.4,987.8 704.2,986.8 703.0,985.7 701.9,984.5 701.0,983.3 700.2,982.0 699.6,980.6 699.1,979.2 698.7,977.8 698.5,976.4 698.4,975.0 698.5,973.6 698.7,972.3 699.0,971.0 699.4,969.8 700.0,968.6 700.6,967.5 701.3,966.6 702.2,965.7 703.0,964.9 704.0,964.3 705.0,963.7 706.0,963.3 707.0,963.0 708.0,962.9 709.0,962.9 710.0,963.0 710.9,963.2 711.8,963.5 712.6,964.0 713.3,964.6 713.8,965.2 714.3,966.0 714.6,967.0 714.6,968.0 714.3,969.4Z" fill="url(#iL1_2)"/>
</g></g>
<rect x="471.1" y="726.6" width="295.8" height="297.4" fill="none" stroke="#000" stroke-width="2"/>
<rect x="790.3" y="724.0" width="24.3" height="300.2" fill="url(#cbg)" stroke="url(#cbs)" stroke-width="1.5"/>
<path d="M814.6,744.2h-3M814.6,775.4h-3M814.6,806.6h-3M814.6,837.8h-3M814.6,869.0h-3M814.6,900.2h-3M814.6,931.4h-3M814.6,962.6h-3M814.6,993.8h-3" stroke="#555" stroke-width="1.2"/>
<g font-family="'Liberation Sans',Arial,sans-serif" font-size="9.8" fill="#555"><text x="818.8" y="748.1">18</text><text x="818.8" y="779.3">16</text><text x="818.8" y="810.5">14</text><text x="818.8" y="841.7">12</text><text x="818.8" y="872.9">10</text><text x="818.8" y="904.1">8</text><text x="818.8" y="935.3">6</text><text x="818.8" y="966.5">4</text><text x="818.8" y="997.7">2</text></g>
<text x="816.1" y="718.5" font-family="'Liberation Sans',Arial,sans-serif" font-size="11" fill="#777">×<tspan font-size="12.5" fill="#666">10</tspan><tspan font-size="7.5" dy="-5" fill="#777">-11</tspan></text>
<g font-family="'Liberation Sans',Arial,sans-serif" font-size="13" fill="#4a4a4a"><text x="445.2" y="744.7" text-anchor="end">-9</text><text x="445.2" y="790.2" text-anchor="end">-6</text><text x="445.2" y="835.7" text-anchor="end">-3</text><text x="445.2" y="881.2" text-anchor="end">0</text><text x="445.2" y="926.7" text-anchor="end">3</text><text x="445.2" y="972.2" text-anchor="end">6</text><text x="445.2" y="1017.7" text-anchor="end">9</text><text x="484.6" y="1045.7" text-anchor="middle">-9</text><text x="529.5" y="1045.7" text-anchor="middle">-6</text><text x="574.5" y="1045.7" text-anchor="middle">-3</text><text x="621.4" y="1045.7" text-anchor="middle">0</text><text x="666.3" y="1045.7" text-anchor="middle">3</text><text x="711.3" y="1045.7" text-anchor="middle">6</text><text x="756.2" y="1045.7" text-anchor="middle">9</text></g>
<text x="472.6" y="716.5" font-family="'Liberation Sans',Arial,sans-serif" font-size="17" fill="#8a8a8a">×<tspan fill="#606060" font-size="14" font-weight="bold" letter-spacing="-1.2" dx="1">10</tspan><tspan font-size="7" dy="-5.5" fill="#999">-6</tspan></text>
<text transform="translate(627.0,1086.6) scale(1,1.055)" text-anchor="middle" font-family="'Liberation Serif','Times New Roman',serif" font-weight="bold" font-size="42" fill="#E8141C">1540 nm</text>
<rect x="892.3" y="721.7" width="296.0" height="297.0" fill="url(#dn2)" stroke="#000" stroke-width="2"/>
<g clip-path="url(#ic2)">
<rect x="1079.4" y="912.9" width="109.4" height="106.3" fill="#0a0a0a"/>
<g filter="url(#sb)">
<circle cx="1133.5" cy="966.5" r="80" fill="url(#iD2)"/>
<path d="M1133.5,966.5 1131.4,968.7 1130.9,969.8 1130.7,970.8 1130.7,971.8 1130.9,972.7 1131.3,973.5 1131.8,974.2 1132.4,974.9 1133.2,975.4 1134.0,975.9 1134.9,976.3 1135.9,976.6 1136.9,976.7 1138.0,976.7 1139.1,976.6 1140.2,976.4 1141.3,976.1 1142.3,975.6 1143.4,975.0 1144.4,974.2 1145.3,973.4 1146.2,972.4 1147.0,971.4 1147.6,970.2 1148.2,969.0 1148.7,967.7 1149.0,966.3 1149.2,964.9 1149.3,963.4 1149.2,962.0 1149.0,960.5 1148.6,959.0 1148.1,957.5 1147.4,956.1 1146.6,954.7 1145.7,953.4 1144.6,952.2 1143.4,951.0 1142.1,950.0 1140.7,949.0 1139.1,948.2 1137.5,947.6 1135.8,947.1 1134.1,946.7 1132.3,946.5 1130.5,946.5 1128.6,946.6 1126.8,946.9 1125.0,947.4 1123.2,948.1 1121.5,948.9 1119.8,949.9 1118.2,951.1 1116.7,952.4 1115.4,953.8 1114.1,955.4 1113.0,957.1 1112.1,958.9 1111.3,960.8 1110.7,962.8 1110.2,964.9 1110.0,967.0 1109.9,969.1 1110.1,971.2 1110.4,973.4 1111.0,975.5 1111.7,977.6 1112.6,979.6 1113.8,981.5 1115.0,983.3 1116.5,985.1 1118.1,986.6 1119.9,988.1 1121.8,989.4 1123.9,990.5 1126.0,991.4 1128.3,992.2 1130.6,992.7 1132.9,993.0 1135.3,993.1 1137.7,993.0 1140.2,992.7 1142.5,992.2 1144.9,991.4 1147.1,990.4 1149.3,989.2 1151.4,987.8 1153.4,986.2 1155.2,984.5 1156.8,982.5 1158.3,980.5 1159.6,978.2 1160.7,975.9 1161.6,973.4 1162.3,970.9 1162.7,968.3 1162.9,965.7 1162.8,963.0 1162.6,960.4 1162.0,957.7 1161.3,955.2 1160.3,952.6 1159.0,950.2 1157.6,947.9 1155.9,945.7 1154.1,943.7 1152.0,941.8 1149.8,940.1 1147.4,938.6 1144.9,937.3 1142.3,936.3 1139.6,935.5 1136.8,934.9 1133.9,934.6 1131.0,934.6 1128.2,934.8 1125.3,935.3 1122.5,936.0 1119.7,937.0 1117.0,938.2 1114.5,939.7 1112.1,941.4 1109.8,943.4 1107.7,945.5 1105.8,947.8 1104.2,950.3 1102.7,953.0 1101.5,955.8 1100.5,958.7 1099.8,961.6 1099.4,964.7 1099.2,967.7 1099.3,970.8 1099.8,973.9 1100.4,977.0 1101.4,979.9 1102.6,982.8 1104.1,985.6 1105.8,988.3 1107.8,990.7 1110.0,993.0 1112.4,995.1 1115.0,997.0 1117.8,998.7 1120.7,1000.1 1123.7,1001.2 1126.9,1002.1 1130.1,1002.7 1133.3,1002.9 1136.6,1002.9 1139.9,1002.6 1143.2,1002.0 1146.4,1001.1 1149.5,999.9 1152.5,998.5 1155.3,996.7 1158.0,994.7 1160.6,992.5 1162.9,990.0 1165.0,987.4 1166.8,984.5 1168.4,981.5 1169.7,978.3 1170.8,975.0 1171.5,971.7 1171.9,968.2 1172.0,964.8 1171.8,961.3 1171.3,957.9 1170.5,954.5 1169.4,951.1 1168.0,947.9 1166.2,944.8 1164.2,941.9 1162.0,939.2 1159.5,936.6 1156.8,934.3 1153.8,932.3 1150.7,930.5 1147.5,929.0 1144.1,927.8 1140.6,926.9 1137.0,926.3 1133.3,926.0 1129.7,926.1 1126.1,926.5 1122.5,927.2 1118.9,928.3 1115.5,929.6 1112.2,931.3 1109.1,933.3 1106.1,935.5 1103.4,938.0 1100.8,940.8 1098.6,943.8 1096.6,946.9 1094.9,950.3 1093.5,953.8 1092.4,957.4 1091.6,961.2 1091.2,964.9 1091.1,968.8 1091.4,972.6 1092.0,976.4 1093.0,980.1 1094.3,983.7 1095.9,987.2 1097.8,990.6 1100.0,993.7 1102.5,996.7 1105.3,999.5 1108.3,1001.9 1111.6,1004.1 1115.0,1006.1 1118.6,1007.7 1122.3,1008.9 1126.2,1009.9 1130.1,1010.4 1134.0,1010.7 1138.0,1010.5 1142.0,1010.1 1145.9,1009.2 1149.7,1008.0 1153.4,1006.5 1157.0,1004.6 1160.4,1002.4 1163.6,999.9 1166.5,997.2 1169.2,994.1 1171.7,990.9 1173.8,987.4 1175.6,983.7 1177.1,979.9 1178.2,975.9 1178.9,971.9 1179.3,967.8 1179.4,963.7 1179.0,959.5 1178.3,955.5 1177.2,951.4 1175.8,947.5 1174.0,943.8 1171.9,940.2 1169.4,936.8 1166.7,933.6 1163.6,930.7 1160.3,928.0 1156.8,925.7 1153.1,923.7 1149.2,922.0 1145.2,920.7 1141.0,919.7 1136.8,919.1 1132.5,918.9 1128.2,919.1 1124.0,919.7 1119.8,920.7 1115.7,922.0 1111.7,923.7 1107.9,925.7 1104.3,928.1 1100.9,930.8 1097.8,933.9 1094.9,937.1 1092.3,940.7 1090.1,944.5 1088.2,948.4 1086.7,952.5 1085.5,956.8 1084.7,961.1 1084.4,965.5 1084.4,969.9 1084.8,974.4 1085.6,978.7 1086.8,983.0 1088.4,987.2 1090.4,991.2 1092.7,995.0 1095.4,998.6 1098.3,1002.0 1101.6,1005.1 1105.2,1007.9 1108.9,1010.3 1113.0,1012.4 1117.1,1014.2 1121.5,1015.5 1125.9,1016.5 1130.4,1017.1 1135.0,1017.2 1139.5,1017.0 1144.1,1016.3 1148.5,1015.2 1152.9,1013.8 1157.1,1011.9 1161.1,1009.7 1165.0,1007.1 1168.5,1004.2 1171.8,1000.9 1174.9,997.4 1177.5,993.6 1179.9,989.6 1181.8,985.3 1183.4,980.9 1184.6,976.4 1185.4,971.8 1185.7,967.1 1185.6,962.4 1185.1,957.7 1184.2,953.1 1182.9,948.6 1181.2,944.2 1179.0,939.9 1176.5,935.9 1173.7,932.1 1170.5,928.6 1167.0,925.3 1163.2,922.4 1159.1,919.8 1154.9,917.7 1150.4,915.9 1145.8,914.5 1141.1,913.5 1136.3,912.9 1131.5,912.8 1126.7,913.1 1121.9,913.9 1117.2,915.1 1112.6,916.7 1108.1,918.7 1103.9,921.1 1099.9,923.9 1096.1,927.0 1092.7,930.5 1089.5,934.2 1086.7,938.3 1084.3,942.5 1082.3,947.0 1080.7,951.7 1079.5,956.5 1078.7,961.4 1078.4,966.3 1078.5,971.3 1079.1,976.2 1080.1,981.1 1081.5,985.9 1083.4,990.5 1085.7,994.9 1088.4,999.2 1091.5,1003.1 1094.9,1006.8 1098.6,1010.2 1102.6,1013.2 1106.9,1015.9 1111.4,1018.1 1116.1,1020.0 1121.0,1021.4 1126.0,1022.4 1131.0,1022.9 1136.1,1023.0 1141.2,1022.6 1146.2,1021.8 1151.2,1020.5 1156.0,1018.8 1160.6,1016.6 1165.0,1014.0 1169.2,1011.0 1173.1,1007.7 1176.7,1004.0 1180.0,1000.0 1182.9,995.8 1185.4,991.2 1187.5,986.5 1189.1,981.6 1190.3,976.5 1191.1,971.4 1191.4,966.2 1191.2,961.0 1190.5,955.8 1189.4,950.7 1187.9,945.7 1185.8,940.9 1183.4,936.2 1180.5,931.8 1177.3,927.7 1173.7,923.9 1169.7,920.4 1165.5,917.2 1160.9,914.5 1156.2,912.2 1151.2,910.3 1146.1,908.8 1140.9,907.9 1135.6,907.4 1130.3,907.3 1125.0,907.8 1119.7,908.7 1114.5,910.1 1109.5,912.0 1104.7,914.3 1100.1,917.0 1095.7,920.2 1091.6,923.7 1087.9,927.6 1084.5,931.8 1081.6,936.3 1079.0,941.1 1076.9,946.1 1075.2,951.2 1074.0,956.5 1073.2,961.9 1073.0,967.3 1073.2,972.8 1074.0,978.2 1075.2,983.5 1076.9,988.7 1079.0,993.7 1081.6,998.5 1084.7,1003.1 1088.1,1007.4 1091.9,1011.4 1096.1,1015.0 1100.6,1018.2 1105.3,1021.0 1110.3,1023.4 1115.5,1025.3 1120.8,1026.8 1126.3,1027.8 1131.8,1028.2 1137.4,1028.2 1142.9,1027.7 1148.4,1026.7 1153.8,1025.1 1159.0,1023.1 1164.0,1020.7 1168.8,1017.8 1173.3,1014.5 1177.5,1010.7 1181.4,1006.6 1184.8,1002.2 1187.9,997.5 1190.5,992.5 1192.7,987.3 1194.4,981.9 1195.6,976.4 1196.3,970.8 1196.5,965.1 1196.2,959.4 1195.4,953.8 1194.1,948.3 1192.3,942.9 1190.0,937.7 1187.2,932.7 1184.0,927.9 1180.4,923.5 1176.4,919.4 1172.0,915.7 1167.3,912.4 1162.4,909.5 1157.1,907.1 1151.7,905.1 1146.2,903.7 1140.5,902.7 1134.7,902.3 1128.9,902.4 1123.2,903.0 1117.5,904.1 1111.9,905.7 1106.5,907.8 1101.3,910.4 1096.4,913.5 1091.7,917.0 1087.4,920.9 1083.4,925.2 1079.8,929.8 1076.7,934.8 1074.0,940.0 1071.8,945.4 1070.1,951.0 1068.9,956.8 1068.2,962.6 1068.1,968.5 1068.4,974.4 1069.3,980.2 1070.8,985.9 1072.7,991.5 1075.1,996.9 1078.1,1002.1 1081.4,1007.0 1085.2,1011.5 1089.4,1015.7 1094.0,1019.5 1098.9,1022.9 1104.1,1025.9 1109.5,1028.3 1115.1,1030.3 1120.9,1031.8 1126.8,1032.7 1132.8,1033.1 1138.8,1033.0 1144.8,1032.3 1150.7,1031.1 1156.4,1029.3 1162.0,1027.1 1167.4,1024.3 1172.5,1021.1 1177.3,1017.4 1181.7,1013.3 1185.8,1008.9 1189.4,1004.0 1192.6,998.9 1195.4,993.5 1197.6,987.8 1199.3,982.0 1200.5,976.0 1201.2,970.0 1201.3,963.9 1200.8,957.8 1199.8,951.8 1198.3,945.8 1196.2,940.1 1193.7,934.5 1190.6,929.2 1187.1,924.2 1183.1,919.5 1178.7,915.2 1173.9,911.3 1168.8,907.8 1163.5,904.8 1157.8,902.3 1152.0,900.3 1145.9,898.8 1139.8,897.9 1133.6,897.6 1127.4,897.8 1121.3,898.5 1115.2,899.9 1109.3,901.7 1103.5,904.1 1098.0,907.0 1092.7,910.4 1087.8,914.2 1083.3,918.5 1080.7,921.2 1083.4,923.5 1085.8,920.9 1090.1,916.9 1094.8,913.2 1099.8,910.0 1105.0,907.3 1110.5,905.0 1116.1,903.3 1121.9,902.0 1127.7,901.3 1133.6,901.2 1139.5,901.5 1145.3,902.4 1151.0,903.7 1156.5,905.6 1161.9,908.0 1167.0,910.9 1171.8,914.2 1176.3,917.9 1180.5,922.0 1184.2,926.4 1187.6,931.2 1190.5,936.2 1192.9,941.5 1194.8,946.9 1196.3,952.5 1197.2,958.2 1197.6,964.0 1197.5,969.8 1196.9,975.5 1195.8,981.2 1194.1,986.7 1192.0,992.0 1189.4,997.1 1186.4,1002.0 1182.9,1006.6 1179.1,1010.8 1174.9,1014.7 1170.3,1018.1 1165.5,1021.2 1160.4,1023.8 1155.1,1025.9 1149.7,1027.5 1144.1,1028.7 1138.5,1029.3 1132.8,1029.4 1127.2,1029.0 1121.6,1028.1 1116.1,1026.8 1110.8,1024.9 1105.7,1022.5 1100.8,1019.8 1096.2,1016.6 1091.9,1012.9 1088.0,1009.0 1084.4,1004.7 1081.2,1000.1 1078.5,995.2 1076.2,990.1 1074.4,984.8 1073.0,979.4 1072.2,973.9 1071.8,968.4 1072.0,962.8 1072.6,957.3 1073.8,951.9 1075.4,946.6 1077.5,941.5 1080.0,936.6 1083.0,932.0 1086.3,927.6 1090.1,923.6 1094.2,919.9 1098.5,916.6 1103.2,913.7 1108.1,911.3 1113.2,909.3 1118.4,907.8 1123.8,906.7 1129.2,906.2 1134.6,906.1 1140.0,906.5 1145.4,907.4 1150.6,908.8 1155.7,910.7 1160.6,913.0 1165.3,915.7 1169.7,918.8 1173.8,922.3 1177.5,926.1 1180.9,930.3 1183.9,934.8 1186.5,939.4 1188.6,944.3 1190.3,949.4 1191.6,954.6 1192.3,959.9 1192.6,965.2 1192.4,970.5 1191.7,975.8 1190.6,981.0 1189.0,986.0 1186.9,990.9 1184.5,995.5 1181.6,1000.0 1178.3,1004.1 1174.7,1007.9 1170.8,1011.4 1166.5,1014.5 1162.1,1017.2 1157.4,1019.5 1152.5,1021.4 1147.4,1022.8 1142.3,1023.7 1137.1,1024.2 1131.9,1024.2 1126.8,1023.8 1121.7,1022.9 1116.7,1021.5 1111.8,1019.7 1107.2,1017.5 1102.7,1014.8 1098.6,1011.8 1094.7,1008.4 1091.1,1004.7 1087.9,1000.7 1085.1,996.4 1082.7,991.9 1080.7,987.2 1079.1,982.4 1078.0,977.4 1077.3,972.3 1077.1,967.3 1077.3,962.2 1078.0,957.2 1079.2,952.3 1080.7,947.5 1082.7,942.8 1085.1,938.4 1087.9,934.2 1091.1,930.3 1094.5,926.7 1098.3,923.4 1102.4,920.5 1106.7,917.9 1111.2,915.8 1115.9,914.1 1120.7,912.8 1125.6,911.9 1130.5,911.5 1135.5,911.6 1140.4,912.0 1145.2,912.9 1150.0,914.3 1154.6,916.1 1159.0,918.2 1163.2,920.8 1167.1,923.7 1170.8,927.0 1174.1,930.5 1177.1,934.4 1179.7,938.5 1182.0,942.8 1183.9,947.2 1185.3,951.9 1186.3,956.6 1186.9,961.4 1187.1,966.2 1186.8,971.0 1186.1,975.8 1185.0,980.5 1183.4,985.0 1181.5,989.4 1179.2,993.6 1176.5,997.5 1173.5,1001.2 1170.1,1004.6 1166.5,1007.6 1162.6,1010.4 1158.5,1012.7 1154.2,1014.7 1149.8,1016.3 1145.2,1017.5 1140.6,1018.3 1135.9,1018.6 1131.2,1018.5 1126.6,1018.0 1122.0,1017.1 1117.5,1015.8 1113.2,1014.1 1109.0,1012.0 1105.1,1009.5 1101.4,1006.7 1098.0,1003.6 1094.8,1000.2 1092.0,996.5 1089.6,992.6 1087.5,988.6 1085.8,984.3 1084.4,979.9 1083.5,975.4 1083.0,970.9 1082.9,966.3 1083.2,961.8 1083.9,957.3 1085.0,952.9 1086.5,948.7 1088.4,944.5 1090.6,940.6 1093.2,936.9 1096.1,933.5 1099.3,930.3 1102.7,927.5 1106.4,924.9 1110.3,922.7 1114.4,920.9 1118.6,919.5 1122.9,918.4 1127.2,917.7 1131.7,917.5 1136.1,917.6 1140.4,918.1 1144.7,919.0 1148.9,920.3 1153.0,922.0 1156.9,924.0 1160.5,926.3 1164.0,929.0 1167.2,931.9 1170.1,935.2 1172.7,938.6 1174.9,942.3 1176.9,946.2 1178.4,950.2 1179.6,954.3 1180.4,958.5 1180.9,962.8 1180.9,967.0 1180.6,971.3 1179.9,975.5 1178.8,979.6 1177.3,983.6 1175.5,987.4 1173.4,991.0 1171.0,994.5 1168.2,997.7 1165.2,1000.6 1162.0,1003.2 1158.5,1005.6 1154.8,1007.6 1151.0,1009.2 1147.1,1010.5 1143.0,1011.5 1139.0,1012.1 1134.8,1012.3 1130.7,1012.1 1126.7,1011.6 1122.7,1010.7 1118.8,1009.4 1115.0,1007.8 1111.4,1005.9 1108.0,1003.7 1104.8,1001.2 1101.9,998.4 1099.2,995.4 1096.9,992.1 1094.8,988.7 1093.0,985.1 1091.6,981.3 1090.6,977.5 1089.9,973.5 1089.5,969.6 1089.5,965.6 1089.9,961.7 1090.6,957.8 1091.6,954.0 1093.0,950.3 1094.7,946.8 1096.7,943.5 1099.0,940.3 1101.6,937.4 1104.4,934.7 1107.5,932.3 1110.7,930.2 1114.1,928.4 1117.6,926.9 1121.3,925.7 1125.0,924.9 1128.8,924.4 1132.6,924.3 1136.4,924.5 1140.2,925.0 1143.8,925.9 1147.4,927.1 1150.9,928.6 1154.1,930.4 1157.2,932.5 1160.1,934.8 1162.8,937.4 1165.2,940.2 1167.4,943.3 1169.2,946.4 1170.8,949.8 1172.0,953.2 1172.9,956.8 1173.6,960.4 1173.8,964.0 1173.8,967.6 1173.4,971.2 1172.7,974.8 1171.7,978.3 1170.4,981.6 1168.8,984.8 1166.9,987.8 1164.8,990.7 1162.4,993.3 1159.8,995.7 1157.0,997.9 1154.0,999.8 1150.9,1001.4 1147.6,1002.7 1144.3,1003.7 1140.9,1004.4 1137.4,1004.8 1134.0,1004.9 1130.5,1004.6 1127.1,1004.1 1123.8,1003.3 1120.6,1002.1 1117.5,1000.7 1114.5,999.0 1111.8,997.1 1109.2,994.9 1106.8,992.6 1104.7,990.0 1102.8,987.2 1101.1,984.3 1099.8,981.3 1098.7,978.2 1097.9,975.0 1097.4,971.7 1097.2,968.4 1097.3,965.2 1097.7,961.9 1098.4,958.8 1099.3,955.7 1100.5,952.7 1102.0,949.8 1103.8,947.2 1105.7,944.6 1107.9,942.3 1110.3,940.2 1112.8,938.3 1115.5,936.7 1118.3,935.3 1121.2,934.2 1124.2,933.3 1127.2,932.8 1130.3,932.5 1133.4,932.4 1136.4,932.7 1139.4,933.2 1142.4,934.0 1145.2,935.1 1147.9,936.4 1150.5,937.9 1152.9,939.6 1155.2,941.6 1157.2,943.7 1159.1,946.1 1160.7,948.5 1162.1,951.1 1163.2,953.8 1164.1,956.5 1164.7,959.4 1165.1,962.2 1165.2,965.1 1165.1,967.9 1164.7,970.7 1164.1,973.5 1163.2,976.2 1162.0,978.7 1160.7,981.2 1159.1,983.5 1157.4,985.6 1155.5,987.6 1153.4,989.4 1151.2,991.0 1148.8,992.3 1146.4,993.5 1143.9,994.4 1141.3,995.1 1138.6,995.5 1136.0,995.7 1133.4,995.6 1130.8,995.4 1128.2,994.8 1125.7,994.1 1123.3,993.1 1121.1,992.0 1118.9,990.6 1116.9,989.1 1115.0,987.4 1113.3,985.5 1111.8,983.5 1110.5,981.4 1109.4,979.2 1108.5,977.0 1107.8,974.6 1107.4,972.2 1107.1,969.8 1107.1,967.5 1107.3,965.1 1107.7,962.8 1108.3,960.5 1109.1,958.3 1110.1,956.2 1111.3,954.3 1112.6,952.4 1114.1,950.7 1115.7,949.1 1117.5,947.8 1119.3,946.5 1121.3,945.5 1123.3,944.7 1125.4,944.0 1127.5,943.5 1129.6,943.3 1131.7,943.2 1133.8,943.3 1135.9,943.6 1137.9,944.1 1139.8,944.8 1141.7,945.7 1143.4,946.6 1145.0,947.8 1146.6,949.1 1147.9,950.5 1149.2,952.0 1150.2,953.6 1151.2,955.2 1151.9,957.0 1152.5,958.7 1152.9,960.5 1153.1,962.4 1153.2,964.2 1153.1,966.0 1152.9,967.7 1152.5,969.4 1151.9,971.0 1151.2,972.6 1150.3,974.1 1149.4,975.4 1148.3,976.7 1147.1,977.8 1145.9,978.8 1144.6,979.7 1143.2,980.4 1141.8,981.0 1140.3,981.4 1138.9,981.7 1137.4,981.9 1136.0,981.9 1134.6,981.8 1133.2,981.5 1131.9,981.1 1130.6,980.6 1129.5,980.0 1128.4,979.3 1127.4,978.5 1126.5,977.6 1125.8,976.6 1125.1,975.6 1124.6,974.6 1124.2,973.6 1124.0,972.5 1123.8,971.4 1123.8,970.4 1123.9,969.4 1124.1,968.4 1124.5,967.5 1124.9,966.7 1125.5,965.9 1126.1,965.3 1126.9,964.8 1127.7,964.4 1128.6,964.3 1129.6,964.3 1130.8,964.6 1132.4,965.5Z" fill="url(#iL2_0)"/>
<path d="M1133.5,966.5 1133.3,969.5 1133.6,970.7 1134.1,971.6 1134.7,972.3 1135.5,972.9 1136.3,973.3 1137.1,973.5 1138.1,973.6 1139.0,973.6 1139.9,973.4 1140.9,973.1 1141.8,972.7 1142.7,972.1 1143.5,971.5 1144.3,970.7 1145.0,969.8 1145.6,968.8 1146.1,967.8 1146.5,966.6 1146.8,965.5 1147.0,964.2 1147.0,962.9 1147.0,961.6 1146.7,960.3 1146.4,959.0 1145.9,957.7 1145.3,956.4 1144.5,955.2 1143.6,954.0 1142.6,952.9 1141.5,951.9 1140.3,951.0 1138.9,950.2 1137.5,949.6 1136.0,949.0 1134.4,948.6 1132.8,948.4 1131.2,948.2 1129.5,948.3 1127.8,948.5 1126.1,948.9 1124.4,949.4 1122.8,950.1 1121.2,951.0 1119.7,952.0 1118.3,953.1 1117.0,954.4 1115.8,955.8 1114.7,957.4 1113.8,959.0 1113.0,960.8 1112.3,962.6 1111.9,964.5 1111.6,966.4 1111.4,968.4 1111.5,970.4 1111.8,972.4 1112.2,974.4 1112.8,976.4 1113.6,978.3 1114.6,980.2 1115.8,981.9 1117.1,983.6 1118.6,985.2 1120.2,986.6 1122.0,987.9 1123.9,989.0 1125.9,989.9 1128.0,990.7 1130.2,991.3 1132.4,991.6 1134.7,991.8 1137.0,991.8 1139.3,991.5 1141.5,991.1 1143.8,990.4 1146.0,989.5 1148.1,988.5 1150.1,987.2 1152.0,985.7 1153.8,984.1 1155.4,982.3 1156.9,980.4 1158.2,978.3 1159.3,976.1 1160.2,973.7 1160.9,971.3 1161.4,968.9 1161.7,966.3 1161.7,963.8 1161.5,961.2 1161.1,958.7 1160.4,956.2 1159.5,953.8 1158.4,951.4 1157.0,949.1 1155.5,947.0 1153.8,945.0 1151.8,943.1 1149.7,941.5 1147.5,940.0 1145.1,938.7 1142.6,937.6 1140.0,936.8 1137.3,936.2 1134.6,935.8 1131.8,935.7 1129.0,935.8 1126.3,936.2 1123.5,936.8 1120.8,937.7 1118.2,938.8 1115.7,940.2 1113.3,941.8 1111.1,943.6 1109.0,945.6 1107.1,947.8 1105.5,950.2 1104.0,952.7 1102.7,955.4 1101.7,958.2 1101.0,961.0 1100.5,964.0 1100.3,967.0 1100.3,970.0 1100.6,973.0 1101.2,975.9 1102.1,978.8 1103.2,981.7 1104.6,984.4 1106.2,987.0 1108.0,989.5 1110.1,991.8 1112.4,993.9 1114.9,995.8 1117.5,997.4 1120.3,998.9 1123.2,1000.0 1126.3,1000.9 1129.4,1001.6 1132.5,1001.9 1135.7,1002.0 1138.9,1001.8 1142.1,1001.3 1145.3,1000.5 1148.3,999.4 1151.3,998.0 1154.1,996.4 1156.8,994.5 1159.3,992.4 1161.6,990.1 1163.7,987.5 1165.6,984.8 1167.2,981.9 1168.6,978.8 1169.6,975.6 1170.4,972.4 1170.9,969.0 1171.1,965.7 1171.0,962.3 1170.6,958.9 1169.9,955.6 1168.9,952.3 1167.5,949.1 1165.9,946.1 1164.1,943.2 1161.9,940.4 1159.5,937.9 1156.9,935.6 1154.1,933.5 1151.1,931.7 1148.0,930.1 1144.7,928.9 1141.3,927.9 1137.8,927.2 1134.2,926.9 1130.7,926.9 1127.1,927.2 1123.6,927.8 1120.1,928.8 1116.7,930.0 1113.4,931.6 1110.3,933.4 1107.4,935.6 1104.6,938.0 1102.1,940.6 1099.8,943.5 1097.8,946.5 1096.0,949.8 1094.6,953.2 1093.4,956.7 1092.6,960.3 1092.1,964.0 1091.9,967.8 1092.1,971.5 1092.6,975.2 1093.5,978.9 1094.7,982.5 1096.2,986.0 1098.0,989.3 1100.1,992.5 1102.5,995.4 1105.1,998.2 1108.0,1000.7 1111.2,1002.9 1114.5,1004.9 1118.0,1006.5 1121.6,1007.9 1125.3,1008.9 1129.2,1009.5 1133.1,1009.9 1137.0,1009.8 1140.9,1009.4 1144.7,1008.7 1148.5,1007.6 1152.2,1006.2 1155.7,1004.4 1159.1,1002.4 1162.3,1000.0 1165.3,997.4 1168.0,994.4 1170.4,991.3 1172.6,987.9 1174.5,984.3 1176.0,980.6 1177.2,976.8 1178.0,972.8 1178.5,968.8 1178.6,964.7 1178.4,960.7 1177.8,956.6 1176.8,952.7 1175.5,948.8 1173.8,945.0 1171.8,941.5 1169.5,938.1 1166.8,934.9 1163.9,931.9 1160.8,929.3 1157.3,926.9 1153.7,924.8 1149.9,923.1 1146.0,921.7 1141.9,920.6 1137.8,920.0 1133.6,919.7 1129.4,919.8 1125.2,920.2 1121.0,921.1 1116.9,922.3 1113.0,923.9 1109.2,925.8 1105.6,928.1 1102.2,930.7 1099.0,933.6 1096.1,936.7 1093.5,940.2 1091.3,943.8 1089.3,947.7 1087.7,951.7 1086.5,955.9 1085.6,960.1 1085.1,964.4 1085.1,968.8 1085.4,973.2 1086.1,977.5 1087.2,981.7 1088.6,985.9 1090.5,989.9 1092.7,993.7 1095.2,997.3 1098.1,1000.7 1101.2,1003.8 1104.7,1006.6 1108.3,1009.1 1112.2,1011.3 1116.3,1013.1 1120.5,1014.6 1124.9,1015.6 1129.3,1016.3 1133.8,1016.5 1138.3,1016.4 1142.8,1015.8 1147.2,1014.9 1151.6,1013.5 1155.8,1011.8 1159.8,1009.7 1163.6,1007.2 1167.2,1004.4 1170.6,1001.3 1173.6,997.9 1176.3,994.2 1178.7,990.3 1180.8,986.2 1182.4,981.9 1183.7,977.4 1184.5,972.9 1185.0,968.3 1185.0,963.6 1184.7,959.0 1183.9,954.4 1182.6,949.9 1181.0,945.5 1179.0,941.3 1176.6,937.2 1173.9,933.4 1170.8,929.9 1167.4,926.6 1163.8,923.6 1159.8,921.0 1155.7,918.8 1151.3,916.9 1146.8,915.4 1142.2,914.3 1137.5,913.7 1132.7,913.4 1127.9,913.6 1123.2,914.3 1118.5,915.3 1113.9,916.8 1109.5,918.7 1105.3,921.0 1101.2,923.6 1097.5,926.6 1094.0,930.0 1090.8,933.6 1087.9,937.6 1085.4,941.7 1083.3,946.1 1081.6,950.7 1080.3,955.4 1079.5,960.2 1079.0,965.1 1079.1,970.0 1079.5,974.9 1080.4,979.7 1081.7,984.5 1083.5,989.1 1085.6,993.5 1088.2,997.8 1091.1,1001.8 1094.4,1005.5 1098.0,1008.9 1101.9,1012.0 1106.1,1014.7 1110.5,1017.1 1115.1,1019.0 1119.9,1020.5 1124.8,1021.6 1129.8,1022.2 1134.8,1022.4 1139.8,1022.1 1144.8,1021.4 1149.7,1020.3 1154.5,1018.7 1159.2,1016.6 1163.6,1014.2 1167.8,1011.3 1171.8,1008.1 1175.4,1004.6 1178.7,1000.7 1181.7,996.5 1184.3,992.1 1186.4,987.5 1188.2,982.7 1189.5,977.7 1190.4,972.6 1190.8,967.5 1190.7,962.3 1190.2,957.2 1189.2,952.1 1187.7,947.2 1185.8,942.3 1183.5,937.7 1180.8,933.3 1177.7,929.1 1174.2,925.2 1170.4,921.7 1166.2,918.5 1161.8,915.7 1157.2,913.3 1152.3,911.3 1147.3,909.7 1142.1,908.6 1136.9,908.0 1131.6,907.9 1126.4,908.2 1121.1,909.0 1116.0,910.3 1111.0,912.0 1106.1,914.2 1101.5,916.8 1097.1,919.8 1093.0,923.2 1089.2,927.0 1085.8,931.1 1082.8,935.5 1080.1,940.1 1077.9,945.0 1076.1,950.1 1074.8,955.3 1073.9,960.6 1073.6,966.0 1073.7,971.4 1074.3,976.7 1075.4,982.0 1077.0,987.2 1079.0,992.2 1081.4,997.1 1084.3,1001.7 1087.6,1006.0 1091.3,1010.0 1095.4,1013.7 1099.7,1017.0 1104.4,1019.9 1109.2,1022.3 1114.3,1024.4 1119.6,1025.9 1125.0,1027.0 1130.5,1027.6 1136.0,1027.7 1141.5,1027.3 1146.9,1026.4 1152.3,1025.0 1157.5,1023.2 1162.5,1020.9 1167.3,1018.1 1171.9,1014.9 1176.1,1011.3 1180.0,1007.3 1183.6,1003.0 1186.7,998.4 1189.4,993.5 1191.7,988.4 1193.5,983.1 1194.8,977.7 1195.6,972.1 1196.0,966.5 1195.8,960.9 1195.1,955.3 1193.9,949.8 1192.2,944.4 1190.1,939.2 1187.5,934.2 1184.4,929.4 1180.9,925.0 1177.0,920.8 1172.8,917.0 1168.2,913.6 1163.4,910.7 1158.3,908.1 1152.9,906.1 1147.4,904.5 1141.8,903.4 1136.1,902.9 1130.4,902.8 1124.7,903.3 1119.0,904.3 1113.5,905.8 1108.1,907.8 1102.8,910.2 1097.9,913.1 1093.2,916.5 1088.8,920.3 1084.8,924.4 1081.1,928.9 1077.9,933.8 1075.1,938.9 1072.8,944.2 1071.0,949.7 1069.7,955.4 1068.9,961.2 1068.6,967.0 1068.8,972.9 1069.6,978.7 1070.9,984.4 1072.7,989.9 1075.0,995.4 1077.7,1000.5 1081.0,1005.4 1084.6,1010.1 1088.7,1014.3 1093.1,1018.2 1097.9,1021.7 1103.0,1024.7 1108.3,1027.3 1113.9,1029.4 1119.6,1031.0 1125.4,1032.0 1131.3,1032.5 1137.3,1032.5 1143.2,1032.0 1149.1,1030.9 1154.8,1029.3 1160.4,1027.2 1165.8,1024.6 1170.9,1021.5 1175.8,1018.0 1180.3,1014.0 1184.4,1009.7 1188.1,1005.0 1191.4,999.9 1194.3,994.6 1196.6,989.1 1198.4,983.3 1199.8,977.4 1200.5,971.4 1200.8,965.4 1200.5,959.4 1199.6,953.3 1198.2,947.4 1196.3,941.7 1193.9,936.1 1191.0,930.8 1187.6,925.7 1183.7,921.0 1179.5,916.6 1174.9,912.6 1169.9,909.0 1164.6,905.9 1159.1,903.3 1153.3,901.2 1147.4,899.7 1141.3,898.6 1135.2,898.1 1129.0,898.2 1122.9,898.8 1122.3,898.9 1122.7,901.4 1123.3,901.3 1129.2,900.7 1135.1,900.7 1141.0,901.1 1146.8,902.1 1152.6,903.7 1158.1,905.7 1163.4,908.2 1168.5,911.2 1173.3,914.6 1177.8,918.5 1181.8,922.7 1185.5,927.2 1188.8,932.1 1191.6,937.3 1193.9,942.6 1195.8,948.2 1197.1,953.9 1197.9,959.6 1198.2,965.4 1198.0,971.3 1197.2,977.0 1195.9,982.7 1194.2,988.2 1191.9,993.5 1189.2,998.6 1186.0,1003.5 1182.4,1008.0 1178.4,1012.2 1174.1,1016.0 1169.4,1019.4 1164.5,1022.3 1159.3,1024.8 1154.0,1026.8 1148.5,1028.4 1142.8,1029.4 1137.1,1029.9 1131.4,1029.9 1125.7,1029.4 1120.1,1028.4 1114.6,1026.9 1109.3,1024.9 1104.2,1022.4 1099.3,1019.5 1094.8,1016.1 1090.5,1012.4 1086.6,1008.3 1083.1,1003.9 1080.0,999.1 1077.4,994.2 1075.2,989.0 1073.4,983.6 1072.2,978.2 1071.5,972.6 1071.3,967.0 1071.5,961.4 1072.3,955.9 1073.6,950.4 1075.3,945.1 1077.6,940.0 1080.2,935.1 1083.3,930.5 1086.8,926.2 1090.7,922.2 1094.9,918.6 1099.4,915.4 1104.1,912.6 1109.1,910.2 1114.3,908.4 1119.6,906.9 1125.1,906.0 1130.5,905.6 1136.0,905.6 1141.5,906.2 1146.8,907.2 1152.1,908.7 1157.2,910.7 1162.1,913.1 1166.7,915.9 1171.1,919.2 1175.1,922.8 1178.8,926.8 1182.2,931.1 1185.1,935.6 1187.6,940.4 1189.6,945.4 1191.2,950.5 1192.4,955.8 1193.0,961.2 1193.2,966.5 1192.9,971.9 1192.1,977.2 1190.8,982.4 1189.1,987.4 1186.9,992.3 1184.3,997.0 1181.3,1001.4 1177.9,1005.5 1174.2,1009.3 1170.1,1012.7 1165.8,1015.7 1161.2,1018.4 1156.4,1020.6 1151.4,1022.3 1146.3,1023.6 1141.1,1024.5 1135.9,1024.9 1130.6,1024.8 1125.4,1024.2 1120.3,1023.1 1115.2,1021.7 1110.4,1019.7 1105.7,1017.4 1101.3,1014.6 1097.2,1011.4 1093.3,1007.9 1089.8,1004.1 1086.7,1000.0 1083.9,995.6 1081.6,991.0 1079.7,986.2 1078.2,981.3 1077.2,976.2 1076.6,971.1 1076.5,966.0 1076.8,960.9 1077.7,955.8 1078.9,950.9 1080.6,946.1 1082.7,941.4 1085.3,937.0 1088.2,932.8 1091.4,928.9 1095.0,925.4 1098.9,922.1 1103.1,919.3 1107.5,916.8 1112.1,914.8 1116.9,913.1 1121.8,911.9 1126.7,911.2 1131.7,910.9 1136.7,911.0 1141.7,911.6 1146.6,912.6 1151.3,914.1 1155.9,916.0 1160.3,918.3 1164.5,921.0 1168.4,924.0 1172.1,927.4 1175.4,931.0 1178.3,935.0 1180.9,939.2 1183.1,943.6 1184.9,948.2 1186.2,952.9 1187.2,957.7 1187.6,962.6 1187.7,967.4 1187.3,972.3 1186.5,977.1 1185.2,981.8 1183.6,986.3 1181.5,990.7 1179.1,994.9 1176.3,998.8 1173.1,1002.5 1169.7,1005.9 1166.0,1008.9 1162.0,1011.6 1157.8,1013.9 1153.4,1015.8 1148.8,1017.3 1144.2,1018.4 1139.5,1019.0 1134.7,1019.3 1130.0,1019.1 1125.3,1018.5 1120.7,1017.4 1116.2,1016.0 1111.8,1014.2 1107.7,1012.0 1103.7,1009.4 1100.1,1006.5 1096.7,1003.2 1093.6,999.7 1090.8,996.0 1088.4,992.0 1086.4,987.8 1084.8,983.4 1083.5,979.0 1082.7,974.4 1082.3,969.8 1082.3,965.2 1082.7,960.6 1083.5,956.1 1084.7,951.6 1086.3,947.4 1088.3,943.2 1090.7,939.3 1093.4,935.6 1096.4,932.2 1099.7,929.1 1103.2,926.3 1107.0,923.8 1111.0,921.6 1115.1,919.9 1119.4,918.5 1123.8,917.5 1128.3,916.9 1132.7,916.8 1137.2,917.0 1141.6,917.6 1146.0,918.6 1150.2,920.0 1154.3,921.8 1158.2,923.9 1161.8,926.4 1165.3,929.2 1168.4,932.2 1171.3,935.6 1173.9,939.1 1176.1,942.9 1177.9,946.9 1179.4,951.0 1180.5,955.2 1181.3,959.5 1181.6,963.8 1181.6,968.1 1181.1,972.4 1180.3,976.7 1179.1,980.8 1177.6,984.8 1175.7,988.7 1173.4,992.3 1170.9,995.8 1168.0,998.9 1164.9,1001.8 1161.5,1004.4 1158.0,1006.7 1154.2,1008.7 1150.3,1010.3 1146.3,1011.5 1142.2,1012.4 1138.0,1012.9 1133.8,1013.0 1129.6,1012.8 1125.5,1012.1 1121.5,1011.1 1117.5,1009.8 1113.8,1008.1 1110.1,1006.1 1106.7,1003.7 1103.6,1001.1 1100.7,998.2 1098.0,995.0 1095.7,991.7 1093.7,988.1 1092.0,984.4 1090.6,980.6 1089.6,976.7 1089.0,972.7 1088.7,968.6 1088.8,964.6 1089.2,960.6 1090.0,956.7 1091.2,952.8 1092.7,949.1 1094.5,945.6 1096.6,942.2 1099.0,939.1 1101.7,936.1 1104.6,933.5 1107.8,931.1 1111.1,929.0 1114.6,927.3 1118.3,925.8 1122.0,924.7 1125.8,924.0 1129.7,923.5 1133.6,923.5 1137.4,923.8 1141.2,924.4 1145.0,925.4 1148.6,926.6 1152.1,928.3 1155.4,930.2 1158.5,932.4 1161.4,934.8 1164.0,937.5 1166.4,940.5 1168.5,943.6 1170.4,946.9 1171.9,950.3 1173.1,953.9 1174.0,957.5 1174.5,961.2 1174.7,964.9 1174.6,968.6 1174.1,972.3 1173.3,975.9 1172.2,979.4 1170.8,982.8 1169.1,986.0 1167.1,989.0 1164.9,991.9 1162.4,994.5 1159.7,996.9 1156.7,999.1 1153.7,1000.9 1150.4,1002.5 1147.1,1003.8 1143.7,1004.7 1140.2,1005.4 1136.6,1005.7 1133.1,1005.7 1129.6,1005.4 1126.1,1004.8 1122.7,1003.9 1119.5,1002.7 1116.3,1001.1 1113.3,999.4 1110.5,997.3 1107.9,995.0 1105.6,992.6 1103.4,989.9 1101.6,987.0 1099.9,984.0 1098.6,980.9 1097.6,977.6 1096.8,974.3 1096.4,971.0 1096.3,967.6 1096.4,964.3 1096.9,961.0 1097.7,957.8 1098.7,954.6 1100.0,951.6 1101.6,948.7 1103.4,946.0 1105.5,943.4 1107.8,941.1 1110.2,939.0 1112.9,937.1 1115.7,935.5 1118.6,934.1 1121.6,933.0 1124.7,932.2 1127.8,931.7 1131.0,931.4 1134.1,931.5 1137.3,931.8 1140.4,932.4 1143.4,933.3 1146.3,934.4 1149.0,935.8 1151.7,937.4 1154.1,939.3 1156.4,941.4 1158.5,943.6 1160.3,946.0 1161.9,948.6 1163.3,951.3 1164.4,954.1 1165.3,956.9 1165.9,959.9 1166.2,962.8 1166.3,965.8 1166.1,968.7 1165.6,971.6 1164.9,974.4 1163.9,977.2 1162.7,979.8 1161.3,982.3 1159.6,984.7 1157.8,986.9 1155.8,988.9 1153.6,990.7 1151.2,992.3 1148.8,993.6 1146.2,994.8 1143.6,995.6 1140.9,996.3 1138.2,996.7 1135.4,996.8 1132.7,996.7 1130.0,996.4 1127.3,995.8 1124.8,995.0 1122.3,994.0 1120.0,992.7 1117.7,991.3 1115.7,989.6 1113.8,987.8 1112.0,985.9 1110.5,983.8 1109.2,981.5 1108.1,979.2 1107.2,976.8 1106.5,974.4 1106.1,971.9 1105.8,969.4 1105.9,966.9 1106.1,964.4 1106.6,962.0 1107.2,959.6 1108.1,957.3 1109.2,955.2 1110.4,953.1 1111.9,951.2 1113.5,949.4 1115.2,947.8 1117.1,946.4 1119.0,945.1 1121.1,944.1 1123.2,943.2 1125.4,942.5 1127.7,942.1 1129.9,941.8 1132.1,941.8 1134.4,941.9 1136.5,942.3 1138.7,942.9 1140.7,943.6 1142.7,944.5 1144.5,945.6 1146.3,946.8 1147.9,948.2 1149.3,949.7 1150.6,951.3 1151.8,953.0 1152.7,954.8 1153.5,956.7 1154.1,958.6 1154.6,960.5 1154.8,962.5 1154.9,964.5 1154.8,966.4 1154.5,968.3 1154.0,970.1 1153.4,971.9 1152.6,973.6 1151.7,975.2 1150.7,976.7 1149.5,978.0 1148.2,979.3 1146.9,980.4 1145.4,981.4 1143.9,982.2 1142.3,982.8 1140.7,983.3 1139.1,983.7 1137.5,983.9 1135.9,983.9 1134.3,983.8 1132.8,983.6 1131.3,983.2 1129.8,982.6 1128.5,982.0 1127.2,981.2 1126.0,980.3 1125.0,979.4 1124.0,978.3 1123.2,977.2 1122.5,976.1 1122.0,974.9 1121.5,973.6 1121.2,972.4 1121.1,971.1 1121.0,969.9 1121.1,968.7 1121.3,967.6 1121.7,966.5 1122.1,965.4 1122.6,964.5 1123.2,963.6 1123.9,962.9 1124.7,962.2 1125.5,961.7 1126.4,961.3 1127.3,961.0 1128.2,960.9 1129.1,960.9 1129.9,961.1 1130.8,961.4 1131.6,961.9 1132.3,962.7 1132.9,964.0Z" fill="url(#iL2_1)"/>
<path d="M1133.5,966.5 1135.2,968.9 1136.2,969.7 1137.2,970.1 1138.1,970.3 1139.0,970.3 1139.9,970.1 1140.7,969.7 1141.5,969.2 1142.2,968.6 1142.8,967.9 1143.4,967.1 1143.8,966.2 1144.2,965.2 1144.4,964.1 1144.5,963.1 1144.5,961.9 1144.4,960.8 1144.1,959.6 1143.8,958.5 1143.2,957.4 1142.6,956.3 1141.8,955.3 1141.0,954.3 1140.0,953.4 1138.9,952.6 1137.7,951.9 1136.4,951.3 1135.0,950.8 1133.6,950.4 1132.2,950.2 1130.7,950.1 1129.1,950.2 1127.6,950.4 1126.1,950.8 1124.5,951.3 1123.1,951.9 1121.6,952.8 1120.3,953.7 1119.0,954.8 1117.8,956.0 1116.7,957.4 1115.7,958.8 1114.9,960.4 1114.2,962.0 1113.7,963.7 1113.3,965.5 1113.1,967.3 1113.0,969.2 1113.1,971.1 1113.4,973.0 1113.9,974.8 1114.5,976.7 1115.3,978.4 1116.3,980.1 1117.5,981.8 1118.8,983.3 1120.2,984.7 1121.8,986.0 1123.5,987.2 1125.4,988.1 1127.3,989.0 1129.3,989.6 1131.4,990.1 1133.5,990.4 1135.7,990.5 1137.9,990.4 1140.0,990.0 1142.2,989.5 1144.3,988.8 1146.3,987.9 1148.3,986.8 1150.2,985.5 1152.0,984.1 1153.6,982.5 1155.1,980.7 1156.5,978.8 1157.6,976.7 1158.6,974.6 1159.4,972.3 1160.0,970.0 1160.3,967.6 1160.5,965.2 1160.4,962.7 1160.1,960.3 1159.6,957.9 1158.9,955.5 1157.9,953.2 1156.8,950.9 1155.4,948.8 1153.8,946.8 1152.1,944.9 1150.2,943.2 1148.1,941.7 1145.9,940.3 1143.5,939.2 1141.1,938.2 1138.5,937.5 1135.9,937.0 1133.2,936.8 1130.6,936.8 1127.9,937.0 1125.2,937.5 1122.6,938.2 1120.0,939.2 1117.5,940.4 1115.2,941.8 1112.9,943.5 1110.8,945.3 1108.9,947.3 1107.2,949.6 1105.6,951.9 1104.3,954.4 1103.2,957.1 1102.3,959.8 1101.7,962.6 1101.4,965.5 1101.3,968.4 1101.4,971.3 1101.9,974.2 1102.5,977.0 1103.5,979.8 1104.7,982.5 1106.1,985.1 1107.8,987.6 1109.7,989.9 1111.8,992.1 1114.2,994.0 1116.6,995.8 1119.3,997.3 1122.1,998.6 1125.0,999.6 1127.9,1000.3 1131.0,1000.8 1134.1,1001.1 1137.2,1001.0 1140.3,1000.6 1143.4,1000.0 1146.4,999.1 1149.4,997.9 1152.2,996.5 1154.9,994.8 1157.4,992.8 1159.8,990.7 1161.9,988.3 1163.9,985.7 1165.6,982.9 1167.1,980.0 1168.3,977.0 1169.2,973.9 1169.8,970.6 1170.2,967.4 1170.2,964.1 1170.0,960.7 1169.4,957.5 1168.6,954.2 1167.4,951.1 1166.0,948.0 1164.3,945.1 1162.4,942.4 1160.2,939.8 1157.7,937.4 1155.1,935.2 1152.3,933.3 1149.2,931.7 1146.1,930.3 1142.8,929.2 1139.4,928.4 1136.0,927.9 1132.5,927.7 1129.0,927.8 1125.5,928.3 1122.1,929.0 1118.7,930.1 1115.5,931.5 1112.3,933.2 1109.4,935.1 1106.6,937.3 1104.0,939.8 1101.6,942.5 1099.5,945.4 1097.6,948.5 1096.0,951.7 1094.7,955.1 1093.8,958.6 1093.1,962.2 1092.8,965.9 1092.8,969.6 1093.1,973.2 1093.8,976.8 1094.8,980.4 1096.1,983.9 1097.7,987.2 1099.6,990.4 1101.8,993.4 1104.3,996.3 1107.0,998.8 1110.0,1001.2 1113.1,1003.2 1116.5,1005.0 1120.0,1006.5 1123.6,1007.6 1127.3,1008.5 1131.1,1009.0 1135.0,1009.1 1138.8,1008.9 1142.6,1008.4 1146.4,1007.5 1150.0,1006.3 1153.6,1004.7 1157.0,1002.8 1160.2,1000.6 1163.3,998.2 1166.1,995.4 1168.6,992.5 1170.9,989.3 1172.9,985.8 1174.5,982.3 1175.9,978.5 1176.9,974.7 1177.6,970.8 1177.9,966.8 1177.8,962.8 1177.4,958.8 1176.6,954.9 1175.5,951.0 1174.0,947.3 1172.2,943.6 1170.1,940.2 1167.7,936.9 1164.9,933.9 1161.9,931.2 1158.7,928.7 1155.2,926.5 1151.6,924.6 1147.8,923.0 1143.8,921.8 1139.8,921.0 1135.7,920.5 1131.5,920.4 1127.4,920.7 1123.3,921.3 1119.2,922.3 1115.3,923.7 1111.5,925.4 1107.8,927.5 1104.3,929.9 1101.1,932.6 1098.1,935.6 1095.4,938.8 1093.0,942.3 1090.9,946.0 1089.1,949.9 1087.7,953.9 1086.7,958.1 1086.0,962.3 1085.7,966.6 1085.8,970.9 1086.3,975.2 1087.2,979.4 1088.5,983.5 1090.1,987.5 1092.1,991.4 1094.4,995.1 1097.1,998.5 1100.1,1001.8 1103.3,1004.7 1106.8,1007.3 1110.5,1009.6 1114.5,1011.6 1118.6,1013.2 1122.8,1014.5 1127.2,1015.3 1131.6,1015.8 1136.0,1015.8 1140.4,1015.5 1144.8,1014.8 1149.2,1013.6 1153.4,1012.1 1157.4,1010.2 1161.3,1008.0 1165.0,1005.4 1168.4,1002.5 1171.6,999.2 1174.4,995.7 1177.0,992.0 1179.2,988.0 1181.0,983.8 1182.5,979.5 1183.5,975.1 1184.2,970.6 1184.4,966.0 1184.3,961.4 1183.7,956.8 1182.7,952.4 1181.3,948.0 1179.5,943.7 1177.4,939.6 1174.8,935.7 1172.0,932.1 1168.8,928.7 1165.3,925.6 1161.5,922.8 1157.5,920.4 1153.3,918.4 1148.9,916.7 1144.4,915.4 1139.8,914.6 1135.1,914.1 1130.4,914.1 1125.7,914.5 1121.0,915.4 1116.5,916.6 1112.0,918.3 1107.7,920.3 1103.6,922.8 1099.8,925.5 1096.1,928.7 1092.8,932.1 1089.8,935.9 1087.2,939.9 1084.9,944.1 1083.0,948.6 1081.5,953.1 1080.5,957.9 1079.8,962.7 1079.6,967.5 1079.8,972.3 1080.5,977.2 1081.6,981.9 1083.1,986.5 1085.0,991.0 1087.4,995.3 1090.1,999.4 1093.2,1003.2 1096.6,1006.8 1100.3,1010.0 1104.3,1012.9 1108.5,1015.4 1113.0,1017.5 1117.6,1019.2 1122.4,1020.5 1127.3,1021.4 1132.3,1021.8 1137.2,1021.7 1142.2,1021.3 1147.1,1020.3 1151.9,1019.0 1156.6,1017.2 1161.1,1015.0 1165.4,1012.3 1169.4,1009.4 1173.2,1006.0 1176.6,1002.3 1179.8,998.4 1182.5,994.1 1184.9,989.6 1186.8,984.9 1188.3,980.1 1189.4,975.1 1190.0,970.1 1190.2,965.0 1189.9,959.9 1189.2,954.8 1188.0,949.8 1186.3,945.0 1184.2,940.3 1181.7,935.8 1178.8,931.5 1175.6,927.5 1172.0,923.9 1168.0,920.5 1163.8,917.5 1159.3,914.9 1154.6,912.8 1149.7,911.0 1144.7,909.7 1139.5,908.9 1134.3,908.5 1129.1,908.6 1123.9,909.1 1118.7,910.1 1113.7,911.6 1108.8,913.5 1104.1,915.9 1099.7,918.7 1095.4,921.9 1091.5,925.4 1088.0,929.3 1084.7,933.5 1081.9,938.0 1079.5,942.7 1077.5,947.6 1075.9,952.7 1074.9,958.0 1074.3,963.3 1074.1,968.6 1074.5,973.9 1075.3,979.2 1076.6,984.4 1078.4,989.5 1080.6,994.4 1083.3,999.1 1086.4,1003.5 1089.8,1007.6 1093.6,1011.4 1097.8,1014.9 1102.3,1018.0 1107.0,1020.6 1111.9,1022.9 1117.1,1024.7 1122.3,1026.0 1127.7,1026.8 1133.2,1027.2 1138.6,1027.0 1144.1,1026.4 1149.4,1025.3 1154.7,1023.7 1159.7,1021.6 1164.6,1019.1 1169.3,1016.1 1173.6,1012.8 1177.7,1009.0 1181.4,1004.9 1184.7,1000.5 1187.6,995.8 1190.1,990.9 1192.1,985.7 1193.7,980.4 1194.8,974.9 1195.3,969.4 1195.4,963.8 1195.0,958.2 1194.1,952.7 1192.7,947.3 1190.8,942.0 1188.4,937.0 1185.6,932.1 1182.3,927.5 1178.7,923.2 1174.7,919.3 1170.3,915.7 1165.6,912.6 1160.7,909.8 1155.5,907.6 1150.1,905.8 1144.6,904.4 1139.0,903.6 1133.3,903.3 1127.6,903.5 1122.0,904.2 1116.4,905.5 1111.0,907.2 1105.7,909.4 1100.6,912.0 1095.8,915.2 1091.3,918.7 1087.2,922.6 1083.3,926.9 1079.9,931.6 1076.9,936.5 1074.4,941.7 1072.4,947.1 1070.8,952.6 1069.7,958.3 1069.2,964.1 1069.1,969.9 1069.6,975.6 1070.7,981.4 1072.2,987.0 1074.2,992.4 1076.7,997.7 1079.7,1002.7 1083.1,1007.4 1086.9,1011.8 1091.2,1015.9 1095.7,1019.6 1100.6,1022.8 1105.8,1025.6 1111.2,1027.9 1116.8,1029.7 1122.5,1031.0 1128.3,1031.8 1134.2,1032.1 1140.1,1031.8 1146.0,1031.0 1151.8,1029.7 1157.4,1027.9 1162.9,1025.6 1168.1,1022.7 1173.0,1019.4 1177.7,1015.7 1182.0,1011.6 1185.9,1007.1 1189.4,1002.3 1192.4,997.1 1195.0,991.7 1197.1,986.1 1198.7,980.4 1199.7,974.4 1200.2,968.5 1200.2,962.5 1199.6,956.5 1198.5,950.6 1196.9,944.8 1194.7,939.1 1192.1,933.7 1189.0,928.5 1185.4,923.6 1181.4,919.1 1176.9,915.0 1172.2,911.2 1167.1,907.9 1166.5,907.6 1165.7,908.9 1166.3,909.2 1171.3,912.5 1175.9,916.1 1180.2,920.2 1184.2,924.6 1187.7,929.4 1190.7,934.5 1193.3,939.8 1195.4,945.3 1197.0,950.9 1198.1,956.7 1198.6,962.6 1198.6,968.4 1198.1,974.3 1197.1,980.0 1195.6,985.7 1193.5,991.1 1191.0,996.4 1188.0,1001.4 1184.6,1006.1 1180.8,1010.5 1176.6,1014.6 1172.1,1018.2 1167.2,1021.4 1162.1,1024.1 1156.8,1026.4 1151.3,1028.2 1145.7,1029.5 1140.0,1030.2 1134.2,1030.5 1128.5,1030.2 1122.8,1029.5 1117.2,1028.2 1111.7,1026.4 1106.5,1024.1 1101.4,1021.4 1096.7,1018.2 1092.2,1014.7 1088.1,1010.7 1084.4,1006.4 1081.0,1001.8 1078.1,996.9 1075.7,991.8 1073.7,986.5 1072.2,981.0 1071.3,975.4 1070.8,969.8 1070.8,964.1 1071.3,958.5 1072.4,953.0 1073.9,947.6 1075.9,942.3 1078.4,937.3 1081.3,932.5 1084.6,928.0 1088.3,923.8 1092.4,919.9 1096.8,916.5 1101.5,913.5 1106.4,910.9 1111.6,908.7 1116.9,907.0 1122.3,905.9 1127.8,905.2 1133.3,905.0 1138.8,905.3 1144.3,906.1 1149.7,907.4 1154.9,909.1 1159.9,911.4 1164.8,914.0 1169.3,917.1 1173.5,920.6 1177.5,924.4 1181.0,928.6 1184.2,933.0 1186.9,937.8 1189.2,942.7 1191.0,947.8 1192.4,953.1 1193.3,958.5 1193.7,963.9 1193.6,969.3 1193.1,974.7 1192.0,980.0 1190.5,985.2 1188.5,990.2 1186.1,995.0 1183.3,999.6 1180.0,1003.9 1176.4,1007.8 1172.5,1011.5 1168.3,1014.7 1163.7,1017.6 1159.0,1020.0 1154.1,1022.0 1149.0,1023.6 1143.8,1024.7 1138.5,1025.3 1133.2,1025.4 1127.9,1025.1 1122.7,1024.3 1117.5,1023.0 1112.5,1021.3 1107.7,1019.1 1103.2,1016.5 1098.8,1013.5 1094.8,1010.1 1091.1,1006.4 1087.7,1002.4 1084.8,998.1 1082.2,993.6 1080.0,988.8 1078.3,983.9 1077.0,978.8 1076.2,973.7 1075.9,968.5 1076.0,963.4 1076.6,958.2 1077.7,953.2 1079.2,948.2 1081.1,943.4 1083.5,938.9 1086.2,934.5 1089.3,930.4 1092.8,926.7 1096.6,923.2 1100.7,920.2 1105.0,917.5 1109.6,915.2 1114.3,913.3 1119.2,911.9 1124.2,910.9 1129.2,910.4 1134.3,910.3 1139.3,910.7 1144.3,911.5 1149.2,912.8 1153.9,914.5 1158.5,916.6 1162.8,919.1 1166.9,922.0 1170.7,925.2 1174.2,928.8 1177.4,932.7 1180.2,936.8 1182.6,941.1 1184.6,945.7 1186.2,950.4 1187.3,955.2 1188.1,960.1 1188.3,965.0 1188.2,970.0 1187.6,974.8 1186.5,979.6 1185.0,984.3 1183.1,988.9 1180.9,993.2 1178.2,997.3 1175.2,1001.1 1171.9,1004.7 1168.2,1007.9 1164.3,1010.8 1160.2,1013.3 1155.8,1015.4 1151.3,1017.2 1146.6,1018.5 1141.9,1019.4 1137.1,1019.8 1132.3,1019.9 1127.5,1019.5 1122.8,1018.6 1118.2,1017.4 1113.7,1015.7 1109.4,1013.7 1105.3,1011.2 1101.5,1008.5 1097.9,1005.3 1094.6,1001.9 1091.6,998.2 1089.0,994.3 1086.8,990.1 1084.9,985.8 1083.5,981.3 1082.4,976.8 1081.8,972.1 1081.6,967.5 1081.8,962.8 1082.4,958.2 1083.4,953.6 1084.9,949.2 1086.7,945.0 1088.9,940.9 1091.5,937.0 1094.4,933.4 1097.5,930.1 1101.0,927.1 1104.7,924.4 1108.7,922.1 1112.8,920.1 1117.1,918.5 1121.5,917.3 1126.0,916.5 1130.5,916.1 1135.0,916.2 1139.6,916.6 1144.0,917.4 1148.3,918.6 1152.5,920.3 1156.6,922.2 1160.4,924.6 1164.0,927.2 1167.4,930.2 1170.4,933.4 1173.2,936.9 1175.6,940.7 1177.7,944.6 1179.4,948.7 1180.7,952.9 1181.6,957.2 1182.2,961.6 1182.3,966.0 1182.1,970.4 1181.5,974.7 1180.4,979.0 1179.0,983.1 1177.3,987.1 1175.2,990.9 1172.7,994.5 1170.0,997.9 1167.0,1000.9 1163.7,1003.7 1160.1,1006.2 1156.4,1008.4 1152.5,1010.2 1148.5,1011.6 1144.4,1012.7 1140.1,1013.4 1135.9,1013.7 1131.7,1013.6 1127.4,1013.2 1123.3,1012.4 1119.2,1011.2 1115.3,1009.6 1111.6,1007.7 1108.0,1005.5 1104.7,1003.0 1101.6,1000.2 1098.7,997.1 1096.2,993.8 1094.0,990.3 1092.1,986.6 1090.5,982.8 1089.3,978.8 1088.5,974.8 1088.1,970.7 1088.0,966.6 1088.2,962.5 1088.9,958.5 1089.9,954.5 1091.2,950.7 1092.9,947.0 1094.9,943.5 1097.2,940.1 1099.8,937.0 1102.7,934.2 1105.7,931.6 1109.0,929.4 1112.5,927.4 1116.2,925.8 1119.9,924.5 1123.8,923.5 1127.7,922.9 1131.6,922.7 1135.6,922.8 1139.5,923.3 1143.3,924.1 1147.1,925.2 1150.7,926.7 1154.1,928.5 1157.4,930.6 1160.5,933.0 1163.3,935.6 1165.9,938.5 1168.2,941.6 1170.2,944.8 1171.9,948.3 1173.3,951.8 1174.3,955.5 1175.1,959.2 1175.4,963.0 1175.5,966.8 1175.2,970.5 1174.5,974.3 1173.6,977.9 1172.3,981.4 1170.7,984.8 1168.8,988.0 1166.6,991.0 1164.2,993.8 1161.6,996.4 1158.7,998.7 1155.7,1000.8 1152.4,1002.5 1149.1,1004.0 1145.6,1005.1 1142.1,1005.9 1138.5,1006.4 1134.9,1006.6 1131.3,1006.5 1127.7,1006.0 1124.2,1005.2 1120.8,1004.1 1117.5,1002.7 1114.4,1001.0 1111.4,999.1 1108.6,996.9 1106.1,994.4 1103.8,991.8 1101.7,988.9 1099.9,985.9 1098.4,982.8 1097.2,979.5 1096.3,976.2 1095.7,972.8 1095.4,969.4 1095.4,965.9 1095.7,962.5 1096.4,959.2 1097.3,955.9 1098.5,952.7 1100.0,949.7 1101.7,946.8 1103.7,944.1 1106.0,941.6 1108.4,939.3 1111.0,937.3 1113.8,935.5 1116.7,933.9 1119.8,932.7 1122.9,931.7 1126.1,931.0 1129.3,930.6 1132.6,930.5 1135.8,930.7 1139.0,931.1 1142.1,931.9 1145.2,932.9 1148.1,934.2 1150.9,935.8 1153.5,937.6 1155.9,939.6 1158.2,941.8 1160.2,944.2 1162.0,946.8 1163.5,949.5 1164.8,952.3 1165.8,955.2 1166.6,958.2 1167.1,961.2 1167.3,964.3 1167.2,967.3 1166.9,970.3 1166.3,973.3 1165.4,976.1 1164.3,978.9 1162.9,981.6 1161.3,984.1 1159.5,986.4 1157.5,988.6 1155.4,990.6 1153.0,992.3 1150.6,993.9 1148.0,995.2 1145.3,996.2 1142.5,997.0 1139.7,997.6 1136.9,997.9 1134.0,997.9 1131.2,997.7 1128.5,997.2 1125.8,996.5 1123.1,995.5 1120.6,994.4 1118.2,993.0 1116.0,991.4 1113.9,989.6 1112.1,987.6 1110.4,985.5 1108.9,983.3 1107.6,980.9 1106.5,978.5 1105.7,976.0 1105.1,973.4 1104.8,970.8 1104.6,968.2 1104.8,965.6 1105.1,963.0 1105.7,960.5 1106.5,958.1 1107.5,955.8 1108.7,953.5 1110.1,951.5 1111.7,949.5 1113.4,947.7 1115.3,946.1 1117.3,944.7 1119.4,943.5 1121.6,942.5 1123.9,941.6 1126.2,941.0 1128.6,940.6 1130.9,940.5 1133.3,940.5 1135.6,940.8 1137.9,941.2 1140.1,941.9 1142.2,942.8 1144.2,943.8 1146.1,945.0 1147.9,946.4 1149.5,947.9 1151.0,949.5 1152.3,951.3 1153.5,953.1 1154.4,955.1 1155.2,957.1 1155.8,959.1 1156.2,961.2 1156.3,963.3 1156.3,965.4 1156.2,967.4 1155.8,969.4 1155.2,971.4 1154.5,973.2 1153.7,975.0 1152.6,976.7 1151.5,978.3 1150.2,979.7 1148.8,981.0 1147.2,982.2 1145.7,983.2 1144.0,984.0 1142.3,984.7 1140.5,985.2 1138.8,985.5 1137.0,985.7 1135.2,985.7 1133.5,985.6 1131.8,985.2 1130.2,984.8 1128.6,984.2 1127.1,983.4 1125.7,982.6 1124.5,981.6 1123.3,980.5 1122.2,979.3 1121.3,978.1 1120.5,976.8 1119.9,975.4 1119.4,974.0 1119.0,972.6 1118.8,971.2 1118.7,969.8 1118.8,968.4 1119.0,967.1 1119.3,965.8 1119.7,964.6 1120.3,963.4 1120.9,962.3 1121.6,961.4 1122.5,960.5 1123.3,959.7 1124.3,959.1 1125.3,958.5 1126.3,958.1 1127.3,957.8 1128.3,957.7 1129.3,957.7 1130.3,957.8 1131.2,958.0 1132.1,958.3 1132.9,958.8 1133.6,959.4 1134.1,960.0 1134.6,960.8 1134.9,961.8 1134.9,962.8 1134.6,964.2Z" fill="url(#iL2_2)"/>
</g></g>
<rect x="892.3" y="721.7" width="296.0" height="297.0" fill="none" stroke="#000" stroke-width="2"/>
<rect x="1210.3" y="718.8" width="24.3" height="300.4" fill="url(#cbg)" stroke="url(#cbs)" stroke-width="1.5"/>
<path d="M1234.6,739.0h-3M1234.6,770.2h-3M1234.6,801.4h-3M1234.6,832.6h-3M1234.6,863.8h-3M1234.6,895.0h-3M1234.6,926.2h-3M1234.6,957.4h-3M1234.6,988.6h-3" stroke="#555" stroke-width="1.2"/>
<g font-family="'Liberation Sans',Arial,sans-serif" font-size="9.8" fill="#555"><text x="1238.8" y="742.9">18</text><text x="1238.8" y="774.1">16</text><text x="1238.8" y="805.3">14</text><text x="1238.8" y="836.5">12</text><text x="1238.8" y="867.7">10</text><text x="1238.8" y="898.9">8</text><text x="1238.8" y="930.1">6</text><text x="1238.8" y="961.3">4</text><text x="1238.8" y="992.5">2</text></g>
<text x="1236.1" y="713.3" font-family="'Liberation Sans',Arial,sans-serif" font-size="11" fill="#777">×<tspan font-size="12.5" fill="#666">10</tspan><tspan font-size="7.5" dy="-5" fill="#777">-11</tspan></text>
<g font-family="'Liberation Sans',Arial,sans-serif" font-size="13" fill="#4a4a4a"><text x="866.4" y="739.8" text-anchor="end">-9</text><text x="866.4" y="785.3" text-anchor="end">-6</text><text x="866.4" y="830.8" text-anchor="end">-3</text><text x="866.4" y="876.3" text-anchor="end">0</text><text x="866.4" y="921.8" text-anchor="end">3</text><text x="866.4" y="967.3" text-anchor="end">6</text><text x="866.4" y="1012.8" text-anchor="end">9</text><text x="905.9" y="1040.4" text-anchor="middle">-9</text><text x="950.8" y="1040.4" text-anchor="middle">-6</text><text x="995.8" y="1040.4" text-anchor="middle">-3</text><text x="1042.7" y="1040.4" text-anchor="middle">0</text><text x="1087.6" y="1040.4" text-anchor="middle">3</text><text x="1132.6" y="1040.4" text-anchor="middle">6</text><text x="1177.5" y="1040.4" text-anchor="middle">9</text></g>
<text x="893.8" y="711.6" font-family="'Liberation Sans',Arial,sans-serif" font-size="17" fill="#8a8a8a">×<tspan fill="#606060" font-size="14" font-weight="bold" letter-spacing="-1.2" dx="1">10</tspan><tspan font-size="7" dy="-5.5" fill="#999">-6</tspan></text>
<text transform="translate(1054.6,1086.6) scale(1,1.055)" text-anchor="middle" font-family="'Liberation Serif','Times New Roman',serif" font-weight="bold" font-size="42" fill="#1A66B5">1550 nm</text>
<rect x="1310.3" y="722.1" width="297.3" height="296.6" fill="url(#dn3)" stroke="#000" stroke-width="2"/>
<g clip-path="url(#ic3)">
<rect x="1501.6" y="913.2" width="106.5" height="106.0" fill="#0a0a0a"/>
<g filter="url(#sb)">
<circle cx="1555.4" cy="968.0" r="80" fill="url(#iD3)"/>
<path d="M1555.4,968.0 1553.3,970.2 1552.8,971.3 1552.6,972.3 1552.6,973.3 1552.8,974.2 1553.2,975.0 1553.7,975.7 1554.3,976.4 1555.1,976.9 1555.9,977.4 1556.8,977.8 1557.8,978.1 1558.8,978.2 1559.9,978.2 1561.0,978.1 1562.1,977.9 1563.2,977.6 1564.2,977.1 1565.3,976.5 1566.3,975.7 1567.2,974.9 1568.1,973.9 1568.9,972.9 1569.5,971.7 1570.1,970.5 1570.6,969.2 1570.9,967.8 1571.1,966.4 1571.2,964.9 1571.1,963.5 1570.9,962.0 1570.5,960.5 1570.0,959.0 1569.3,957.6 1568.5,956.2 1567.6,954.9 1566.5,953.7 1565.3,952.5 1564.0,951.5 1562.6,950.5 1561.0,949.7 1559.4,949.1 1557.7,948.6 1556.0,948.2 1554.2,948.0 1552.4,948.0 1550.5,948.1 1548.7,948.4 1546.9,948.9 1545.1,949.6 1543.4,950.4 1541.7,951.4 1540.1,952.6 1538.6,953.9 1537.3,955.3 1536.0,956.9 1534.9,958.6 1534.0,960.4 1533.2,962.3 1532.6,964.3 1532.1,966.4 1531.9,968.5 1531.8,970.6 1532.0,972.7 1532.3,974.9 1532.9,977.0 1533.6,979.1 1534.5,981.1 1535.7,983.0 1536.9,984.8 1538.4,986.6 1540.0,988.1 1541.8,989.6 1543.7,990.9 1545.8,992.0 1547.9,992.9 1550.2,993.7 1552.5,994.2 1554.8,994.5 1557.2,994.6 1559.6,994.5 1562.1,994.2 1564.4,993.7 1566.8,992.9 1569.0,991.9 1571.2,990.7 1573.3,989.3 1575.3,987.7 1577.1,986.0 1578.7,984.0 1580.2,982.0 1581.5,979.7 1582.6,977.4 1583.5,974.9 1584.2,972.4 1584.6,969.8 1584.8,967.2 1584.7,964.5 1584.5,961.9 1583.9,959.2 1583.2,956.7 1582.2,954.1 1580.9,951.7 1579.5,949.4 1577.8,947.2 1576.0,945.2 1573.9,943.3 1571.7,941.6 1569.3,940.1 1566.8,938.8 1564.2,937.8 1561.5,937.0 1558.7,936.4 1555.8,936.1 1552.9,936.1 1550.1,936.3 1547.2,936.8 1544.4,937.5 1541.6,938.5 1538.9,939.7 1536.4,941.2 1534.0,942.9 1531.7,944.9 1529.6,947.0 1527.7,949.3 1526.1,951.8 1524.6,954.5 1523.4,957.3 1522.4,960.2 1521.7,963.1 1521.3,966.2 1521.1,969.2 1521.2,972.3 1521.7,975.4 1522.3,978.5 1523.3,981.4 1524.5,984.3 1526.0,987.1 1527.7,989.8 1529.7,992.2 1531.9,994.5 1534.3,996.6 1536.9,998.5 1539.7,1000.2 1542.6,1001.6 1545.6,1002.7 1548.8,1003.6 1552.0,1004.2 1555.2,1004.4 1558.5,1004.4 1561.8,1004.1 1565.1,1003.5 1568.3,1002.6 1571.4,1001.4 1574.4,1000.0 1577.2,998.2 1579.9,996.2 1582.5,994.0 1584.8,991.5 1586.9,988.9 1588.7,986.0 1590.3,983.0 1591.6,979.8 1592.7,976.5 1593.4,973.2 1593.8,969.7 1593.9,966.3 1593.7,962.8 1593.2,959.4 1592.4,956.0 1591.3,952.6 1589.9,949.4 1588.1,946.3 1586.1,943.4 1583.9,940.7 1581.4,938.1 1578.7,935.8 1575.7,933.8 1572.6,932.0 1569.4,930.5 1566.0,929.3 1562.5,928.4 1558.9,927.8 1555.2,927.5 1551.6,927.6 1548.0,928.0 1544.4,928.7 1540.8,929.8 1537.4,931.1 1534.1,932.8 1531.0,934.8 1528.0,937.0 1525.3,939.5 1522.7,942.3 1520.5,945.3 1518.5,948.4 1516.8,951.8 1515.4,955.3 1514.3,958.9 1513.5,962.7 1513.1,966.4 1513.0,970.3 1513.3,974.1 1513.9,977.9 1514.9,981.6 1516.2,985.2 1517.8,988.7 1519.7,992.1 1521.9,995.2 1524.4,998.2 1527.2,1001.0 1530.2,1003.4 1533.5,1005.6 1536.9,1007.6 1540.5,1009.2 1544.2,1010.4 1548.1,1011.4 1552.0,1011.9 1555.9,1012.2 1559.9,1012.0 1563.9,1011.6 1567.8,1010.7 1571.6,1009.5 1575.3,1008.0 1578.9,1006.1 1582.3,1003.9 1585.5,1001.4 1588.4,998.7 1591.1,995.6 1593.6,992.4 1595.7,988.9 1597.5,985.2 1599.0,981.4 1600.1,977.4 1600.8,973.4 1601.2,969.3 1601.3,965.2 1600.9,961.0 1600.2,957.0 1599.1,952.9 1597.7,949.0 1595.9,945.3 1593.8,941.7 1591.3,938.3 1588.6,935.1 1585.5,932.2 1582.2,929.5 1578.7,927.2 1575.0,925.2 1571.1,923.5 1567.1,922.2 1562.9,921.2 1558.7,920.6 1554.4,920.4 1550.1,920.6 1545.9,921.2 1541.7,922.2 1537.6,923.5 1533.6,925.2 1529.8,927.2 1526.2,929.6 1522.8,932.3 1519.7,935.4 1516.8,938.6 1514.2,942.2 1512.0,946.0 1510.1,949.9 1508.6,954.0 1507.4,958.3 1506.6,962.6 1506.3,967.0 1506.3,971.4 1506.7,975.9 1507.5,980.2 1508.7,984.5 1510.3,988.7 1512.3,992.7 1514.6,996.5 1517.3,1000.1 1520.2,1003.5 1523.5,1006.6 1527.1,1009.4 1530.8,1011.8 1534.9,1013.9 1539.0,1015.7 1543.4,1017.0 1547.8,1018.0 1552.3,1018.6 1556.9,1018.7 1561.4,1018.5 1566.0,1017.8 1570.4,1016.7 1574.8,1015.3 1579.0,1013.4 1583.0,1011.2 1586.9,1008.6 1590.4,1005.7 1593.7,1002.4 1596.8,998.9 1599.4,995.1 1601.8,991.1 1603.7,986.8 1605.3,982.4 1606.5,977.9 1607.3,973.3 1607.6,968.6 1607.5,963.9 1607.0,959.2 1606.1,954.6 1604.8,950.1 1603.1,945.7 1600.9,941.4 1598.4,937.4 1595.6,933.6 1592.4,930.1 1588.9,926.8 1585.1,923.9 1581.0,921.3 1576.8,919.2 1572.3,917.4 1567.7,916.0 1563.0,915.0 1558.2,914.4 1553.4,914.3 1548.6,914.6 1543.8,915.4 1539.1,916.6 1534.5,918.2 1530.0,920.2 1525.8,922.6 1521.8,925.4 1518.0,928.5 1514.6,932.0 1511.4,935.7 1508.6,939.8 1506.2,944.0 1504.2,948.5 1502.6,953.2 1501.4,958.0 1500.6,962.9 1500.3,967.8 1500.4,972.8 1501.0,977.7 1502.0,982.6 1503.4,987.4 1505.3,992.0 1507.6,996.4 1510.3,1000.7 1513.4,1004.6 1516.8,1008.3 1520.5,1011.7 1524.5,1014.7 1528.8,1017.4 1533.3,1019.6 1538.0,1021.5 1542.9,1022.9 1547.9,1023.9 1552.9,1024.4 1558.0,1024.5 1563.1,1024.1 1568.1,1023.3 1573.1,1022.0 1577.9,1020.3 1582.5,1018.1 1586.9,1015.5 1591.1,1012.5 1595.0,1009.2 1598.6,1005.5 1601.9,1001.5 1604.8,997.3 1607.3,992.7 1609.4,988.0 1611.0,983.1 1612.2,978.0 1613.0,972.9 1613.3,967.7 1613.1,962.5 1612.4,957.3 1611.3,952.2 1609.8,947.2 1607.7,942.4 1605.3,937.7 1602.4,933.3 1599.2,929.2 1595.6,925.4 1591.6,921.9 1587.4,918.7 1582.8,916.0 1578.1,913.7 1573.1,911.8 1568.0,910.3 1562.8,909.4 1557.5,908.9 1552.2,908.8 1546.9,909.3 1541.6,910.2 1536.4,911.6 1531.4,913.5 1526.6,915.8 1522.0,918.5 1517.6,921.7 1513.5,925.2 1509.8,929.1 1506.4,933.3 1503.5,937.8 1500.9,942.6 1498.8,947.6 1497.1,952.7 1495.9,958.0 1495.1,963.4 1494.9,968.8 1495.1,974.3 1495.9,979.7 1497.1,985.0 1498.8,990.2 1500.9,995.2 1503.5,1000.0 1506.6,1004.6 1510.0,1008.9 1513.8,1012.9 1518.0,1016.5 1522.5,1019.7 1527.2,1022.5 1532.2,1024.9 1537.4,1026.8 1542.7,1028.3 1548.2,1029.3 1553.7,1029.7 1559.3,1029.7 1564.8,1029.2 1570.3,1028.2 1575.7,1026.6 1580.9,1024.6 1585.9,1022.2 1590.7,1019.3 1595.2,1016.0 1599.4,1012.2 1603.3,1008.1 1606.7,1003.7 1609.8,999.0 1612.4,994.0 1614.6,988.8 1616.3,983.4 1617.5,977.9 1618.2,972.3 1618.4,966.6 1618.1,960.9 1617.3,955.3 1616.0,949.8 1614.2,944.4 1611.9,939.2 1609.1,934.2 1605.9,929.4 1602.3,925.0 1598.3,920.9 1593.9,917.2 1589.2,913.9 1584.3,911.0 1579.0,908.6 1573.6,906.6 1568.1,905.2 1562.4,904.2 1556.6,903.8 1550.8,903.9 1545.1,904.5 1539.4,905.6 1533.8,907.2 1528.4,909.3 1523.2,911.9 1518.3,915.0 1513.6,918.5 1509.3,922.4 1505.3,926.7 1501.7,931.3 1498.6,936.3 1495.9,941.5 1493.7,946.9 1492.0,952.5 1490.8,958.3 1490.1,964.1 1490.0,970.0 1490.3,975.9 1491.2,981.7 1492.7,987.4 1494.6,993.0 1497.0,998.4 1500.0,1003.6 1503.3,1008.5 1507.1,1013.0 1511.3,1017.2 1515.9,1021.0 1520.8,1024.4 1526.0,1027.4 1531.4,1029.8 1537.0,1031.8 1542.8,1033.3 1548.7,1034.2 1554.7,1034.6 1560.7,1034.5 1566.7,1033.8 1572.6,1032.6 1578.3,1030.8 1583.9,1028.6 1589.3,1025.8 1594.4,1022.6 1599.2,1018.9 1603.6,1014.8 1607.7,1010.4 1611.3,1005.5 1614.5,1000.4 1617.3,995.0 1619.5,989.3 1621.2,983.5 1622.4,977.5 1623.1,971.5 1623.2,965.4 1622.7,959.3 1621.7,953.3 1620.2,947.3 1618.1,941.6 1615.6,936.0 1612.5,930.7 1609.0,925.7 1605.0,921.0 1600.6,916.7 1595.8,912.8 1590.7,909.3 1585.4,906.3 1579.7,903.8 1573.9,901.8 1567.8,900.3 1561.7,899.4 1555.5,899.1 1549.3,899.3 1543.2,900.0 1537.1,901.4 1531.2,903.2 1525.4,905.6 1519.9,908.5 1514.6,911.9 1509.7,915.7 1505.2,920.0 1502.6,922.7 1505.3,925.0 1507.7,922.4 1512.0,918.4 1516.7,914.7 1521.7,911.5 1526.9,908.8 1532.4,906.5 1538.0,904.8 1543.8,903.5 1549.6,902.8 1555.5,902.7 1561.4,903.0 1567.2,903.9 1572.9,905.2 1578.4,907.1 1583.8,909.5 1588.9,912.4 1593.7,915.7 1598.2,919.4 1602.4,923.5 1606.1,927.9 1609.5,932.7 1612.4,937.7 1614.8,943.0 1616.7,948.4 1618.2,954.0 1619.1,959.7 1619.5,965.5 1619.4,971.3 1618.8,977.0 1617.7,982.7 1616.0,988.2 1613.9,993.5 1611.3,998.6 1608.3,1003.5 1604.8,1008.1 1601.0,1012.3 1596.8,1016.2 1592.2,1019.6 1587.4,1022.7 1582.3,1025.3 1577.0,1027.4 1571.6,1029.0 1566.0,1030.2 1560.4,1030.8 1554.7,1030.9 1549.1,1030.5 1543.5,1029.6 1538.0,1028.3 1532.7,1026.4 1527.6,1024.0 1522.7,1021.3 1518.1,1018.1 1513.8,1014.4 1509.9,1010.5 1506.3,1006.2 1503.1,1001.6 1500.4,996.7 1498.1,991.6 1496.3,986.3 1494.9,980.9 1494.1,975.4 1493.7,969.9 1493.9,964.3 1494.5,958.8 1495.7,953.4 1497.3,948.1 1499.4,943.0 1501.9,938.1 1504.9,933.5 1508.2,929.1 1512.0,925.1 1516.1,921.4 1520.4,918.1 1525.1,915.2 1530.0,912.8 1535.1,910.8 1540.3,909.3 1545.7,908.2 1551.1,907.7 1556.5,907.6 1561.9,908.0 1567.3,908.9 1572.5,910.3 1577.6,912.2 1582.5,914.5 1587.2,917.2 1591.6,920.3 1595.7,923.8 1599.4,927.6 1602.8,931.8 1605.8,936.3 1608.4,940.9 1610.5,945.8 1612.2,950.9 1613.5,956.1 1614.2,961.4 1614.5,966.7 1614.3,972.0 1613.6,977.3 1612.5,982.5 1610.9,987.5 1608.8,992.4 1606.4,997.0 1603.5,1001.5 1600.2,1005.6 1596.6,1009.4 1592.7,1012.9 1588.4,1016.0 1584.0,1018.7 1579.3,1021.0 1574.4,1022.9 1569.3,1024.3 1564.2,1025.2 1559.0,1025.7 1553.8,1025.7 1548.7,1025.3 1543.6,1024.4 1538.6,1023.0 1533.7,1021.2 1529.1,1019.0 1524.6,1016.3 1520.5,1013.3 1516.6,1009.9 1513.0,1006.2 1509.8,1002.2 1507.0,997.9 1504.6,993.4 1502.6,988.7 1501.0,983.9 1499.9,978.9 1499.2,973.8 1499.0,968.8 1499.2,963.7 1499.9,958.7 1501.1,953.8 1502.6,949.0 1504.6,944.3 1507.0,939.9 1509.8,935.7 1513.0,931.8 1516.4,928.2 1520.2,924.9 1524.3,922.0 1528.6,919.4 1533.1,917.3 1537.8,915.6 1542.6,914.3 1547.5,913.4 1552.4,913.0 1557.4,913.1 1562.3,913.5 1567.1,914.4 1571.9,915.8 1576.5,917.6 1580.9,919.7 1585.1,922.3 1589.0,925.2 1592.7,928.5 1596.0,932.0 1599.0,935.9 1601.6,940.0 1603.9,944.3 1605.8,948.7 1607.2,953.4 1608.2,958.1 1608.8,962.9 1609.0,967.7 1608.7,972.5 1608.0,977.3 1606.9,982.0 1605.3,986.5 1603.4,990.9 1601.1,995.1 1598.4,999.0 1595.4,1002.7 1592.0,1006.1 1588.4,1009.1 1584.5,1011.9 1580.4,1014.2 1576.1,1016.2 1571.7,1017.8 1567.1,1019.0 1562.5,1019.8 1557.8,1020.1 1553.1,1020.0 1548.5,1019.5 1543.9,1018.6 1539.4,1017.3 1535.1,1015.6 1530.9,1013.5 1527.0,1011.0 1523.3,1008.2 1519.9,1005.1 1516.7,1001.7 1513.9,998.0 1511.5,994.1 1509.4,990.1 1507.7,985.8 1506.3,981.4 1505.4,976.9 1504.9,972.4 1504.8,967.8 1505.1,963.3 1505.8,958.8 1506.9,954.4 1508.4,950.2 1510.3,946.0 1512.5,942.1 1515.1,938.4 1518.0,935.0 1521.2,931.8 1524.6,929.0 1528.3,926.4 1532.2,924.2 1536.3,922.4 1540.5,921.0 1544.8,919.9 1549.1,919.2 1553.6,919.0 1558.0,919.1 1562.3,919.6 1566.6,920.5 1570.8,921.8 1574.9,923.5 1578.8,925.5 1582.4,927.8 1585.9,930.5 1589.1,933.4 1592.0,936.7 1594.6,940.1 1596.8,943.8 1598.8,947.7 1600.3,951.7 1601.5,955.8 1602.3,960.0 1602.8,964.3 1602.8,968.5 1602.5,972.8 1601.8,977.0 1600.7,981.1 1599.2,985.1 1597.4,988.9 1595.3,992.5 1592.9,996.0 1590.1,999.2 1587.1,1002.1 1583.9,1004.7 1580.4,1007.1 1576.7,1009.1 1572.9,1010.7 1569.0,1012.0 1564.9,1013.0 1560.9,1013.6 1556.7,1013.8 1552.6,1013.6 1548.6,1013.1 1544.6,1012.2 1540.7,1010.9 1536.9,1009.3 1533.3,1007.4 1529.9,1005.2 1526.7,1002.7 1523.8,999.9 1521.1,996.9 1518.8,993.6 1516.7,990.2 1514.9,986.6 1513.5,982.8 1512.5,979.0 1511.8,975.0 1511.4,971.1 1511.4,967.1 1511.8,963.2 1512.5,959.3 1513.5,955.5 1514.9,951.8 1516.6,948.3 1518.6,945.0 1520.9,941.8 1523.5,938.9 1526.3,936.2 1529.4,933.8 1532.6,931.7 1536.0,929.9 1539.5,928.4 1543.2,927.2 1546.9,926.4 1550.7,925.9 1554.5,925.8 1558.3,926.0 1562.1,926.5 1565.7,927.4 1569.3,928.6 1572.8,930.1 1576.0,931.9 1579.1,934.0 1582.0,936.3 1584.7,938.9 1587.1,941.7 1589.3,944.8 1591.1,947.9 1592.7,951.3 1593.9,954.7 1594.8,958.3 1595.5,961.9 1595.7,965.5 1595.7,969.1 1595.3,972.7 1594.6,976.3 1593.6,979.8 1592.3,983.1 1590.7,986.3 1588.8,989.3 1586.7,992.2 1584.3,994.8 1581.7,997.2 1578.9,999.4 1575.9,1001.3 1572.8,1002.9 1569.5,1004.2 1566.2,1005.2 1562.8,1005.9 1559.3,1006.3 1555.9,1006.4 1552.4,1006.1 1549.0,1005.6 1545.7,1004.8 1542.5,1003.6 1539.4,1002.2 1536.4,1000.5 1533.7,998.6 1531.1,996.4 1528.7,994.1 1526.6,991.5 1524.7,988.7 1523.0,985.8 1521.7,982.8 1520.6,979.7 1519.8,976.5 1519.3,973.2 1519.1,969.9 1519.2,966.7 1519.6,963.4 1520.3,960.3 1521.2,957.2 1522.4,954.2 1523.9,951.3 1525.7,948.7 1527.6,946.1 1529.8,943.8 1532.2,941.7 1534.7,939.8 1537.4,938.2 1540.2,936.8 1543.1,935.7 1546.1,934.8 1549.1,934.3 1552.2,934.0 1555.3,933.9 1558.3,934.2 1561.3,934.7 1564.3,935.5 1567.1,936.6 1569.8,937.9 1572.4,939.4 1574.8,941.1 1577.1,943.1 1579.1,945.2 1581.0,947.6 1582.6,950.0 1584.0,952.6 1585.1,955.3 1586.0,958.0 1586.6,960.9 1587.0,963.7 1587.1,966.6 1587.0,969.4 1586.6,972.2 1586.0,975.0 1585.1,977.7 1583.9,980.2 1582.6,982.7 1581.0,985.0 1579.3,987.1 1577.4,989.1 1575.3,990.9 1573.1,992.5 1570.7,993.8 1568.3,995.0 1565.8,995.9 1563.2,996.6 1560.5,997.0 1557.9,997.2 1555.3,997.1 1552.7,996.9 1550.1,996.3 1547.6,995.6 1545.2,994.6 1543.0,993.5 1540.8,992.1 1538.8,990.6 1536.9,988.9 1535.2,987.0 1533.7,985.0 1532.4,982.9 1531.3,980.7 1530.4,978.5 1529.7,976.1 1529.3,973.7 1529.0,971.3 1529.0,969.0 1529.2,966.6 1529.6,964.3 1530.2,962.0 1531.0,959.8 1532.0,957.7 1533.2,955.8 1534.5,953.9 1536.0,952.2 1537.6,950.6 1539.4,949.3 1541.2,948.0 1543.2,947.0 1545.2,946.2 1547.3,945.5 1549.4,945.0 1551.5,944.8 1553.6,944.7 1555.7,944.8 1557.8,945.1 1559.8,945.6 1561.7,946.3 1563.6,947.2 1565.3,948.1 1566.9,949.3 1568.5,950.6 1569.8,952.0 1571.1,953.5 1572.1,955.1 1573.1,956.7 1573.8,958.5 1574.4,960.2 1574.8,962.0 1575.0,963.9 1575.1,965.7 1575.0,967.5 1574.8,969.2 1574.4,970.9 1573.8,972.5 1573.1,974.1 1572.2,975.6 1571.3,976.9 1570.2,978.2 1569.0,979.3 1567.8,980.3 1566.5,981.2 1565.1,981.9 1563.7,982.5 1562.2,982.9 1560.8,983.2 1559.3,983.4 1557.9,983.4 1556.5,983.3 1555.1,983.0 1553.8,982.6 1552.5,982.1 1551.4,981.5 1550.3,980.8 1549.3,980.0 1548.4,979.1 1547.7,978.1 1547.0,977.1 1546.5,976.1 1546.1,975.1 1545.9,974.0 1545.7,972.9 1545.7,971.9 1545.8,970.9 1546.0,969.9 1546.4,969.0 1546.8,968.2 1547.4,967.4 1548.0,966.8 1548.8,966.3 1549.6,965.9 1550.5,965.8 1551.5,965.8 1552.7,966.1 1554.3,967.0Z" fill="url(#iL3_0)"/>
<path d="M1555.4,968.0 1555.2,971.0 1555.5,972.2 1556.0,973.1 1556.6,973.8 1557.4,974.4 1558.2,974.8 1559.0,975.0 1560.0,975.1 1560.9,975.1 1561.8,974.9 1562.8,974.6 1563.7,974.2 1564.6,973.6 1565.4,973.0 1566.2,972.2 1566.9,971.3 1567.5,970.3 1568.0,969.3 1568.4,968.1 1568.7,967.0 1568.9,965.7 1568.9,964.4 1568.9,963.1 1568.6,961.8 1568.3,960.5 1567.8,959.2 1567.2,957.9 1566.4,956.7 1565.5,955.5 1564.5,954.4 1563.4,953.4 1562.2,952.5 1560.8,951.7 1559.4,951.1 1557.9,950.5 1556.3,950.1 1554.7,949.9 1553.1,949.7 1551.4,949.8 1549.7,950.0 1548.0,950.4 1546.3,950.9 1544.7,951.6 1543.1,952.5 1541.6,953.5 1540.2,954.6 1538.9,955.9 1537.7,957.3 1536.6,958.9 1535.7,960.5 1534.9,962.3 1534.2,964.1 1533.8,966.0 1533.5,967.9 1533.3,969.9 1533.4,971.9 1533.7,973.9 1534.1,975.9 1534.7,977.9 1535.5,979.8 1536.5,981.7 1537.7,983.4 1539.0,985.1 1540.5,986.7 1542.1,988.1 1543.9,989.4 1545.8,990.5 1547.8,991.4 1549.9,992.2 1552.1,992.8 1554.3,993.1 1556.6,993.3 1558.9,993.3 1561.2,993.0 1563.4,992.6 1565.7,991.9 1567.9,991.0 1570.0,990.0 1572.0,988.7 1573.9,987.2 1575.7,985.6 1577.3,983.8 1578.8,981.9 1580.1,979.8 1581.2,977.6 1582.1,975.2 1582.8,972.8 1583.3,970.4 1583.6,967.8 1583.6,965.3 1583.4,962.7 1583.0,960.2 1582.3,957.7 1581.4,955.3 1580.3,952.9 1578.9,950.6 1577.4,948.5 1575.7,946.5 1573.7,944.6 1571.6,943.0 1569.4,941.5 1567.0,940.2 1564.5,939.1 1561.9,938.3 1559.2,937.7 1556.5,937.3 1553.7,937.2 1550.9,937.3 1548.2,937.7 1545.4,938.3 1542.7,939.2 1540.1,940.3 1537.6,941.7 1535.2,943.3 1533.0,945.1 1530.9,947.1 1529.0,949.3 1527.4,951.7 1525.9,954.2 1524.6,956.9 1523.6,959.7 1522.9,962.5 1522.4,965.5 1522.2,968.5 1522.2,971.5 1522.5,974.5 1523.1,977.4 1524.0,980.3 1525.1,983.2 1526.5,985.9 1528.1,988.5 1529.9,991.0 1532.0,993.3 1534.3,995.4 1536.8,997.3 1539.4,998.9 1542.2,1000.4 1545.1,1001.5 1548.2,1002.4 1551.3,1003.1 1554.4,1003.4 1557.6,1003.5 1560.8,1003.3 1564.0,1002.8 1567.2,1002.0 1570.2,1000.9 1573.2,999.5 1576.0,997.9 1578.7,996.0 1581.2,993.9 1583.5,991.6 1585.6,989.0 1587.5,986.3 1589.1,983.4 1590.5,980.3 1591.5,977.1 1592.3,973.9 1592.8,970.5 1593.0,967.2 1592.9,963.8 1592.5,960.4 1591.8,957.1 1590.8,953.8 1589.4,950.6 1587.8,947.6 1586.0,944.7 1583.8,941.9 1581.4,939.4 1578.8,937.1 1576.0,935.0 1573.0,933.2 1569.9,931.6 1566.6,930.4 1563.2,929.4 1559.7,928.7 1556.1,928.4 1552.6,928.4 1549.0,928.7 1545.5,929.3 1542.0,930.3 1538.6,931.5 1535.3,933.1 1532.2,934.9 1529.3,937.1 1526.5,939.5 1524.0,942.1 1521.7,945.0 1519.7,948.0 1517.9,951.3 1516.5,954.7 1515.3,958.2 1514.5,961.8 1514.0,965.5 1513.8,969.3 1514.0,973.0 1514.5,976.7 1515.4,980.4 1516.6,984.0 1518.1,987.5 1519.9,990.8 1522.0,994.0 1524.4,996.9 1527.0,999.7 1529.9,1002.2 1533.1,1004.4 1536.4,1006.4 1539.9,1008.0 1543.5,1009.4 1547.2,1010.4 1551.1,1011.0 1555.0,1011.4 1558.9,1011.3 1562.8,1010.9 1566.6,1010.2 1570.4,1009.1 1574.1,1007.7 1577.6,1005.9 1581.0,1003.9 1584.2,1001.5 1587.2,998.9 1589.9,995.9 1592.3,992.8 1594.5,989.4 1596.4,985.8 1597.9,982.1 1599.1,978.3 1599.9,974.3 1600.4,970.3 1600.5,966.2 1600.3,962.2 1599.7,958.1 1598.7,954.2 1597.4,950.3 1595.7,946.5 1593.7,943.0 1591.4,939.6 1588.7,936.4 1585.8,933.4 1582.7,930.8 1579.2,928.4 1575.6,926.3 1571.8,924.6 1567.9,923.2 1563.8,922.1 1559.7,921.5 1555.5,921.2 1551.3,921.3 1547.1,921.7 1542.9,922.6 1538.8,923.8 1534.9,925.4 1531.1,927.3 1527.5,929.6 1524.1,932.2 1520.9,935.1 1518.0,938.2 1515.4,941.7 1513.2,945.3 1511.2,949.2 1509.6,953.2 1508.4,957.4 1507.5,961.6 1507.0,965.9 1507.0,970.3 1507.3,974.7 1508.0,979.0 1509.1,983.2 1510.5,987.4 1512.4,991.4 1514.6,995.2 1517.1,998.8 1520.0,1002.2 1523.1,1005.3 1526.6,1008.1 1530.2,1010.6 1534.1,1012.8 1538.2,1014.6 1542.4,1016.1 1546.8,1017.1 1551.2,1017.8 1555.7,1018.0 1560.2,1017.9 1564.7,1017.3 1569.1,1016.4 1573.5,1015.0 1577.7,1013.3 1581.7,1011.2 1585.5,1008.7 1589.1,1005.9 1592.5,1002.8 1595.5,999.4 1598.2,995.7 1600.6,991.8 1602.7,987.7 1604.3,983.4 1605.6,978.9 1606.4,974.4 1606.9,969.8 1606.9,965.1 1606.6,960.5 1605.8,955.9 1604.5,951.4 1602.9,947.0 1600.9,942.8 1598.5,938.7 1595.8,934.9 1592.7,931.4 1589.3,928.1 1585.7,925.1 1581.7,922.5 1577.6,920.3 1573.2,918.4 1568.7,916.9 1564.1,915.8 1559.4,915.2 1554.6,914.9 1549.8,915.1 1545.1,915.8 1540.4,916.8 1535.8,918.3 1531.4,920.2 1527.2,922.5 1523.1,925.1 1519.4,928.1 1515.9,931.5 1512.7,935.1 1509.8,939.1 1507.3,943.2 1505.2,947.6 1503.5,952.2 1502.2,956.9 1501.4,961.7 1500.9,966.6 1501.0,971.5 1501.4,976.4 1502.3,981.2 1503.6,986.0 1505.4,990.6 1507.5,995.0 1510.1,999.3 1513.0,1003.3 1516.3,1007.0 1519.9,1010.4 1523.8,1013.5 1528.0,1016.2 1532.4,1018.6 1537.0,1020.5 1541.8,1022.0 1546.7,1023.1 1551.7,1023.7 1556.7,1023.9 1561.7,1023.6 1566.7,1022.9 1571.6,1021.8 1576.4,1020.2 1581.1,1018.1 1585.5,1015.7 1589.7,1012.8 1593.7,1009.6 1597.3,1006.1 1600.6,1002.2 1603.6,998.0 1606.2,993.6 1608.3,989.0 1610.1,984.2 1611.4,979.2 1612.3,974.1 1612.7,969.0 1612.6,963.8 1612.1,958.7 1611.1,953.6 1609.6,948.7 1607.7,943.8 1605.4,939.2 1602.7,934.8 1599.6,930.6 1596.1,926.7 1592.3,923.2 1588.1,920.0 1583.7,917.2 1579.1,914.8 1574.2,912.8 1569.2,911.2 1564.0,910.1 1558.8,909.5 1553.5,909.4 1548.3,909.7 1543.0,910.5 1537.9,911.8 1532.9,913.5 1528.0,915.7 1523.4,918.3 1519.0,921.3 1514.9,924.7 1511.1,928.5 1507.7,932.6 1504.7,937.0 1502.0,941.6 1499.8,946.5 1498.0,951.6 1496.7,956.8 1495.8,962.1 1495.5,967.5 1495.6,972.9 1496.2,978.2 1497.3,983.5 1498.9,988.7 1500.9,993.7 1503.3,998.6 1506.2,1003.2 1509.5,1007.5 1513.2,1011.5 1517.3,1015.2 1521.6,1018.5 1526.3,1021.4 1531.1,1023.8 1536.2,1025.9 1541.5,1027.4 1546.9,1028.5 1552.4,1029.1 1557.9,1029.2 1563.4,1028.8 1568.8,1027.9 1574.2,1026.5 1579.4,1024.7 1584.4,1022.4 1589.2,1019.6 1593.8,1016.4 1598.0,1012.8 1601.9,1008.8 1605.5,1004.5 1608.6,999.9 1611.3,995.0 1613.6,989.9 1615.4,984.6 1616.7,979.2 1617.5,973.6 1617.9,968.0 1617.7,962.4 1617.0,956.8 1615.8,951.3 1614.1,945.9 1612.0,940.7 1609.4,935.7 1606.3,930.9 1602.8,926.5 1598.9,922.3 1594.7,918.5 1590.1,915.1 1585.3,912.2 1580.2,909.6 1574.8,907.6 1569.3,906.0 1563.7,904.9 1558.0,904.4 1552.3,904.3 1546.6,904.8 1540.9,905.8 1535.4,907.3 1530.0,909.3 1524.7,911.7 1519.8,914.6 1515.1,918.0 1510.7,921.8 1506.7,925.9 1503.0,930.4 1499.8,935.3 1497.0,940.4 1494.7,945.7 1492.9,951.2 1491.6,956.9 1490.8,962.7 1490.5,968.5 1490.7,974.4 1491.5,980.2 1492.8,985.9 1494.6,991.4 1496.9,996.9 1499.6,1002.0 1502.9,1006.9 1506.5,1011.6 1510.6,1015.8 1515.0,1019.7 1519.8,1023.2 1524.9,1026.2 1530.2,1028.8 1535.8,1030.9 1541.5,1032.5 1547.3,1033.5 1553.2,1034.0 1559.2,1034.0 1565.1,1033.5 1571.0,1032.4 1576.7,1030.8 1582.3,1028.7 1587.7,1026.1 1592.8,1023.0 1597.7,1019.5 1602.2,1015.5 1606.3,1011.2 1610.0,1006.5 1613.3,1001.4 1616.2,996.1 1618.5,990.6 1620.3,984.8 1621.7,978.9 1622.4,972.9 1622.7,966.9 1622.4,960.9 1621.5,954.8 1620.1,948.9 1618.2,943.2 1615.8,937.6 1612.9,932.3 1609.5,927.2 1605.6,922.5 1601.4,918.1 1596.8,914.1 1591.8,910.5 1586.5,907.4 1581.0,904.8 1575.2,902.7 1569.3,901.2 1563.2,900.1 1557.1,899.6 1550.9,899.7 1544.8,900.3 1544.2,900.4 1544.6,902.9 1545.2,902.8 1551.1,902.2 1557.0,902.2 1562.9,902.6 1568.7,903.6 1574.5,905.2 1580.0,907.2 1585.3,909.7 1590.4,912.7 1595.2,916.1 1599.7,920.0 1603.7,924.2 1607.4,928.7 1610.7,933.6 1613.5,938.8 1615.8,944.1 1617.7,949.7 1619.0,955.4 1619.8,961.1 1620.1,966.9 1619.9,972.8 1619.1,978.5 1617.8,984.2 1616.1,989.7 1613.8,995.0 1611.1,1000.1 1607.9,1005.0 1604.3,1009.5 1600.3,1013.7 1596.0,1017.5 1591.3,1020.9 1586.4,1023.8 1581.2,1026.3 1575.9,1028.3 1570.4,1029.9 1564.7,1030.9 1559.0,1031.4 1553.3,1031.4 1547.6,1030.9 1542.0,1029.9 1536.5,1028.4 1531.2,1026.4 1526.1,1023.9 1521.2,1021.0 1516.7,1017.6 1512.4,1013.9 1508.5,1009.8 1505.0,1005.4 1501.9,1000.6 1499.3,995.7 1497.1,990.5 1495.3,985.1 1494.1,979.7 1493.4,974.1 1493.2,968.5 1493.4,962.9 1494.2,957.4 1495.5,951.9 1497.2,946.6 1499.5,941.5 1502.1,936.6 1505.2,932.0 1508.7,927.7 1512.6,923.7 1516.8,920.1 1521.3,916.9 1526.0,914.1 1531.0,911.7 1536.2,909.9 1541.5,908.4 1547.0,907.5 1552.4,907.1 1557.9,907.1 1563.4,907.7 1568.7,908.7 1574.0,910.2 1579.1,912.2 1584.0,914.6 1588.6,917.4 1593.0,920.7 1597.0,924.3 1600.7,928.3 1604.1,932.6 1607.0,937.1 1609.5,941.9 1611.5,946.9 1613.1,952.0 1614.3,957.3 1614.9,962.7 1615.1,968.0 1614.8,973.4 1614.0,978.7 1612.7,983.9 1611.0,988.9 1608.8,993.8 1606.2,998.5 1603.2,1002.9 1599.8,1007.0 1596.1,1010.8 1592.0,1014.2 1587.7,1017.2 1583.1,1019.9 1578.3,1022.1 1573.3,1023.8 1568.2,1025.1 1563.0,1026.0 1557.8,1026.4 1552.5,1026.3 1547.3,1025.7 1542.2,1024.6 1537.1,1023.2 1532.3,1021.2 1527.6,1018.9 1523.2,1016.1 1519.1,1012.9 1515.2,1009.4 1511.7,1005.6 1508.6,1001.5 1505.8,997.1 1503.5,992.5 1501.6,987.7 1500.1,982.8 1499.1,977.7 1498.5,972.6 1498.4,967.5 1498.7,962.4 1499.6,957.3 1500.8,952.4 1502.5,947.6 1504.6,942.9 1507.2,938.5 1510.1,934.3 1513.3,930.4 1516.9,926.9 1520.8,923.6 1525.0,920.8 1529.4,918.3 1534.0,916.3 1538.8,914.6 1543.7,913.4 1548.6,912.7 1553.6,912.4 1558.6,912.5 1563.6,913.1 1568.5,914.1 1573.2,915.6 1577.8,917.5 1582.2,919.8 1586.4,922.5 1590.3,925.5 1594.0,928.9 1597.3,932.5 1600.2,936.5 1602.8,940.7 1605.0,945.1 1606.8,949.7 1608.1,954.4 1609.1,959.2 1609.5,964.1 1609.6,968.9 1609.2,973.8 1608.4,978.6 1607.1,983.3 1605.5,987.8 1603.4,992.2 1601.0,996.4 1598.2,1000.3 1595.0,1004.0 1591.6,1007.4 1587.9,1010.4 1583.9,1013.1 1579.7,1015.4 1575.3,1017.3 1570.7,1018.8 1566.1,1019.9 1561.4,1020.5 1556.6,1020.8 1551.9,1020.6 1547.2,1020.0 1542.6,1018.9 1538.1,1017.5 1533.7,1015.7 1529.6,1013.5 1525.6,1010.9 1522.0,1008.0 1518.6,1004.7 1515.5,1001.2 1512.7,997.5 1510.3,993.5 1508.3,989.3 1506.7,984.9 1505.4,980.5 1504.6,975.9 1504.2,971.3 1504.2,966.7 1504.6,962.1 1505.4,957.6 1506.6,953.1 1508.2,948.9 1510.2,944.7 1512.6,940.8 1515.3,937.1 1518.3,933.7 1521.6,930.6 1525.1,927.8 1528.9,925.3 1532.9,923.1 1537.0,921.4 1541.3,920.0 1545.7,919.0 1550.2,918.4 1554.6,918.3 1559.1,918.5 1563.5,919.1 1567.9,920.1 1572.1,921.5 1576.2,923.3 1580.1,925.4 1583.7,927.9 1587.2,930.7 1590.3,933.7 1593.2,937.1 1595.8,940.6 1598.0,944.4 1599.8,948.4 1601.3,952.5 1602.4,956.7 1603.2,961.0 1603.5,965.3 1603.5,969.6 1603.0,973.9 1602.2,978.2 1601.0,982.3 1599.5,986.3 1597.6,990.2 1595.3,993.8 1592.8,997.3 1589.9,1000.4 1586.8,1003.3 1583.4,1005.9 1579.9,1008.2 1576.1,1010.2 1572.2,1011.8 1568.2,1013.0 1564.1,1013.9 1559.9,1014.4 1555.7,1014.5 1551.5,1014.3 1547.4,1013.6 1543.4,1012.6 1539.4,1011.3 1535.7,1009.6 1532.0,1007.6 1528.6,1005.2 1525.5,1002.6 1522.6,999.7 1519.9,996.5 1517.6,993.2 1515.6,989.6 1513.9,985.9 1512.5,982.1 1511.5,978.2 1510.9,974.2 1510.6,970.1 1510.7,966.1 1511.1,962.1 1511.9,958.2 1513.1,954.3 1514.6,950.6 1516.4,947.1 1518.5,943.7 1520.9,940.6 1523.6,937.6 1526.5,935.0 1529.7,932.6 1533.0,930.5 1536.5,928.8 1540.2,927.3 1543.9,926.2 1547.7,925.5 1551.6,925.0 1555.5,925.0 1559.3,925.3 1563.1,925.9 1566.9,926.9 1570.5,928.1 1574.0,929.8 1577.3,931.7 1580.4,933.9 1583.3,936.3 1585.9,939.0 1588.3,942.0 1590.4,945.1 1592.3,948.4 1593.8,951.8 1595.0,955.4 1595.9,959.0 1596.4,962.7 1596.6,966.4 1596.5,970.1 1596.0,973.8 1595.2,977.4 1594.1,980.9 1592.7,984.3 1591.0,987.5 1589.0,990.5 1586.8,993.4 1584.3,996.0 1581.6,998.4 1578.6,1000.6 1575.6,1002.4 1572.3,1004.0 1569.0,1005.3 1565.6,1006.2 1562.1,1006.9 1558.5,1007.2 1555.0,1007.2 1551.5,1006.9 1548.0,1006.3 1544.6,1005.4 1541.4,1004.2 1538.2,1002.6 1535.2,1000.9 1532.4,998.8 1529.8,996.5 1527.5,994.1 1525.3,991.4 1523.5,988.5 1521.8,985.5 1520.5,982.4 1519.5,979.1 1518.7,975.8 1518.3,972.5 1518.2,969.1 1518.3,965.8 1518.8,962.5 1519.6,959.3 1520.6,956.1 1521.9,953.1 1523.5,950.2 1525.3,947.5 1527.4,944.9 1529.7,942.6 1532.1,940.5 1534.8,938.6 1537.6,937.0 1540.5,935.6 1543.5,934.5 1546.6,933.7 1549.7,933.2 1552.9,932.9 1556.0,933.0 1559.2,933.3 1562.3,933.9 1565.3,934.8 1568.2,935.9 1570.9,937.3 1573.6,938.9 1576.0,940.8 1578.3,942.9 1580.4,945.1 1582.2,947.5 1583.8,950.1 1585.2,952.8 1586.3,955.6 1587.2,958.4 1587.8,961.4 1588.1,964.3 1588.2,967.3 1588.0,970.2 1587.5,973.1 1586.8,975.9 1585.8,978.7 1584.6,981.3 1583.2,983.8 1581.5,986.2 1579.7,988.4 1577.7,990.4 1575.5,992.2 1573.1,993.8 1570.7,995.1 1568.1,996.3 1565.5,997.1 1562.8,997.8 1560.1,998.2 1557.3,998.3 1554.6,998.2 1551.9,997.9 1549.2,997.3 1546.7,996.5 1544.2,995.5 1541.9,994.2 1539.6,992.8 1537.6,991.1 1535.7,989.3 1533.9,987.4 1532.4,985.3 1531.1,983.0 1530.0,980.7 1529.1,978.3 1528.4,975.9 1528.0,973.4 1527.7,970.9 1527.8,968.4 1528.0,965.9 1528.5,963.5 1529.1,961.1 1530.0,958.8 1531.1,956.7 1532.3,954.6 1533.8,952.7 1535.4,950.9 1537.1,949.3 1539.0,947.9 1540.9,946.6 1543.0,945.6 1545.1,944.7 1547.3,944.0 1549.6,943.6 1551.8,943.3 1554.0,943.3 1556.3,943.4 1558.4,943.8 1560.6,944.4 1562.6,945.1 1564.6,946.0 1566.4,947.1 1568.2,948.3 1569.8,949.7 1571.2,951.2 1572.5,952.8 1573.7,954.5 1574.6,956.3 1575.4,958.2 1576.0,960.1 1576.5,962.0 1576.7,964.0 1576.8,966.0 1576.7,967.9 1576.4,969.8 1575.9,971.6 1575.3,973.4 1574.5,975.1 1573.6,976.7 1572.6,978.2 1571.4,979.5 1570.1,980.8 1568.8,981.9 1567.3,982.9 1565.8,983.7 1564.2,984.3 1562.6,984.8 1561.0,985.2 1559.4,985.4 1557.8,985.4 1556.2,985.3 1554.7,985.1 1553.2,984.7 1551.7,984.1 1550.4,983.5 1549.1,982.7 1547.9,981.8 1546.9,980.9 1545.9,979.8 1545.1,978.7 1544.4,977.6 1543.9,976.4 1543.4,975.1 1543.1,973.9 1543.0,972.6 1542.9,971.4 1543.0,970.2 1543.2,969.1 1543.6,968.0 1544.0,966.9 1544.5,966.0 1545.1,965.1 1545.8,964.4 1546.6,963.7 1547.4,963.2 1548.3,962.8 1549.2,962.5 1550.1,962.4 1551.0,962.4 1551.8,962.6 1552.7,962.9 1553.5,963.4 1554.2,964.2 1554.8,965.5Z" fill="url(#iL3_1)"/>
<path d="M1555.4,968.0 1557.1,970.4 1558.1,971.2 1559.1,971.6 1560.0,971.8 1560.9,971.8 1561.8,971.6 1562.6,971.2 1563.4,970.7 1564.1,970.1 1564.7,969.4 1565.3,968.6 1565.7,967.7 1566.1,966.7 1566.3,965.6 1566.4,964.6 1566.4,963.4 1566.3,962.3 1566.0,961.1 1565.7,960.0 1565.1,958.9 1564.5,957.8 1563.7,956.8 1562.9,955.8 1561.9,954.9 1560.8,954.1 1559.6,953.4 1558.3,952.8 1556.9,952.3 1555.5,951.9 1554.1,951.7 1552.6,951.6 1551.0,951.7 1549.5,951.9 1548.0,952.3 1546.4,952.8 1545.0,953.4 1543.5,954.3 1542.2,955.2 1540.9,956.3 1539.7,957.5 1538.6,958.9 1537.6,960.3 1536.8,961.9 1536.1,963.5 1535.6,965.2 1535.2,967.0 1535.0,968.8 1534.9,970.7 1535.0,972.6 1535.3,974.5 1535.8,976.3 1536.4,978.2 1537.2,979.9 1538.2,981.6 1539.4,983.3 1540.7,984.8 1542.1,986.2 1543.7,987.5 1545.4,988.7 1547.3,989.6 1549.2,990.5 1551.2,991.1 1553.3,991.6 1555.4,991.9 1557.6,992.0 1559.8,991.9 1561.9,991.5 1564.1,991.0 1566.2,990.3 1568.2,989.4 1570.2,988.3 1572.1,987.0 1573.9,985.6 1575.5,984.0 1577.0,982.2 1578.4,980.3 1579.5,978.2 1580.5,976.1 1581.3,973.8 1581.9,971.5 1582.2,969.1 1582.4,966.7 1582.3,964.2 1582.0,961.8 1581.5,959.4 1580.8,957.0 1579.8,954.7 1578.7,952.4 1577.3,950.3 1575.7,948.3 1574.0,946.4 1572.1,944.7 1570.0,943.2 1567.8,941.8 1565.4,940.7 1563.0,939.7 1560.4,939.0 1557.8,938.5 1555.1,938.3 1552.5,938.3 1549.8,938.5 1547.1,939.0 1544.5,939.7 1541.9,940.7 1539.4,941.9 1537.1,943.3 1534.8,945.0 1532.7,946.8 1530.8,948.8 1529.1,951.1 1527.5,953.4 1526.2,955.9 1525.1,958.6 1524.2,961.3 1523.6,964.1 1523.3,967.0 1523.2,969.9 1523.3,972.8 1523.8,975.7 1524.4,978.5 1525.4,981.3 1526.6,984.0 1528.0,986.6 1529.7,989.1 1531.6,991.4 1533.7,993.6 1536.1,995.5 1538.5,997.3 1541.2,998.8 1544.0,1000.1 1546.9,1001.1 1549.8,1001.8 1552.9,1002.3 1556.0,1002.6 1559.1,1002.5 1562.2,1002.1 1565.3,1001.5 1568.3,1000.6 1571.3,999.4 1574.1,998.0 1576.8,996.3 1579.3,994.3 1581.7,992.2 1583.8,989.8 1585.8,987.2 1587.5,984.4 1589.0,981.5 1590.2,978.5 1591.1,975.4 1591.7,972.1 1592.1,968.9 1592.1,965.6 1591.9,962.2 1591.3,959.0 1590.5,955.7 1589.3,952.6 1587.9,949.5 1586.2,946.6 1584.3,943.9 1582.1,941.3 1579.6,938.9 1577.0,936.7 1574.2,934.8 1571.1,933.2 1568.0,931.8 1564.7,930.7 1561.3,929.9 1557.9,929.4 1554.4,929.2 1550.9,929.3 1547.4,929.8 1544.0,930.5 1540.6,931.6 1537.4,933.0 1534.2,934.7 1531.3,936.6 1528.5,938.8 1525.9,941.3 1523.5,944.0 1521.4,946.9 1519.5,950.0 1517.9,953.2 1516.6,956.6 1515.7,960.1 1515.0,963.7 1514.7,967.4 1514.7,971.1 1515.0,974.7 1515.7,978.3 1516.7,981.9 1518.0,985.4 1519.6,988.7 1521.5,991.9 1523.7,994.9 1526.2,997.8 1528.9,1000.3 1531.9,1002.7 1535.0,1004.7 1538.4,1006.5 1541.9,1008.0 1545.5,1009.1 1549.2,1010.0 1553.0,1010.5 1556.9,1010.6 1560.7,1010.4 1564.5,1009.9 1568.3,1009.0 1571.9,1007.8 1575.5,1006.2 1578.9,1004.3 1582.1,1002.1 1585.2,999.7 1588.0,996.9 1590.5,994.0 1592.8,990.8 1594.8,987.3 1596.4,983.8 1597.8,980.0 1598.8,976.2 1599.5,972.3 1599.8,968.3 1599.7,964.3 1599.3,960.3 1598.5,956.4 1597.4,952.5 1595.9,948.8 1594.1,945.1 1592.0,941.7 1589.6,938.4 1586.8,935.4 1583.8,932.7 1580.6,930.2 1577.1,928.0 1573.5,926.1 1569.7,924.5 1565.7,923.3 1561.7,922.5 1557.6,922.0 1553.4,921.9 1549.3,922.2 1545.2,922.8 1541.1,923.8 1537.2,925.2 1533.4,926.9 1529.7,929.0 1526.2,931.4 1523.0,934.1 1520.0,937.1 1517.3,940.3 1514.9,943.8 1512.8,947.5 1511.0,951.4 1509.6,955.4 1508.6,959.6 1507.9,963.8 1507.6,968.1 1507.7,972.4 1508.2,976.7 1509.1,980.9 1510.4,985.0 1512.0,989.0 1514.0,992.9 1516.3,996.6 1519.0,1000.0 1522.0,1003.3 1525.2,1006.2 1528.7,1008.8 1532.4,1011.1 1536.4,1013.1 1540.5,1014.7 1544.7,1016.0 1549.1,1016.8 1553.5,1017.3 1557.9,1017.3 1562.3,1017.0 1566.7,1016.3 1571.1,1015.1 1575.3,1013.6 1579.3,1011.7 1583.2,1009.5 1586.9,1006.9 1590.3,1004.0 1593.5,1000.7 1596.3,997.2 1598.9,993.5 1601.1,989.5 1602.9,985.3 1604.4,981.0 1605.4,976.6 1606.1,972.1 1606.3,967.5 1606.2,962.9 1605.6,958.3 1604.6,953.9 1603.2,949.5 1601.4,945.2 1599.3,941.1 1596.7,937.2 1593.9,933.6 1590.7,930.2 1587.2,927.1 1583.4,924.3 1579.4,921.9 1575.2,919.9 1570.8,918.2 1566.3,916.9 1561.7,916.1 1557.0,915.6 1552.3,915.6 1547.6,916.0 1542.9,916.9 1538.4,918.1 1533.9,919.8 1529.6,921.8 1525.5,924.3 1521.7,927.0 1518.0,930.2 1514.7,933.6 1511.7,937.4 1509.1,941.4 1506.8,945.6 1504.9,950.1 1503.4,954.6 1502.4,959.4 1501.7,964.2 1501.5,969.0 1501.7,973.8 1502.4,978.7 1503.5,983.4 1505.0,988.0 1506.9,992.5 1509.3,996.8 1512.0,1000.9 1515.1,1004.7 1518.5,1008.3 1522.2,1011.5 1526.2,1014.4 1530.4,1016.9 1534.9,1019.0 1539.5,1020.7 1544.3,1022.0 1549.2,1022.9 1554.2,1023.3 1559.1,1023.2 1564.1,1022.8 1569.0,1021.8 1573.8,1020.5 1578.5,1018.7 1583.0,1016.5 1587.3,1013.8 1591.3,1010.9 1595.1,1007.5 1598.5,1003.8 1601.7,999.9 1604.4,995.6 1606.8,991.1 1608.7,986.4 1610.2,981.6 1611.3,976.6 1611.9,971.6 1612.1,966.5 1611.8,961.4 1611.1,956.3 1609.9,951.3 1608.2,946.5 1606.1,941.8 1603.6,937.3 1600.7,933.0 1597.5,929.0 1593.9,925.4 1589.9,922.0 1585.7,919.0 1581.2,916.4 1576.5,914.3 1571.6,912.5 1566.6,911.2 1561.4,910.4 1556.2,910.0 1551.0,910.1 1545.8,910.6 1540.6,911.6 1535.6,913.1 1530.7,915.0 1526.0,917.4 1521.6,920.2 1517.3,923.4 1513.4,926.9 1509.9,930.8 1506.6,935.0 1503.8,939.5 1501.4,944.2 1499.4,949.1 1497.8,954.2 1496.8,959.5 1496.2,964.8 1496.0,970.1 1496.4,975.4 1497.2,980.7 1498.5,985.9 1500.3,991.0 1502.5,995.9 1505.2,1000.6 1508.3,1005.0 1511.7,1009.1 1515.5,1012.9 1519.7,1016.4 1524.2,1019.5 1528.9,1022.1 1533.8,1024.4 1539.0,1026.2 1544.2,1027.5 1549.6,1028.3 1555.1,1028.7 1560.5,1028.5 1566.0,1027.9 1571.3,1026.8 1576.6,1025.2 1581.6,1023.1 1586.5,1020.6 1591.2,1017.6 1595.5,1014.3 1599.6,1010.5 1603.3,1006.4 1606.6,1002.0 1609.5,997.3 1612.0,992.4 1614.0,987.2 1615.6,981.9 1616.7,976.4 1617.2,970.9 1617.3,965.3 1616.9,959.7 1616.0,954.2 1614.6,948.8 1612.7,943.5 1610.3,938.5 1607.5,933.6 1604.2,929.0 1600.6,924.7 1596.6,920.8 1592.2,917.2 1587.5,914.1 1582.6,911.3 1577.4,909.1 1572.0,907.3 1566.5,905.9 1560.9,905.1 1555.2,904.8 1549.5,905.0 1543.9,905.7 1538.3,907.0 1532.9,908.7 1527.6,910.9 1522.5,913.5 1517.7,916.7 1513.2,920.2 1509.1,924.1 1505.2,928.4 1501.8,933.1 1498.8,938.0 1496.3,943.2 1494.3,948.6 1492.7,954.1 1491.6,959.8 1491.1,965.6 1491.0,971.4 1491.5,977.1 1492.6,982.9 1494.1,988.5 1496.1,993.9 1498.6,999.2 1501.6,1004.2 1505.0,1008.9 1508.8,1013.3 1513.1,1017.4 1517.6,1021.1 1522.5,1024.3 1527.7,1027.1 1533.1,1029.4 1538.7,1031.2 1544.4,1032.5 1550.2,1033.3 1556.1,1033.6 1562.0,1033.3 1567.9,1032.5 1573.7,1031.2 1579.3,1029.4 1584.8,1027.1 1590.0,1024.2 1594.9,1020.9 1599.6,1017.2 1603.9,1013.1 1607.8,1008.6 1611.3,1003.8 1614.3,998.6 1616.9,993.2 1619.0,987.6 1620.6,981.9 1621.6,975.9 1622.1,970.0 1622.1,964.0 1621.5,958.0 1620.4,952.1 1618.8,946.3 1616.6,940.6 1614.0,935.2 1610.9,930.0 1607.3,925.1 1603.3,920.6 1598.8,916.5 1594.1,912.7 1589.0,909.4 1588.4,909.1 1587.6,910.4 1588.2,910.7 1593.2,914.0 1597.8,917.6 1602.1,921.7 1606.1,926.1 1609.6,930.9 1612.6,936.0 1615.2,941.3 1617.3,946.8 1618.9,952.4 1620.0,958.2 1620.5,964.1 1620.5,969.9 1620.0,975.8 1619.0,981.5 1617.5,987.2 1615.4,992.6 1612.9,997.9 1609.9,1002.9 1606.5,1007.6 1602.7,1012.0 1598.5,1016.1 1594.0,1019.7 1589.1,1022.9 1584.0,1025.6 1578.7,1027.9 1573.2,1029.7 1567.6,1031.0 1561.9,1031.7 1556.1,1032.0 1550.4,1031.7 1544.7,1031.0 1539.1,1029.7 1533.6,1027.9 1528.4,1025.6 1523.3,1022.9 1518.6,1019.7 1514.1,1016.2 1510.0,1012.2 1506.3,1007.9 1502.9,1003.3 1500.0,998.4 1497.6,993.3 1495.6,988.0 1494.1,982.5 1493.2,976.9 1492.7,971.3 1492.7,965.6 1493.2,960.0 1494.3,954.5 1495.8,949.1 1497.8,943.8 1500.3,938.8 1503.2,934.0 1506.5,929.5 1510.2,925.3 1514.3,921.4 1518.7,918.0 1523.4,915.0 1528.3,912.4 1533.5,910.2 1538.8,908.5 1544.2,907.4 1549.7,906.7 1555.2,906.5 1560.7,906.8 1566.2,907.6 1571.6,908.9 1576.8,910.6 1581.8,912.9 1586.7,915.5 1591.2,918.6 1595.4,922.1 1599.4,925.9 1602.9,930.1 1606.1,934.5 1608.8,939.3 1611.1,944.2 1612.9,949.3 1614.3,954.6 1615.2,960.0 1615.6,965.4 1615.5,970.8 1615.0,976.2 1613.9,981.5 1612.4,986.7 1610.4,991.7 1608.0,996.5 1605.2,1001.1 1601.9,1005.4 1598.3,1009.3 1594.4,1013.0 1590.2,1016.2 1585.6,1019.1 1580.9,1021.5 1576.0,1023.5 1570.9,1025.1 1565.7,1026.2 1560.4,1026.8 1555.1,1026.9 1549.8,1026.6 1544.6,1025.8 1539.4,1024.5 1534.4,1022.8 1529.6,1020.6 1525.1,1018.0 1520.7,1015.0 1516.7,1011.6 1513.0,1007.9 1509.6,1003.9 1506.7,999.6 1504.1,995.1 1501.9,990.3 1500.2,985.4 1498.9,980.3 1498.1,975.2 1497.8,970.0 1497.9,964.9 1498.5,959.7 1499.6,954.7 1501.1,949.7 1503.0,944.9 1505.4,940.4 1508.1,936.0 1511.2,931.9 1514.7,928.2 1518.5,924.7 1522.6,921.7 1526.9,919.0 1531.5,916.7 1536.2,914.8 1541.1,913.4 1546.1,912.4 1551.1,911.9 1556.2,911.8 1561.2,912.2 1566.2,913.0 1571.1,914.3 1575.8,916.0 1580.4,918.1 1584.7,920.6 1588.8,923.5 1592.6,926.7 1596.1,930.3 1599.3,934.2 1602.1,938.3 1604.5,942.6 1606.5,947.2 1608.1,951.9 1609.2,956.7 1610.0,961.6 1610.2,966.5 1610.1,971.5 1609.5,976.3 1608.4,981.1 1606.9,985.8 1605.0,990.4 1602.8,994.7 1600.1,998.8 1597.1,1002.6 1593.8,1006.2 1590.1,1009.4 1586.2,1012.3 1582.1,1014.8 1577.7,1016.9 1573.2,1018.7 1568.5,1020.0 1563.8,1020.9 1559.0,1021.3 1554.2,1021.4 1549.4,1021.0 1544.7,1020.1 1540.1,1018.9 1535.6,1017.2 1531.3,1015.2 1527.2,1012.7 1523.4,1010.0 1519.8,1006.8 1516.5,1003.4 1513.5,999.7 1510.9,995.8 1508.7,991.6 1506.8,987.3 1505.4,982.8 1504.3,978.3 1503.7,973.6 1503.5,969.0 1503.7,964.3 1504.3,959.7 1505.3,955.1 1506.8,950.7 1508.6,946.5 1510.8,942.4 1513.4,938.5 1516.3,934.9 1519.4,931.6 1522.9,928.6 1526.6,925.9 1530.6,923.6 1534.7,921.6 1539.0,920.0 1543.4,918.8 1547.9,918.0 1552.4,917.6 1556.9,917.7 1561.5,918.1 1565.9,918.9 1570.2,920.1 1574.4,921.8 1578.5,923.7 1582.3,926.1 1585.9,928.7 1589.3,931.7 1592.3,934.9 1595.1,938.4 1597.5,942.2 1599.6,946.1 1601.3,950.2 1602.6,954.4 1603.5,958.7 1604.1,963.1 1604.2,967.5 1604.0,971.9 1603.4,976.2 1602.3,980.5 1600.9,984.6 1599.2,988.6 1597.1,992.4 1594.6,996.0 1591.9,999.4 1588.9,1002.4 1585.6,1005.2 1582.0,1007.7 1578.3,1009.9 1574.4,1011.7 1570.4,1013.1 1566.3,1014.2 1562.0,1014.9 1557.8,1015.2 1553.6,1015.1 1549.3,1014.7 1545.2,1013.9 1541.1,1012.7 1537.2,1011.1 1533.5,1009.2 1529.9,1007.0 1526.6,1004.5 1523.5,1001.7 1520.6,998.6 1518.1,995.3 1515.9,991.8 1514.0,988.1 1512.4,984.3 1511.2,980.3 1510.4,976.3 1510.0,972.2 1509.9,968.1 1510.1,964.0 1510.8,960.0 1511.8,956.0 1513.1,952.2 1514.8,948.5 1516.8,945.0 1519.1,941.6 1521.7,938.5 1524.6,935.7 1527.6,933.1 1530.9,930.9 1534.4,928.9 1538.1,927.3 1541.8,926.0 1545.7,925.0 1549.6,924.4 1553.5,924.2 1557.5,924.3 1561.4,924.8 1565.2,925.6 1569.0,926.7 1572.6,928.2 1576.0,930.0 1579.3,932.1 1582.4,934.5 1585.2,937.1 1587.8,940.0 1590.1,943.1 1592.1,946.3 1593.8,949.8 1595.2,953.3 1596.2,957.0 1597.0,960.7 1597.3,964.5 1597.4,968.3 1597.1,972.0 1596.4,975.8 1595.5,979.4 1594.2,982.9 1592.6,986.3 1590.7,989.5 1588.5,992.5 1586.1,995.3 1583.5,997.9 1580.6,1000.2 1577.6,1002.3 1574.3,1004.0 1571.0,1005.5 1567.5,1006.6 1564.0,1007.4 1560.4,1007.9 1556.8,1008.1 1553.2,1008.0 1549.6,1007.5 1546.1,1006.7 1542.7,1005.6 1539.4,1004.2 1536.3,1002.5 1533.3,1000.6 1530.5,998.4 1528.0,995.9 1525.7,993.3 1523.6,990.4 1521.8,987.4 1520.3,984.3 1519.1,981.0 1518.2,977.7 1517.6,974.3 1517.3,970.9 1517.3,967.4 1517.6,964.0 1518.3,960.7 1519.2,957.4 1520.4,954.2 1521.9,951.2 1523.6,948.3 1525.6,945.6 1527.9,943.1 1530.3,940.8 1532.9,938.8 1535.7,937.0 1538.6,935.4 1541.7,934.2 1544.8,933.2 1548.0,932.5 1551.2,932.1 1554.5,932.0 1557.7,932.2 1560.9,932.6 1564.0,933.4 1567.1,934.4 1570.0,935.7 1572.8,937.3 1575.4,939.1 1577.8,941.1 1580.1,943.3 1582.1,945.7 1583.9,948.3 1585.4,951.0 1586.7,953.8 1587.7,956.7 1588.5,959.7 1589.0,962.7 1589.2,965.8 1589.1,968.8 1588.8,971.8 1588.2,974.8 1587.3,977.6 1586.2,980.4 1584.8,983.1 1583.2,985.6 1581.4,987.9 1579.4,990.1 1577.3,992.1 1574.9,993.8 1572.5,995.4 1569.9,996.7 1567.2,997.7 1564.4,998.5 1561.6,999.1 1558.8,999.4 1555.9,999.4 1553.1,999.2 1550.4,998.7 1547.7,998.0 1545.0,997.0 1542.5,995.9 1540.1,994.5 1537.9,992.9 1535.8,991.1 1534.0,989.1 1532.3,987.0 1530.8,984.8 1529.5,982.4 1528.4,980.0 1527.6,977.5 1527.0,974.9 1526.7,972.3 1526.5,969.7 1526.7,967.1 1527.0,964.5 1527.6,962.0 1528.4,959.6 1529.4,957.3 1530.6,955.0 1532.0,953.0 1533.6,951.0 1535.3,949.2 1537.2,947.6 1539.2,946.2 1541.3,945.0 1543.5,944.0 1545.8,943.1 1548.1,942.5 1550.5,942.1 1552.8,942.0 1555.2,942.0 1557.5,942.3 1559.8,942.7 1562.0,943.4 1564.1,944.3 1566.1,945.3 1568.0,946.5 1569.8,947.9 1571.4,949.4 1572.9,951.0 1574.2,952.8 1575.4,954.6 1576.3,956.6 1577.1,958.6 1577.7,960.6 1578.1,962.7 1578.2,964.8 1578.2,966.9 1578.1,968.9 1577.7,970.9 1577.1,972.9 1576.4,974.7 1575.6,976.5 1574.5,978.2 1573.4,979.8 1572.1,981.2 1570.7,982.5 1569.1,983.7 1567.6,984.7 1565.9,985.5 1564.2,986.2 1562.4,986.7 1560.7,987.0 1558.9,987.2 1557.1,987.2 1555.4,987.1 1553.7,986.7 1552.1,986.3 1550.5,985.7 1549.0,984.9 1547.6,984.1 1546.4,983.1 1545.2,982.0 1544.1,980.8 1543.2,979.6 1542.4,978.3 1541.8,976.9 1541.3,975.5 1540.9,974.1 1540.7,972.7 1540.6,971.3 1540.7,969.9 1540.9,968.6 1541.2,967.3 1541.6,966.1 1542.2,964.9 1542.8,963.8 1543.5,962.9 1544.4,962.0 1545.2,961.2 1546.2,960.6 1547.2,960.0 1548.2,959.6 1549.2,959.3 1550.2,959.2 1551.2,959.2 1552.2,959.3 1553.1,959.5 1554.0,959.8 1554.8,960.3 1555.5,960.9 1556.0,961.5 1556.5,962.3 1556.8,963.3 1556.8,964.3 1556.5,965.7Z" fill="url(#iL3_2)"/>
</g></g>
<rect x="1310.3" y="722.1" width="297.3" height="296.6" fill="none" stroke="#000" stroke-width="2"/>
<rect x="1628.3" y="718.8" width="24.3" height="300.4" fill="url(#cbg)" stroke="url(#cbs)" stroke-width="1.5"/>
<path d="M1652.6,739.0h-3M1652.6,770.2h-3M1652.6,801.4h-3M1652.6,832.6h-3M1652.6,863.8h-3M1652.6,895.0h-3M1652.6,926.2h-3M1652.6,957.4h-3M1652.6,988.6h-3" stroke="#555" stroke-width="1.2"/>
<g font-family="'Liberation Sans',Arial,sans-serif" font-size="9.8" fill="#555"><text x="1656.8" y="742.9">18</text><text x="1656.8" y="774.1">16</text><text x="1656.8" y="805.3">14</text><text x="1656.8" y="836.5">12</text><text x="1656.8" y="867.7">10</text><text x="1656.8" y="898.9">8</text><text x="1656.8" y="930.1">6</text><text x="1656.8" y="961.3">4</text><text x="1656.8" y="992.5">2</text></g>
<text x="1654.1" y="713.3" font-family="'Liberation Sans',Arial,sans-serif" font-size="11" fill="#777">×<tspan font-size="12.5" fill="#666">10</tspan><tspan font-size="7.5" dy="-5" fill="#777">-11</tspan></text>
<g font-family="'Liberation Sans',Arial,sans-serif" font-size="13" fill="#4a4a4a"><text x="1284.4" y="740.2" text-anchor="end">-9</text><text x="1284.4" y="785.7" text-anchor="end">-6</text><text x="1284.4" y="831.2" text-anchor="end">-3</text><text x="1284.4" y="876.7" text-anchor="end">0</text><text x="1284.4" y="922.2" text-anchor="end">3</text><text x="1284.4" y="967.7" text-anchor="end">6</text><text x="1284.4" y="1013.2" text-anchor="end">9</text><text x="1324.5" y="1040.4" text-anchor="middle">-9</text><text x="1369.5" y="1040.4" text-anchor="middle">-6</text><text x="1414.4" y="1040.4" text-anchor="middle">-3</text><text x="1461.3" y="1040.4" text-anchor="middle">0</text><text x="1506.3" y="1040.4" text-anchor="middle">3</text><text x="1551.2" y="1040.4" text-anchor="middle">6</text><text x="1596.2" y="1040.4" text-anchor="middle">9</text></g>
<text x="1311.8" y="712.0" font-family="'Liberation Sans',Arial,sans-serif" font-size="17" fill="#8a8a8a">×<tspan fill="#606060" font-size="14" font-weight="bold" letter-spacing="-1.2" dx="1">10</tspan><tspan font-size="7" dy="-5.5" fill="#999">-6</tspan></text>
<text transform="translate(1463.6,1086.6) scale(1,1.055)" text-anchor="middle" font-family="'Liberation Serif','Times New Roman',serif" font-weight="bold" font-size="42" fill="#14A04E">1560 nm</text>
<text x="2.8" y="683.4" font-family="'Liberation Sans',Arial,sans-serif" font-weight="bold" font-size="41" fill="#262626">(c)</text>
</g>
</svg>
</body></html>
